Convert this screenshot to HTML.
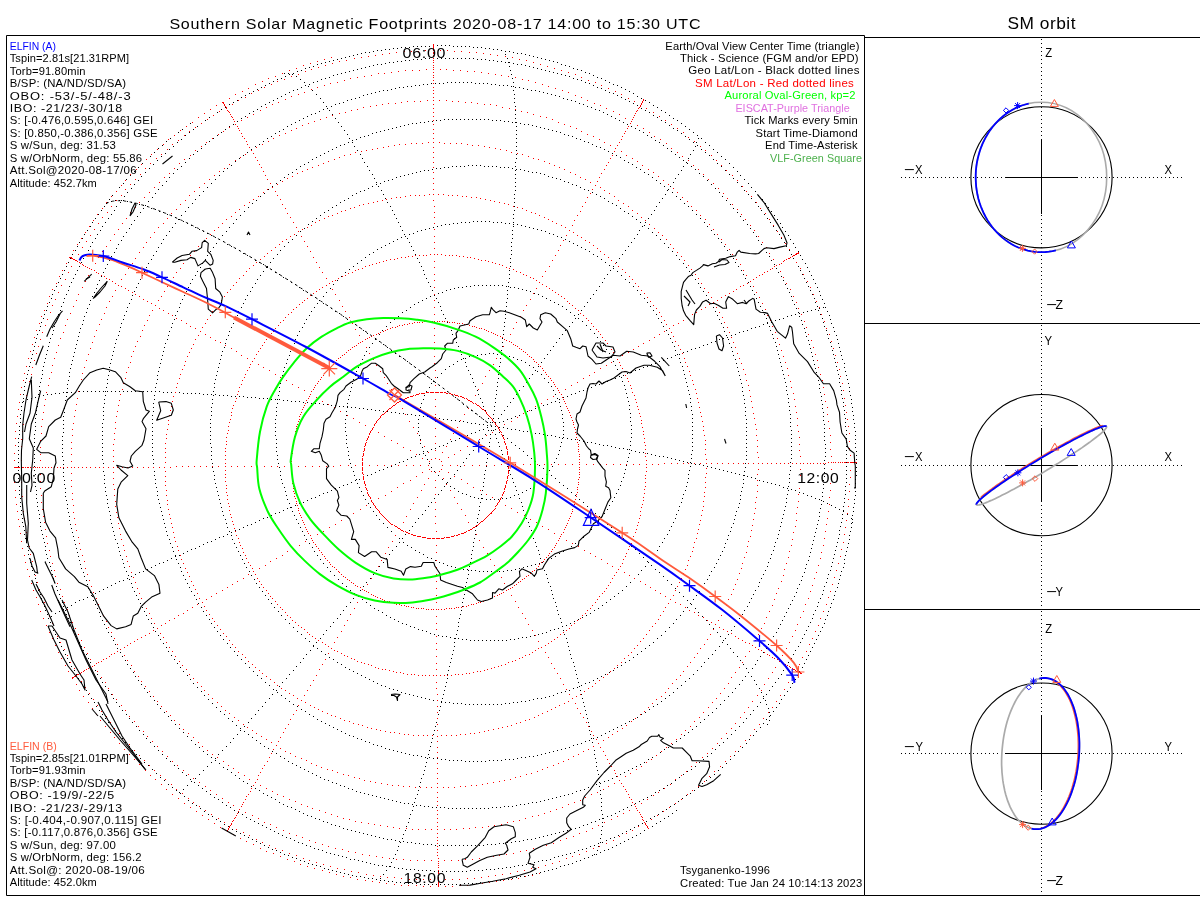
<!DOCTYPE html><html><head><meta charset="utf-8"><title>Southern Solar Magnetic Footprints</title><style>html,body{margin:0;padding:0;background:#fff;overflow:hidden}svg{display:block}</style></head><body><svg width="1200" height="900" viewBox="0 0 1200 900">
<rect width="1200" height="900" fill="#fff"/>
<defs><clipPath id="mc"><rect x="6" y="35" width="858" height="860"/></clipPath></defs>
<g clip-path="url(#mc)">
<path d="M106 203h1v1h-1zM109 199h1v1h-1zM112 195h1v1h-1zM116 191h1v1h-1zM119 187h1v1h-1zM123 183h1v1h-1zM126 179h1v1h-1zM130 175h1v1h-1zM134 171h1v1h-1zM138 167h1v1h-1zM142 163h1v1h-1zM146 159h1v1h-1zM150 156h1v1h-1zM154 152h1v1h-1zM158 148h1v1h-1zM162 145h1v1h-1zM166 141h1v1h-1zM170 138h1v1h-1zM174 135h1v1h-1zM178 132h1v1h-1zM182 129h1v1h-1zM186 126h1v1h-1zM190 123h1v1h-1zM676 810h1v1h-1zM672 813h1v1h-1zM668 816h1v1h-1zM664 818h1v1h-1zM660 821h1v1h-1zM656 823h1v1h-1zM652 826h1v1h-1zM648 828h1v1h-1zM644 830h1v1h-1zM640 833h1v1h-1zM636 835h1v1h-1zM632 837h1v1h-1zM628 839h1v1h-1zM624 841h1v1h-1zM620 843h1v1h-1zM616 845h1v1h-1zM612 847h1v1h-1zM608 849h1v1h-1zM604 850h1v1h-1zM600 852h1v1h-1zM596 854h1v1h-1zM592 855h1v1h-1zM588 857h1v1h-1zM584 858h1v1h-1zM580 860h1v1h-1zM576 861h1v1h-1zM572 863h1v1h-1zM568 864h1v1h-1zM564 865h1v1h-1zM560 866h1v1h-1zM556 868h1v1h-1zM552 869h1v1h-1zM548 870h1v1h-1zM544 871h1v1h-1zM540 872h1v1h-1zM536 873h1v1h-1zM532 874h1v1h-1zM528 875h1v1h-1zM524 876h1v1h-1zM520 876h1v1h-1zM516 877h1v1h-1zM512 878h1v1h-1zM508 879h1v1h-1zM504 879h1v1h-1zM500 880h1v1h-1zM496 880h1v1h-1zM492 881h1v1h-1zM488 881h1v1h-1zM484 882h1v1h-1zM480 882h1v1h-1zM476 883h1v1h-1zM472 883h1v1h-1zM468 883h1v1h-1zM464 883h1v1h-1zM460 884h1v1h-1zM456 884h1v1h-1zM452 884h1v1h-1zM448 884h1v1h-1zM444 884h1v1h-1zM440 884h1v1h-1zM436 884h1v1h-1zM432 884h1v1h-1zM428 884h1v1h-1zM424 884h1v1h-1zM420 884h1v1h-1zM416 883h1v1h-1zM412 883h1v1h-1zM408 883h1v1h-1zM404 883h1v1h-1zM400 882h1v1h-1zM396 882h1v1h-1zM392 881h1v1h-1zM388 881h1v1h-1zM384 880h1v1h-1zM380 880h1v1h-1zM376 879h1v1h-1zM372 878h1v1h-1zM368 878h1v1h-1zM364 877h1v1h-1zM360 876h1v1h-1zM356 876h1v1h-1zM352 875h1v1h-1zM348 874h1v1h-1zM344 873h1v1h-1zM340 872h1v1h-1zM336 871h1v1h-1zM332 870h1v1h-1zM328 869h1v1h-1zM324 868h1v1h-1zM320 866h1v1h-1zM316 865h1v1h-1zM312 864h1v1h-1zM308 863h1v1h-1zM304 861h1v1h-1zM300 860h1v1h-1zM296 858h1v1h-1zM292 857h1v1h-1zM288 855h1v1h-1zM284 854h1v1h-1zM280 852h1v1h-1zM276 850h1v1h-1zM272 849h1v1h-1zM268 847h1v1h-1zM264 845h1v1h-1zM260 843h1v1h-1zM256 841h1v1h-1zM252 839h1v1h-1zM248 837h1v1h-1zM244 835h1v1h-1zM240 833h1v1h-1zM236 831h1v1h-1zM232 829h1v1h-1zM228 826h1v1h-1zM224 824h1v1h-1zM220 821h1v1h-1zM216 819h1v1h-1zM212 816h1v1h-1zM208 814h1v1h-1zM204 811h1v1h-1zM200 808h1v1h-1zM196 805h1v1h-1zM192 803h1v1h-1zM188 800h1v1h-1zM184 796h1v1h-1zM180 793h1v1h-1zM176 790h1v1h-1zM172 787h1v1h-1zM168 784h1v1h-1zM164 780h1v1h-1zM160 777h1v1h-1zM156 773h1v1h-1zM152 769h1v1h-1zM148 765h1v1h-1zM144 762h1v1h-1zM140 758h1v1h-1zM136 754h1v1h-1zM132 750h1v1h-1zM129 746h1v1h-1zM125 742h1v1h-1zM122 738h1v1h-1zM118 734h1v1h-1zM115 730h1v1h-1zM112 726h1v1h-1zM108 722h1v1h-1zM105 718h1v1h-1zM102 714h1v1h-1zM99 710h1v1h-1zM96 706h1v1h-1zM94 702h1v1h-1zM91 698h1v1h-1zM88 694h1v1h-1zM86 690h1v1h-1zM83 686h1v1h-1zM81 682h1v1h-1zM78 678h1v1h-1zM76 674h1v1h-1zM74 670h1v1h-1zM71 666h1v1h-1zM69 662h1v1h-1zM67 658h1v1h-1zM65 654h1v1h-1zM63 650h1v1h-1zM61 646h1v1h-1zM59 642h1v1h-1zM57 638h1v1h-1zM55 634h1v1h-1zM53 630h1v1h-1zM52 626h1v1h-1zM50 622h1v1h-1zM48 618h1v1h-1zM47 614h1v1h-1zM45 610h1v1h-1zM44 606h1v1h-1zM42 602h1v1h-1zM41 598h1v1h-1zM40 594h1v1h-1zM38 590h1v1h-1zM37 586h1v1h-1zM36 582h1v1h-1zM35 578h1v1h-1zM34 574h1v1h-1zM32 570h1v1h-1zM31 566h1v1h-1zM30 562h1v1h-1zM29 558h1v1h-1zM28 554h1v1h-1zM28 550h1v1h-1zM27 546h1v1h-1zM26 542h1v1h-1zM25 538h1v1h-1zM24 534h1v1h-1zM24 530h1v1h-1zM23 526h1v1h-1zM22 522h1v1h-1zM22 518h1v1h-1zM21 514h1v1h-1zM21 510h1v1h-1zM20 506h1v1h-1zM20 502h1v1h-1zM20 498h1v1h-1zM19 494h1v1h-1zM19 490h1v1h-1zM19 486h1v1h-1zM18 482h1v1h-1zM18 478h1v1h-1zM18 474h1v1h-1zM18 470h1v1h-1zM18 466h1v1h-1zM18 462h1v1h-1zM18 458h1v1h-1zM18 454h1v1h-1zM18 450h1v1h-1zM18 446h1v1h-1zM18 442h1v1h-1zM18 438h1v1h-1zM19 434h1v1h-1zM19 430h1v1h-1zM19 426h1v1h-1zM20 422h1v1h-1zM20 418h1v1h-1zM20 414h1v1h-1zM21 410h1v1h-1zM21 406h1v1h-1zM22 402h1v1h-1zM23 398h1v1h-1zM23 394h1v1h-1zM24 390h1v1h-1zM24 386h1v1h-1zM25 382h1v1h-1zM26 378h1v1h-1zM27 374h1v1h-1zM28 370h1v1h-1zM29 366h1v1h-1zM30 362h1v1h-1zM31 358h1v1h-1zM32 354h1v1h-1zM33 350h1v1h-1zM34 346h1v1h-1zM35 342h1v1h-1zM36 338h1v1h-1zM37 334h1v1h-1zM39 330h1v1h-1zM40 326h1v1h-1zM41 322h1v1h-1zM43 318h1v1h-1zM44 314h1v1h-1zM46 310h1v1h-1zM47 306h1v1h-1zM49 302h1v1h-1zM51 298h1v1h-1zM52 294h1v1h-1zM54 290h1v1h-1zM56 286h1v1h-1zM58 282h1v1h-1zM60 278h1v1h-1zM62 274h1v1h-1zM64 270h1v1h-1zM66 266h1v1h-1zM68 262h1v1h-1zM70 258h1v1h-1zM72 254h1v1h-1zM75 250h1v1h-1zM77 246h1v1h-1zM79 242h1v1h-1zM82 238h1v1h-1zM84 234h1v1h-1zM87 230h1v1h-1zM90 226h1v1h-1zM92 222h1v1h-1zM95 218h1v1h-1zM98 214h1v1h-1zM101 210h1v1h-1zM104 206h1v1h-1zM121 200h1v1h-1zM124 196h1v1h-1zM127 192h1v1h-1zM131 188h1v1h-1zM134 184h1v1h-1zM138 180h1v1h-1zM141 176h1v1h-1zM145 172h1v1h-1zM149 168h1v1h-1zM153 164h1v1h-1zM157 160h1v1h-1zM161 156h1v1h-1zM165 153h1v1h-1zM169 149h1v1h-1zM173 146h1v1h-1zM177 142h1v1h-1zM181 139h1v1h-1zM185 135h1v1h-1zM189 132h1v1h-1zM193 129h1v1h-1zM197 126h1v1h-1zM201 123h1v1h-1zM205 120h1v1h-1zM209 117h1v1h-1zM213 115h1v1h-1zM217 112h1v1h-1zM221 109h1v1h-1zM225 107h1v1h-1zM229 104h1v1h-1zM233 102h1v1h-1zM237 100h1v1h-1zM241 97h1v1h-1zM245 95h1v1h-1zM249 93h1v1h-1zM253 91h1v1h-1zM257 89h1v1h-1zM261 87h1v1h-1zM265 85h1v1h-1zM269 83h1v1h-1zM273 81h1v1h-1zM277 79h1v1h-1zM281 78h1v1h-1zM285 76h1v1h-1zM289 74h1v1h-1zM293 73h1v1h-1zM297 71h1v1h-1zM301 70h1v1h-1zM305 68h1v1h-1zM309 67h1v1h-1zM313 66h1v1h-1zM317 64h1v1h-1zM321 63h1v1h-1zM325 62h1v1h-1zM329 61h1v1h-1zM333 60h1v1h-1zM337 59h1v1h-1zM341 58h1v1h-1zM345 57h1v1h-1zM349 56h1v1h-1zM353 55h1v1h-1zM357 54h1v1h-1zM361 53h1v1h-1zM365 52h1v1h-1zM369 52h1v1h-1zM373 51h1v1h-1zM377 50h1v1h-1zM381 50h1v1h-1zM385 49h1v1h-1zM389 49h1v1h-1zM393 48h1v1h-1zM397 48h1v1h-1zM401 47h1v1h-1zM405 47h1v1h-1zM409 47h1v1h-1zM413 46h1v1h-1zM417 46h1v1h-1zM421 46h1v1h-1zM425 46h1v1h-1zM429 46h1v1h-1zM433 45h1v1h-1zM437 45h1v1h-1zM441 45h1v1h-1zM445 45h1v1h-1zM449 45h1v1h-1zM453 46h1v1h-1zM457 46h1v1h-1zM461 46h1v1h-1zM465 46h1v1h-1zM469 46h1v1h-1zM473 47h1v1h-1zM477 47h1v1h-1zM481 47h1v1h-1zM485 48h1v1h-1zM489 48h1v1h-1zM493 49h1v1h-1zM497 49h1v1h-1zM501 50h1v1h-1zM505 51h1v1h-1zM509 51h1v1h-1zM513 52h1v1h-1zM517 53h1v1h-1zM521 53h1v1h-1zM525 54h1v1h-1zM529 55h1v1h-1zM533 56h1v1h-1zM537 57h1v1h-1zM541 58h1v1h-1zM545 59h1v1h-1zM549 60h1v1h-1zM553 61h1v1h-1zM557 62h1v1h-1zM561 64h1v1h-1zM565 65h1v1h-1zM569 66h1v1h-1zM573 68h1v1h-1zM577 69h1v1h-1zM581 70h1v1h-1zM585 72h1v1h-1zM589 73h1v1h-1zM593 75h1v1h-1zM597 77h1v1h-1zM601 78h1v1h-1zM605 80h1v1h-1zM609 82h1v1h-1zM613 84h1v1h-1zM617 85h1v1h-1zM621 87h1v1h-1zM625 89h1v1h-1zM629 91h1v1h-1zM633 93h1v1h-1zM637 96h1v1h-1zM641 98h1v1h-1zM645 100h1v1h-1zM649 102h1v1h-1zM653 105h1v1h-1zM657 107h1v1h-1zM661 110h1v1h-1zM665 112h1v1h-1zM669 115h1v1h-1zM673 118h1v1h-1zM677 120h1v1h-1zM681 123h1v1h-1zM685 126h1v1h-1zM689 129h1v1h-1zM693 132h1v1h-1zM697 135h1v1h-1zM701 138h1v1h-1zM705 142h1v1h-1zM709 145h1v1h-1zM713 149h1v1h-1zM717 152h1v1h-1zM721 156h1v1h-1zM725 159h1v1h-1zM729 163h1v1h-1zM733 167h1v1h-1zM737 171h1v1h-1zM740 175h1v1h-1zM744 179h1v1h-1zM748 183h1v1h-1zM751 187h1v1h-1zM755 191h1v1h-1zM758 195h1v1h-1zM762 199h1v1h-1zM765 203h1v1h-1zM768 207h1v1h-1zM771 211h1v1h-1zM774 215h1v1h-1zM777 219h1v1h-1zM780 223h1v1h-1zM782 227h1v1h-1zM785 231h1v1h-1zM788 235h1v1h-1zM790 239h1v1h-1zM793 243h1v1h-1zM795 247h1v1h-1zM798 251h1v1h-1zM800 255h1v1h-1zM802 259h1v1h-1zM805 263h1v1h-1zM807 267h1v1h-1zM809 271h1v1h-1zM811 275h1v1h-1zM813 279h1v1h-1zM815 283h1v1h-1zM817 287h1v1h-1zM819 291h1v1h-1zM820 295h1v1h-1zM822 299h1v1h-1zM824 303h1v1h-1zM825 307h1v1h-1zM827 311h1v1h-1zM829 315h1v1h-1zM830 319h1v1h-1zM831 323h1v1h-1zM833 327h1v1h-1zM834 331h1v1h-1zM836 335h1v1h-1zM837 339h1v1h-1zM838 343h1v1h-1zM839 347h1v1h-1zM840 351h1v1h-1zM841 355h1v1h-1zM842 359h1v1h-1zM844 363h1v1h-1zM844 367h1v1h-1zM845 371h1v1h-1zM846 375h1v1h-1zM847 379h1v1h-1zM848 383h1v1h-1zM849 387h1v1h-1zM849 391h1v1h-1zM850 395h1v1h-1zM851 399h1v1h-1zM851 403h1v1h-1zM852 407h1v1h-1zM852 411h1v1h-1zM853 415h1v1h-1zM853 419h1v1h-1zM854 423h1v1h-1zM854 427h1v1h-1zM855 431h1v1h-1zM855 435h1v1h-1zM855 439h1v1h-1zM855 443h1v1h-1zM855 447h1v1h-1zM856 451h1v1h-1zM856 455h1v1h-1zM856 459h1v1h-1zM856 463h1v1h-1zM856 467h1v1h-1zM856 471h1v1h-1zM856 475h1v1h-1zM855 479h1v1h-1zM855 483h1v1h-1zM855 487h1v1h-1zM855 491h1v1h-1zM855 495h1v1h-1zM854 499h1v1h-1zM854 503h1v1h-1zM853 507h1v1h-1zM853 511h1v1h-1zM852 515h1v1h-1zM852 519h1v1h-1zM851 523h1v1h-1zM851 527h1v1h-1zM850 531h1v1h-1zM849 535h1v1h-1zM849 539h1v1h-1zM848 543h1v1h-1zM847 547h1v1h-1zM846 551h1v1h-1zM845 555h1v1h-1zM844 559h1v1h-1zM844 563h1v1h-1zM843 567h1v1h-1zM841 571h1v1h-1zM840 575h1v1h-1zM839 579h1v1h-1zM838 583h1v1h-1zM837 587h1v1h-1zM835 591h1v1h-1zM834 595h1v1h-1zM833 599h1v1h-1zM831 603h1v1h-1zM830 607h1v1h-1zM828 611h1v1h-1zM827 615h1v1h-1zM825 619h1v1h-1zM824 623h1v1h-1zM822 627h1v1h-1zM820 631h1v1h-1zM818 635h1v1h-1zM816 639h1v1h-1zM814 643h1v1h-1zM812 647h1v1h-1zM810 651h1v1h-1zM808 655h1v1h-1zM806 659h1v1h-1zM804 663h1v1h-1zM802 667h1v1h-1zM799 671h1v1h-1zM797 675h1v1h-1zM795 679h1v1h-1zM792 683h1v1h-1zM790 687h1v1h-1zM787 691h1v1h-1zM784 695h1v1h-1zM781 699h1v1h-1zM779 703h1v1h-1zM776 707h1v1h-1zM773 711h1v1h-1zM770 715h1v1h-1zM766 719h1v1h-1zM763 723h1v1h-1zM760 727h1v1h-1zM756 731h1v1h-1zM753 735h1v1h-1zM749 739h1v1h-1zM746 743h1v1h-1zM742 747h1v1h-1zM738 751h1v1h-1zM734 755h1v1h-1zM730 759h1v1h-1zM726 763h1v1h-1zM722 767h1v1h-1zM718 770h1v1h-1zM714 774h1v1h-1zM710 777h1v1h-1zM706 780h1v1h-1zM702 783h1v1h-1zM698 787h1v1h-1zM694 790h1v1h-1zM690 793h1v1h-1zM686 795h1v1h-1zM682 798h1v1h-1zM678 801h1v1h-1zM674 804h1v1h-1zM670 806h1v1h-1zM666 809h1v1h-1zM662 811h1v1h-1zM658 814h1v1h-1zM654 816h1v1h-1zM650 818h1v1h-1zM646 821h1v1h-1zM642 823h1v1h-1zM638 825h1v1h-1zM634 827h1v1h-1zM630 829h1v1h-1zM626 831h1v1h-1zM622 833h1v1h-1zM618 835h1v1h-1zM614 837h1v1h-1zM610 838h1v1h-1zM606 840h1v1h-1zM602 842h1v1h-1zM598 843h1v1h-1zM594 845h1v1h-1zM590 846h1v1h-1zM586 848h1v1h-1zM582 849h1v1h-1zM578 850h1v1h-1zM574 852h1v1h-1zM570 853h1v1h-1zM566 854h1v1h-1zM562 855h1v1h-1zM558 856h1v1h-1zM554 857h1v1h-1zM550 859h1v1h-1zM546 860h1v1h-1zM542 860h1v1h-1zM538 861h1v1h-1zM534 862h1v1h-1zM530 863h1v1h-1zM526 864h1v1h-1zM522 865h1v1h-1zM518 865h1v1h-1zM514 866h1v1h-1zM510 867h1v1h-1zM506 867h1v1h-1zM502 868h1v1h-1zM498 868h1v1h-1zM494 869h1v1h-1zM490 869h1v1h-1zM486 869h1v1h-1zM482 870h1v1h-1zM478 870h1v1h-1zM474 870h1v1h-1zM470 870h1v1h-1zM466 871h1v1h-1zM462 871h1v1h-1zM458 871h1v1h-1zM454 871h1v1h-1zM450 871h1v1h-1zM446 871h1v1h-1zM442 871h1v1h-1zM438 871h1v1h-1zM434 871h1v1h-1zM430 870h1v1h-1zM426 870h1v1h-1zM422 870h1v1h-1zM418 870h1v1h-1zM414 869h1v1h-1zM410 869h1v1h-1zM406 869h1v1h-1zM402 868h1v1h-1zM398 868h1v1h-1zM394 867h1v1h-1zM390 866h1v1h-1zM386 866h1v1h-1zM382 865h1v1h-1zM378 865h1v1h-1zM374 864h1v1h-1zM370 863h1v1h-1zM366 862h1v1h-1zM362 861h1v1h-1zM358 860h1v1h-1zM354 859h1v1h-1zM350 859h1v1h-1zM346 857h1v1h-1zM342 856h1v1h-1zM338 855h1v1h-1zM334 854h1v1h-1zM330 853h1v1h-1zM326 852h1v1h-1zM322 850h1v1h-1zM318 849h1v1h-1zM314 848h1v1h-1zM310 846h1v1h-1zM306 845h1v1h-1zM302 843h1v1h-1zM298 842h1v1h-1zM294 840h1v1h-1zM290 838h1v1h-1zM286 837h1v1h-1zM282 835h1v1h-1zM278 833h1v1h-1zM274 831h1v1h-1zM270 829h1v1h-1zM266 827h1v1h-1zM262 825h1v1h-1zM258 823h1v1h-1zM254 821h1v1h-1zM250 819h1v1h-1zM246 817h1v1h-1zM242 814h1v1h-1zM238 812h1v1h-1zM234 810h1v1h-1zM230 807h1v1h-1zM226 805h1v1h-1zM222 802h1v1h-1zM218 799h1v1h-1zM214 797h1v1h-1zM210 794h1v1h-1zM206 791h1v1h-1zM202 788h1v1h-1zM198 785h1v1h-1zM194 782h1v1h-1zM190 779h1v1h-1zM186 775h1v1h-1zM182 772h1v1h-1zM178 768h1v1h-1zM174 765h1v1h-1zM170 761h1v1h-1zM166 758h1v1h-1zM162 754h1v1h-1zM158 750h1v1h-1zM154 746h1v1h-1zM150 742h1v1h-1zM146 738h1v1h-1zM143 734h1v1h-1zM139 730h1v1h-1zM136 726h1v1h-1zM132 722h1v1h-1zM129 718h1v1h-1zM126 714h1v1h-1zM122 710h1v1h-1zM119 706h1v1h-1zM116 702h1v1h-1zM113 698h1v1h-1zM111 694h1v1h-1zM108 690h1v1h-1zM105 686h1v1h-1zM102 682h1v1h-1zM100 678h1v1h-1zM97 674h1v1h-1zM95 670h1v1h-1zM92 666h1v1h-1zM90 662h1v1h-1zM88 658h1v1h-1zM86 654h1v1h-1zM83 650h1v1h-1zM81 646h1v1h-1zM79 642h1v1h-1zM77 638h1v1h-1zM75 634h1v1h-1zM73 630h1v1h-1zM72 626h1v1h-1zM70 622h1v1h-1zM68 618h1v1h-1zM66 614h1v1h-1zM65 610h1v1h-1zM63 606h1v1h-1zM62 602h1v1h-1zM60 598h1v1h-1zM59 594h1v1h-1zM57 590h1v1h-1zM56 586h1v1h-1zM54 582h1v1h-1zM53 578h1v1h-1zM52 574h1v1h-1zM51 570h1v1h-1zM50 566h1v1h-1zM49 562h1v1h-1zM47 558h1v1h-1zM46 554h1v1h-1zM45 550h1v1h-1zM45 546h1v1h-1zM44 542h1v1h-1zM43 538h1v1h-1zM42 534h1v1h-1zM41 530h1v1h-1zM40 526h1v1h-1zM40 522h1v1h-1zM39 518h1v1h-1zM39 514h1v1h-1zM38 510h1v1h-1zM37 506h1v1h-1zM37 502h1v1h-1zM36 498h1v1h-1zM36 494h1v1h-1zM36 490h1v1h-1zM35 486h1v1h-1zM35 482h1v1h-1zM35 478h1v1h-1zM35 474h1v1h-1zM34 470h1v1h-1zM34 466h1v1h-1zM34 462h1v1h-1zM34 458h1v1h-1zM34 454h1v1h-1zM34 450h1v1h-1zM34 446h1v1h-1zM34 442h1v1h-1zM34 438h1v1h-1zM34 434h1v1h-1zM35 430h1v1h-1zM35 426h1v1h-1zM35 422h1v1h-1zM35 418h1v1h-1zM36 414h1v1h-1zM36 410h1v1h-1zM37 406h1v1h-1zM37 402h1v1h-1zM38 398h1v1h-1zM38 394h1v1h-1zM39 390h1v1h-1zM39 386h1v1h-1zM40 382h1v1h-1zM41 378h1v1h-1zM42 374h1v1h-1zM42 370h1v1h-1zM43 366h1v1h-1zM44 362h1v1h-1zM45 358h1v1h-1zM46 354h1v1h-1zM47 350h1v1h-1zM48 346h1v1h-1zM49 342h1v1h-1zM50 338h1v1h-1zM52 334h1v1h-1zM53 330h1v1h-1zM54 326h1v1h-1zM55 322h1v1h-1zM57 318h1v1h-1zM58 314h1v1h-1zM60 310h1v1h-1zM61 306h1v1h-1zM63 302h1v1h-1zM64 298h1v1h-1zM66 294h1v1h-1zM68 290h1v1h-1zM69 286h1v1h-1zM71 282h1v1h-1zM73 278h1v1h-1zM75 274h1v1h-1zM77 270h1v1h-1zM79 266h1v1h-1zM81 262h1v1h-1zM83 258h1v1h-1zM85 254h1v1h-1zM88 250h1v1h-1zM90 246h1v1h-1zM92 242h1v1h-1zM95 238h1v1h-1zM97 234h1v1h-1zM100 230h1v1h-1zM102 226h1v1h-1zM105 222h1v1h-1zM108 218h1v1h-1zM111 214h1v1h-1zM114 210h1v1h-1zM116 206h1v1h-1zM120 202h1v1h-1zM145 205h1v1h-1zM148 201h1v1h-1zM152 197h1v1h-1zM155 193h1v1h-1zM158 189h1v1h-1zM162 185h1v1h-1zM166 181h1v1h-1zM169 177h1v1h-1zM173 173h1v1h-1zM177 169h1v1h-1zM181 166h1v1h-1zM185 162h1v1h-1zM189 158h1v1h-1zM193 154h1v1h-1zM197 151h1v1h-1zM201 148h1v1h-1zM205 144h1v1h-1zM209 141h1v1h-1zM213 138h1v1h-1zM217 135h1v1h-1zM221 132h1v1h-1zM225 129h1v1h-1zM229 126h1v1h-1zM233 124h1v1h-1zM237 121h1v1h-1zM241 118h1v1h-1zM245 116h1v1h-1zM249 113h1v1h-1zM253 111h1v1h-1zM257 109h1v1h-1zM261 106h1v1h-1zM265 104h1v1h-1zM269 102h1v1h-1zM273 100h1v1h-1zM277 98h1v1h-1zM281 96h1v1h-1zM285 94h1v1h-1zM289 92h1v1h-1zM293 90h1v1h-1zM297 89h1v1h-1zM301 87h1v1h-1zM305 85h1v1h-1zM309 84h1v1h-1zM313 82h1v1h-1zM317 81h1v1h-1zM321 79h1v1h-1zM325 78h1v1h-1zM329 77h1v1h-1zM333 75h1v1h-1zM337 74h1v1h-1zM341 73h1v1h-1zM345 72h1v1h-1zM349 71h1v1h-1zM353 70h1v1h-1zM357 69h1v1h-1zM361 68h1v1h-1zM365 67h1v1h-1zM369 66h1v1h-1zM373 65h1v1h-1zM377 64h1v1h-1zM381 64h1v1h-1zM385 63h1v1h-1zM389 62h1v1h-1zM393 62h1v1h-1zM397 61h1v1h-1zM401 61h1v1h-1zM405 60h1v1h-1zM409 60h1v1h-1zM413 59h1v1h-1zM417 59h1v1h-1zM421 59h1v1h-1zM425 58h1v1h-1zM429 58h1v1h-1zM433 58h1v1h-1zM437 58h1v1h-1zM441 58h1v1h-1zM445 58h1v1h-1zM449 58h1v1h-1zM453 58h1v1h-1zM457 58h1v1h-1zM461 58h1v1h-1zM465 58h1v1h-1zM469 58h1v1h-1zM473 58h1v1h-1zM477 59h1v1h-1zM481 59h1v1h-1zM485 59h1v1h-1zM489 60h1v1h-1zM493 60h1v1h-1zM497 61h1v1h-1zM501 61h1v1h-1zM505 62h1v1h-1zM509 62h1v1h-1zM513 63h1v1h-1zM517 64h1v1h-1zM521 64h1v1h-1zM525 65h1v1h-1zM529 66h1v1h-1zM533 67h1v1h-1zM537 68h1v1h-1zM541 69h1v1h-1zM545 70h1v1h-1zM549 71h1v1h-1zM553 72h1v1h-1zM557 73h1v1h-1zM561 74h1v1h-1zM565 75h1v1h-1zM569 76h1v1h-1zM573 78h1v1h-1zM577 79h1v1h-1zM581 80h1v1h-1zM585 82h1v1h-1zM589 83h1v1h-1zM593 85h1v1h-1zM597 87h1v1h-1zM601 88h1v1h-1zM605 90h1v1h-1zM609 92h1v1h-1zM613 93h1v1h-1zM617 95h1v1h-1zM621 97h1v1h-1zM625 99h1v1h-1zM629 101h1v1h-1zM633 103h1v1h-1zM637 105h1v1h-1zM641 108h1v1h-1zM645 110h1v1h-1zM649 112h1v1h-1zM653 115h1v1h-1zM657 117h1v1h-1zM661 120h1v1h-1zM665 122h1v1h-1zM669 125h1v1h-1zM673 128h1v1h-1zM677 130h1v1h-1zM681 133h1v1h-1zM685 136h1v1h-1zM689 139h1v1h-1zM693 142h1v1h-1zM697 145h1v1h-1zM701 149h1v1h-1zM705 152h1v1h-1zM709 155h1v1h-1zM713 159h1v1h-1zM717 163h1v1h-1zM721 166h1v1h-1zM725 170h1v1h-1zM729 174h1v1h-1zM733 178h1v1h-1zM737 182h1v1h-1zM741 186h1v1h-1zM744 190h1v1h-1zM748 194h1v1h-1zM751 198h1v1h-1zM755 202h1v1h-1zM758 206h1v1h-1zM761 210h1v1h-1zM764 214h1v1h-1zM767 218h1v1h-1zM770 222h1v1h-1zM773 226h1v1h-1zM776 230h1v1h-1zM779 234h1v1h-1zM781 238h1v1h-1zM784 242h1v1h-1zM786 246h1v1h-1zM789 250h1v1h-1zM791 254h1v1h-1zM793 258h1v1h-1zM796 262h1v1h-1zM798 266h1v1h-1zM800 270h1v1h-1zM802 274h1v1h-1zM804 278h1v1h-1zM806 282h1v1h-1zM808 286h1v1h-1zM810 290h1v1h-1zM812 294h1v1h-1zM814 298h1v1h-1zM815 302h1v1h-1zM817 306h1v1h-1zM818 310h1v1h-1zM820 314h1v1h-1zM822 318h1v1h-1zM823 322h1v1h-1zM824 326h1v1h-1zM826 330h1v1h-1zM827 334h1v1h-1zM828 338h1v1h-1zM830 342h1v1h-1zM831 346h1v1h-1zM832 350h1v1h-1zM833 354h1v1h-1zM834 358h1v1h-1zM835 362h1v1h-1zM836 366h1v1h-1zM837 370h1v1h-1zM838 374h1v1h-1zM839 378h1v1h-1zM839 382h1v1h-1zM840 386h1v1h-1zM841 390h1v1h-1zM841 394h1v1h-1zM842 398h1v1h-1zM843 402h1v1h-1zM843 406h1v1h-1zM844 410h1v1h-1zM844 414h1v1h-1zM845 418h1v1h-1zM845 422h1v1h-1zM845 426h1v1h-1zM846 430h1v1h-1zM846 434h1v1h-1zM846 438h1v1h-1zM846 442h1v1h-1zM846 446h1v1h-1zM846 450h1v1h-1zM846 454h1v1h-1zM846 458h1v1h-1zM846 462h1v1h-1zM846 466h1v1h-1zM846 470h1v1h-1zM846 474h1v1h-1zM846 478h1v1h-1zM846 482h1v1h-1zM845 486h1v1h-1zM845 490h1v1h-1zM845 494h1v1h-1zM844 498h1v1h-1zM844 502h1v1h-1zM843 506h1v1h-1zM843 510h1v1h-1zM842 514h1v1h-1zM842 518h1v1h-1zM841 522h1v1h-1zM840 526h1v1h-1zM839 530h1v1h-1zM839 534h1v1h-1zM838 538h1v1h-1zM837 542h1v1h-1zM836 546h1v1h-1zM835 550h1v1h-1zM834 554h1v1h-1zM833 558h1v1h-1zM832 562h1v1h-1zM831 566h1v1h-1zM830 570h1v1h-1zM828 574h1v1h-1zM827 578h1v1h-1zM826 582h1v1h-1zM824 586h1v1h-1zM823 590h1v1h-1zM822 594h1v1h-1zM820 598h1v1h-1zM818 602h1v1h-1zM817 606h1v1h-1zM815 610h1v1h-1zM813 614h1v1h-1zM812 618h1v1h-1zM810 622h1v1h-1zM808 626h1v1h-1zM806 630h1v1h-1zM804 634h1v1h-1zM802 638h1v1h-1zM800 642h1v1h-1zM798 646h1v1h-1zM795 650h1v1h-1zM793 654h1v1h-1zM791 658h1v1h-1zM788 662h1v1h-1zM786 666h1v1h-1zM783 670h1v1h-1zM781 674h1v1h-1zM778 678h1v1h-1zM775 682h1v1h-1zM772 686h1v1h-1zM769 690h1v1h-1zM766 694h1v1h-1zM763 698h1v1h-1zM760 702h1v1h-1zM757 706h1v1h-1zM753 710h1v1h-1zM750 714h1v1h-1zM746 718h1v1h-1zM743 722h1v1h-1zM739 726h1v1h-1zM735 730h1v1h-1zM731 734h1v1h-1zM727 738h1v1h-1zM723 742h1v1h-1zM719 745h1v1h-1zM715 749h1v1h-1zM711 753h1v1h-1zM707 756h1v1h-1zM703 759h1v1h-1zM699 762h1v1h-1zM695 766h1v1h-1zM691 769h1v1h-1zM687 771h1v1h-1zM683 774h1v1h-1zM679 777h1v1h-1zM675 780h1v1h-1zM671 783h1v1h-1zM667 785h1v1h-1zM663 788h1v1h-1zM659 790h1v1h-1zM655 792h1v1h-1zM651 795h1v1h-1zM647 797h1v1h-1zM643 799h1v1h-1zM639 801h1v1h-1zM635 803h1v1h-1zM631 805h1v1h-1zM627 807h1v1h-1zM623 809h1v1h-1zM619 811h1v1h-1zM615 813h1v1h-1zM611 815h1v1h-1zM607 816h1v1h-1zM603 818h1v1h-1zM599 819h1v1h-1zM595 821h1v1h-1zM591 822h1v1h-1zM587 824h1v1h-1zM583 825h1v1h-1zM579 827h1v1h-1zM575 828h1v1h-1zM571 829h1v1h-1zM567 830h1v1h-1zM563 831h1v1h-1zM559 832h1v1h-1zM555 833h1v1h-1zM551 834h1v1h-1zM547 835h1v1h-1zM543 836h1v1h-1zM539 837h1v1h-1zM535 838h1v1h-1zM531 839h1v1h-1zM527 839h1v1h-1zM523 840h1v1h-1zM519 841h1v1h-1zM515 841h1v1h-1zM511 842h1v1h-1zM507 842h1v1h-1zM503 843h1v1h-1zM499 843h1v1h-1zM495 844h1v1h-1zM491 844h1v1h-1zM487 844h1v1h-1zM483 845h1v1h-1zM479 845h1v1h-1zM475 845h1v1h-1zM471 845h1v1h-1zM467 845h1v1h-1zM463 845h1v1h-1zM459 845h1v1h-1zM455 845h1v1h-1zM451 845h1v1h-1zM447 845h1v1h-1zM443 845h1v1h-1zM439 845h1v1h-1zM435 845h1v1h-1zM431 844h1v1h-1zM427 844h1v1h-1zM423 844h1v1h-1zM419 843h1v1h-1zM415 843h1v1h-1zM411 842h1v1h-1zM407 842h1v1h-1zM403 841h1v1h-1zM399 841h1v1h-1zM395 840h1v1h-1zM391 839h1v1h-1zM387 839h1v1h-1zM383 838h1v1h-1zM379 837h1v1h-1zM375 836h1v1h-1zM371 835h1v1h-1zM367 834h1v1h-1zM363 833h1v1h-1zM359 832h1v1h-1zM355 831h1v1h-1zM351 830h1v1h-1zM347 829h1v1h-1zM343 828h1v1h-1zM339 826h1v1h-1zM335 825h1v1h-1zM331 824h1v1h-1zM327 822h1v1h-1zM323 821h1v1h-1zM319 819h1v1h-1zM315 818h1v1h-1zM311 816h1v1h-1zM307 815h1v1h-1zM303 813h1v1h-1zM299 811h1v1h-1zM295 809h1v1h-1zM291 807h1v1h-1zM287 806h1v1h-1zM283 804h1v1h-1zM279 802h1v1h-1zM275 799h1v1h-1zM271 797h1v1h-1zM267 795h1v1h-1zM263 793h1v1h-1zM259 790h1v1h-1zM255 788h1v1h-1zM251 786h1v1h-1zM247 783h1v1h-1zM243 781h1v1h-1zM239 778h1v1h-1zM235 775h1v1h-1zM231 772h1v1h-1zM227 769h1v1h-1zM223 767h1v1h-1zM219 763h1v1h-1zM215 760h1v1h-1zM211 757h1v1h-1zM207 754h1v1h-1zM203 751h1v1h-1zM199 747h1v1h-1zM195 744h1v1h-1zM191 740h1v1h-1zM187 736h1v1h-1zM183 732h1v1h-1zM179 728h1v1h-1zM175 724h1v1h-1zM171 720h1v1h-1zM168 716h1v1h-1zM164 712h1v1h-1zM160 708h1v1h-1zM157 704h1v1h-1zM154 700h1v1h-1zM150 696h1v1h-1zM147 692h1v1h-1zM144 688h1v1h-1zM141 684h1v1h-1zM138 680h1v1h-1zM135 676h1v1h-1zM133 672h1v1h-1zM130 668h1v1h-1zM127 664h1v1h-1zM125 660h1v1h-1zM122 656h1v1h-1zM120 652h1v1h-1zM117 648h1v1h-1zM115 644h1v1h-1zM113 640h1v1h-1zM111 636h1v1h-1zM108 632h1v1h-1zM106 628h1v1h-1zM104 624h1v1h-1zM102 620h1v1h-1zM100 616h1v1h-1zM99 612h1v1h-1zM97 608h1v1h-1zM95 604h1v1h-1zM93 600h1v1h-1zM92 596h1v1h-1zM90 592h1v1h-1zM88 588h1v1h-1zM87 584h1v1h-1zM86 580h1v1h-1zM84 576h1v1h-1zM83 572h1v1h-1zM81 568h1v1h-1zM80 564h1v1h-1zM79 560h1v1h-1zM78 556h1v1h-1zM77 552h1v1h-1zM76 548h1v1h-1zM75 544h1v1h-1zM74 540h1v1h-1zM73 536h1v1h-1zM72 532h1v1h-1zM71 528h1v1h-1zM70 524h1v1h-1zM69 520h1v1h-1zM69 516h1v1h-1zM68 512h1v1h-1zM67 508h1v1h-1zM67 504h1v1h-1zM66 500h1v1h-1zM65 496h1v1h-1zM65 492h1v1h-1zM65 488h1v1h-1zM64 484h1v1h-1zM64 480h1v1h-1zM63 476h1v1h-1zM63 472h1v1h-1zM63 468h1v1h-1zM63 464h1v1h-1zM63 460h1v1h-1zM62 456h1v1h-1zM62 452h1v1h-1zM62 448h1v1h-1zM62 444h1v1h-1zM62 440h1v1h-1zM62 436h1v1h-1zM63 432h1v1h-1zM63 428h1v1h-1zM63 424h1v1h-1zM63 420h1v1h-1zM63 416h1v1h-1zM64 412h1v1h-1zM64 408h1v1h-1zM65 404h1v1h-1zM65 400h1v1h-1zM66 396h1v1h-1zM66 392h1v1h-1zM67 388h1v1h-1zM67 384h1v1h-1zM68 380h1v1h-1zM69 376h1v1h-1zM69 372h1v1h-1zM70 368h1v1h-1zM71 364h1v1h-1zM72 360h1v1h-1zM73 356h1v1h-1zM74 352h1v1h-1zM75 348h1v1h-1zM76 344h1v1h-1zM77 340h1v1h-1zM78 336h1v1h-1zM79 332h1v1h-1zM80 328h1v1h-1zM82 324h1v1h-1zM83 320h1v1h-1zM84 316h1v1h-1zM86 312h1v1h-1zM87 308h1v1h-1zM89 304h1v1h-1zM90 300h1v1h-1zM92 296h1v1h-1zM94 292h1v1h-1zM96 288h1v1h-1zM97 284h1v1h-1zM99 280h1v1h-1zM101 276h1v1h-1zM103 272h1v1h-1zM105 268h1v1h-1zM107 264h1v1h-1zM109 260h1v1h-1zM111 256h1v1h-1zM114 252h1v1h-1zM116 248h1v1h-1zM118 244h1v1h-1zM121 240h1v1h-1zM123 236h1v1h-1zM126 232h1v1h-1zM129 228h1v1h-1zM131 224h1v1h-1zM134 220h1v1h-1zM137 216h1v1h-1zM140 212h1v1h-1zM143 208h1v1h-1zM178 219h1v1h-1zM181 215h1v1h-1zM185 211h1v1h-1zM188 207h1v1h-1zM192 203h1v1h-1zM195 199h1v1h-1zM199 195h1v1h-1zM203 191h1v1h-1zM207 187h1v1h-1zM211 183h1v1h-1zM215 179h1v1h-1zM219 175h1v1h-1zM223 171h1v1h-1zM227 168h1v1h-1zM231 165h1v1h-1zM235 161h1v1h-1zM239 158h1v1h-1zM243 155h1v1h-1zM247 152h1v1h-1zM251 149h1v1h-1zM255 146h1v1h-1zM259 144h1v1h-1zM263 141h1v1h-1zM267 138h1v1h-1zM271 136h1v1h-1zM275 133h1v1h-1zM279 131h1v1h-1zM283 129h1v1h-1zM287 126h1v1h-1zM291 124h1v1h-1zM295 122h1v1h-1zM299 120h1v1h-1zM303 118h1v1h-1zM307 116h1v1h-1zM311 114h1v1h-1zM315 113h1v1h-1zM319 111h1v1h-1zM323 109h1v1h-1zM327 108h1v1h-1zM331 106h1v1h-1zM335 104h1v1h-1zM339 103h1v1h-1zM343 102h1v1h-1zM347 100h1v1h-1zM351 99h1v1h-1zM355 98h1v1h-1zM359 97h1v1h-1zM363 95h1v1h-1zM367 94h1v1h-1zM371 93h1v1h-1zM375 92h1v1h-1zM379 91h1v1h-1zM383 90h1v1h-1zM387 90h1v1h-1zM391 89h1v1h-1zM395 88h1v1h-1zM399 87h1v1h-1zM403 87h1v1h-1zM407 86h1v1h-1zM411 86h1v1h-1zM415 85h1v1h-1zM419 85h1v1h-1zM423 84h1v1h-1zM427 84h1v1h-1zM431 83h1v1h-1zM435 83h1v1h-1zM439 83h1v1h-1zM443 83h1v1h-1zM447 82h1v1h-1zM451 82h1v1h-1zM455 82h1v1h-1zM459 82h1v1h-1zM463 82h1v1h-1zM467 82h1v1h-1zM471 82h1v1h-1zM475 83h1v1h-1zM479 83h1v1h-1zM483 83h1v1h-1zM487 83h1v1h-1zM491 84h1v1h-1zM495 84h1v1h-1zM499 85h1v1h-1zM503 85h1v1h-1zM507 85h1v1h-1zM511 86h1v1h-1zM515 87h1v1h-1zM519 87h1v1h-1zM523 88h1v1h-1zM527 89h1v1h-1zM531 90h1v1h-1zM535 90h1v1h-1zM539 91h1v1h-1zM543 92h1v1h-1zM547 93h1v1h-1zM551 94h1v1h-1zM555 95h1v1h-1zM559 96h1v1h-1zM563 98h1v1h-1zM567 99h1v1h-1zM571 100h1v1h-1zM575 101h1v1h-1zM579 103h1v1h-1zM583 104h1v1h-1zM587 106h1v1h-1zM591 107h1v1h-1zM595 109h1v1h-1zM599 110h1v1h-1zM603 112h1v1h-1zM607 114h1v1h-1zM611 116h1v1h-1zM615 118h1v1h-1zM619 120h1v1h-1zM623 122h1v1h-1zM627 124h1v1h-1zM631 126h1v1h-1zM635 128h1v1h-1zM639 130h1v1h-1zM643 132h1v1h-1zM647 135h1v1h-1zM651 137h1v1h-1zM655 140h1v1h-1zM659 142h1v1h-1zM663 145h1v1h-1zM667 148h1v1h-1zM671 151h1v1h-1zM675 154h1v1h-1zM679 157h1v1h-1zM683 160h1v1h-1zM687 163h1v1h-1zM691 166h1v1h-1zM695 169h1v1h-1zM699 173h1v1h-1zM703 176h1v1h-1zM707 180h1v1h-1zM711 184h1v1h-1zM715 188h1v1h-1zM719 192h1v1h-1zM722 196h1v1h-1zM726 200h1v1h-1zM730 204h1v1h-1zM733 208h1v1h-1zM737 212h1v1h-1zM740 216h1v1h-1zM743 220h1v1h-1zM747 224h1v1h-1zM750 228h1v1h-1zM753 232h1v1h-1zM756 236h1v1h-1zM758 240h1v1h-1zM761 244h1v1h-1zM764 248h1v1h-1zM766 252h1v1h-1zM769 256h1v1h-1zM771 260h1v1h-1zM774 264h1v1h-1zM776 268h1v1h-1zM778 272h1v1h-1zM781 276h1v1h-1zM783 280h1v1h-1zM785 284h1v1h-1zM787 288h1v1h-1zM789 292h1v1h-1zM791 296h1v1h-1zM792 300h1v1h-1zM794 304h1v1h-1zM796 308h1v1h-1zM798 312h1v1h-1zM799 316h1v1h-1zM801 320h1v1h-1zM802 324h1v1h-1zM804 328h1v1h-1zM805 332h1v1h-1zM806 336h1v1h-1zM808 340h1v1h-1zM809 344h1v1h-1zM810 348h1v1h-1zM811 352h1v1h-1zM812 356h1v1h-1zM813 360h1v1h-1zM814 364h1v1h-1zM815 368h1v1h-1zM816 372h1v1h-1zM817 376h1v1h-1zM818 380h1v1h-1zM819 384h1v1h-1zM819 388h1v1h-1zM820 392h1v1h-1zM821 396h1v1h-1zM821 400h1v1h-1zM822 404h1v1h-1zM822 408h1v1h-1zM823 412h1v1h-1zM823 416h1v1h-1zM823 420h1v1h-1zM824 424h1v1h-1zM824 428h1v1h-1zM824 432h1v1h-1zM824 436h1v1h-1zM824 440h1v1h-1zM825 444h1v1h-1zM825 448h1v1h-1zM825 452h1v1h-1zM825 456h1v1h-1zM824 460h1v1h-1zM824 464h1v1h-1zM824 468h1v1h-1zM824 472h1v1h-1zM824 476h1v1h-1zM823 480h1v1h-1zM823 484h1v1h-1zM823 488h1v1h-1zM822 492h1v1h-1zM822 496h1v1h-1zM821 500h1v1h-1zM821 504h1v1h-1zM820 508h1v1h-1zM819 512h1v1h-1zM819 516h1v1h-1zM818 520h1v1h-1zM817 524h1v1h-1zM816 528h1v1h-1zM815 532h1v1h-1zM814 536h1v1h-1zM813 540h1v1h-1zM812 544h1v1h-1zM811 548h1v1h-1zM810 552h1v1h-1zM809 556h1v1h-1zM808 560h1v1h-1zM806 564h1v1h-1zM805 568h1v1h-1zM804 572h1v1h-1zM802 576h1v1h-1zM801 580h1v1h-1zM799 584h1v1h-1zM797 588h1v1h-1zM796 592h1v1h-1zM794 596h1v1h-1zM792 600h1v1h-1zM790 604h1v1h-1zM788 608h1v1h-1zM786 612h1v1h-1zM784 616h1v1h-1zM782 620h1v1h-1zM780 624h1v1h-1zM778 628h1v1h-1zM776 632h1v1h-1zM773 636h1v1h-1zM771 640h1v1h-1zM768 644h1v1h-1zM766 648h1v1h-1zM763 652h1v1h-1zM760 656h1v1h-1zM757 660h1v1h-1zM755 664h1v1h-1zM752 668h1v1h-1zM748 672h1v1h-1zM745 676h1v1h-1zM742 680h1v1h-1zM739 684h1v1h-1zM735 688h1v1h-1zM732 692h1v1h-1zM728 696h1v1h-1zM724 700h1v1h-1zM720 704h1v1h-1zM716 708h1v1h-1zM712 712h1v1h-1zM708 715h1v1h-1zM704 719h1v1h-1zM700 722h1v1h-1zM696 726h1v1h-1zM692 729h1v1h-1zM688 732h1v1h-1zM684 735h1v1h-1zM680 738h1v1h-1zM676 741h1v1h-1zM672 744h1v1h-1zM668 747h1v1h-1zM664 749h1v1h-1zM660 752h1v1h-1zM656 755h1v1h-1zM652 757h1v1h-1zM648 759h1v1h-1zM644 762h1v1h-1zM640 764h1v1h-1zM636 766h1v1h-1zM632 768h1v1h-1zM628 770h1v1h-1zM624 772h1v1h-1zM620 774h1v1h-1zM616 776h1v1h-1zM612 778h1v1h-1zM608 780h1v1h-1zM604 781h1v1h-1zM600 783h1v1h-1zM596 784h1v1h-1zM592 786h1v1h-1zM588 787h1v1h-1zM584 789h1v1h-1zM580 790h1v1h-1zM576 791h1v1h-1zM572 793h1v1h-1zM568 794h1v1h-1zM564 795h1v1h-1zM560 796h1v1h-1zM556 797h1v1h-1zM552 798h1v1h-1zM548 799h1v1h-1zM544 800h1v1h-1zM540 801h1v1h-1zM536 802h1v1h-1zM532 802h1v1h-1zM528 803h1v1h-1zM524 804h1v1h-1zM520 804h1v1h-1zM516 805h1v1h-1zM512 806h1v1h-1zM508 806h1v1h-1zM504 806h1v1h-1zM500 807h1v1h-1zM496 807h1v1h-1zM492 807h1v1h-1zM488 808h1v1h-1zM484 808h1v1h-1zM480 808h1v1h-1zM476 808h1v1h-1zM472 808h1v1h-1zM468 808h1v1h-1zM464 808h1v1h-1zM460 808h1v1h-1zM456 808h1v1h-1zM452 808h1v1h-1zM448 808h1v1h-1zM444 807h1v1h-1zM440 807h1v1h-1zM436 807h1v1h-1zM432 807h1v1h-1zM428 806h1v1h-1zM424 806h1v1h-1zM420 805h1v1h-1zM416 805h1v1h-1zM412 804h1v1h-1zM408 803h1v1h-1zM404 803h1v1h-1zM400 802h1v1h-1zM396 801h1v1h-1zM392 800h1v1h-1zM388 799h1v1h-1zM384 798h1v1h-1zM380 797h1v1h-1zM376 796h1v1h-1zM372 795h1v1h-1zM368 794h1v1h-1zM364 793h1v1h-1zM360 792h1v1h-1zM356 791h1v1h-1zM352 789h1v1h-1zM348 788h1v1h-1zM344 786h1v1h-1zM340 785h1v1h-1zM336 783h1v1h-1zM332 782h1v1h-1zM328 780h1v1h-1zM324 779h1v1h-1zM320 777h1v1h-1zM316 775h1v1h-1zM312 773h1v1h-1zM308 771h1v1h-1zM304 769h1v1h-1zM300 767h1v1h-1zM296 765h1v1h-1zM292 763h1v1h-1zM288 761h1v1h-1zM284 758h1v1h-1zM280 756h1v1h-1zM276 753h1v1h-1zM272 751h1v1h-1zM268 748h1v1h-1zM264 746h1v1h-1zM260 743h1v1h-1zM256 740h1v1h-1zM252 737h1v1h-1zM248 734h1v1h-1zM244 731h1v1h-1zM240 728h1v1h-1zM236 725h1v1h-1zM232 721h1v1h-1zM228 718h1v1h-1zM224 714h1v1h-1zM220 711h1v1h-1zM216 707h1v1h-1zM212 703h1v1h-1zM208 699h1v1h-1zM204 695h1v1h-1zM201 691h1v1h-1zM197 687h1v1h-1zM193 683h1v1h-1zM190 679h1v1h-1zM187 675h1v1h-1zM183 671h1v1h-1zM180 667h1v1h-1zM177 663h1v1h-1zM174 659h1v1h-1zM171 655h1v1h-1zM168 651h1v1h-1zM166 647h1v1h-1zM163 643h1v1h-1zM160 639h1v1h-1zM158 635h1v1h-1zM155 631h1v1h-1zM153 627h1v1h-1zM151 623h1v1h-1zM148 619h1v1h-1zM146 615h1v1h-1zM144 611h1v1h-1zM142 607h1v1h-1zM140 603h1v1h-1zM138 599h1v1h-1zM136 595h1v1h-1zM134 591h1v1h-1zM132 587h1v1h-1zM131 583h1v1h-1zM129 579h1v1h-1zM128 575h1v1h-1zM126 571h1v1h-1zM124 567h1v1h-1zM123 563h1v1h-1zM122 559h1v1h-1zM120 555h1v1h-1zM119 551h1v1h-1zM118 547h1v1h-1zM117 543h1v1h-1zM115 539h1v1h-1zM114 535h1v1h-1zM113 531h1v1h-1zM112 527h1v1h-1zM111 523h1v1h-1zM110 519h1v1h-1zM110 515h1v1h-1zM109 511h1v1h-1zM108 507h1v1h-1zM107 503h1v1h-1zM107 499h1v1h-1zM106 495h1v1h-1zM105 491h1v1h-1zM105 487h1v1h-1zM104 483h1v1h-1zM104 479h1v1h-1zM104 475h1v1h-1zM103 471h1v1h-1zM103 467h1v1h-1zM103 463h1v1h-1zM102 459h1v1h-1zM102 455h1v1h-1zM102 451h1v1h-1zM102 447h1v1h-1zM102 443h1v1h-1zM102 439h1v1h-1zM102 435h1v1h-1zM102 431h1v1h-1zM102 427h1v1h-1zM102 423h1v1h-1zM103 419h1v1h-1zM103 415h1v1h-1zM103 411h1v1h-1zM103 407h1v1h-1zM104 403h1v1h-1zM104 399h1v1h-1zM105 395h1v1h-1zM105 391h1v1h-1zM106 387h1v1h-1zM107 383h1v1h-1zM107 379h1v1h-1zM108 375h1v1h-1zM109 371h1v1h-1zM109 367h1v1h-1zM110 363h1v1h-1zM111 359h1v1h-1zM112 355h1v1h-1zM113 351h1v1h-1zM114 347h1v1h-1zM115 343h1v1h-1zM116 339h1v1h-1zM118 335h1v1h-1zM119 331h1v1h-1zM120 327h1v1h-1zM121 323h1v1h-1zM123 319h1v1h-1zM124 315h1v1h-1zM126 311h1v1h-1zM127 307h1v1h-1zM129 303h1v1h-1zM131 299h1v1h-1zM132 295h1v1h-1zM134 291h1v1h-1zM136 287h1v1h-1zM138 283h1v1h-1zM140 279h1v1h-1zM142 275h1v1h-1zM144 271h1v1h-1zM146 267h1v1h-1zM148 263h1v1h-1zM151 259h1v1h-1zM153 255h1v1h-1zM156 251h1v1h-1zM158 247h1v1h-1zM161 243h1v1h-1zM163 239h1v1h-1zM166 235h1v1h-1zM169 231h1v1h-1zM172 227h1v1h-1zM175 223h1v1h-1zM219 239h1v1h-1zM222 235h1v1h-1zM226 231h1v1h-1zM229 227h1v1h-1zM233 223h1v1h-1zM236 219h1v1h-1zM240 215h1v1h-1zM244 211h1v1h-1zM248 207h1v1h-1zM252 203h1v1h-1zM256 200h1v1h-1zM260 196h1v1h-1zM264 193h1v1h-1zM268 189h1v1h-1zM272 186h1v1h-1zM276 183h1v1h-1zM280 180h1v1h-1zM284 177h1v1h-1zM288 174h1v1h-1zM292 172h1v1h-1zM296 169h1v1h-1zM300 166h1v1h-1zM304 164h1v1h-1zM308 162h1v1h-1zM312 159h1v1h-1zM316 157h1v1h-1zM320 155h1v1h-1zM324 153h1v1h-1zM328 151h1v1h-1zM332 149h1v1h-1zM336 147h1v1h-1zM340 145h1v1h-1zM344 144h1v1h-1zM348 142h1v1h-1zM352 140h1v1h-1zM356 139h1v1h-1zM360 137h1v1h-1zM364 136h1v1h-1zM368 135h1v1h-1zM372 133h1v1h-1zM376 132h1v1h-1zM380 131h1v1h-1zM384 130h1v1h-1zM388 129h1v1h-1zM392 128h1v1h-1zM396 127h1v1h-1zM400 126h1v1h-1zM404 125h1v1h-1zM408 124h1v1h-1zM412 123h1v1h-1zM416 123h1v1h-1zM420 122h1v1h-1zM424 122h1v1h-1zM428 121h1v1h-1zM432 121h1v1h-1zM436 120h1v1h-1zM440 120h1v1h-1zM444 119h1v1h-1zM448 119h1v1h-1zM452 119h1v1h-1zM456 119h1v1h-1zM460 119h1v1h-1zM464 119h1v1h-1zM468 119h1v1h-1zM472 119h1v1h-1zM476 119h1v1h-1zM480 119h1v1h-1zM484 119h1v1h-1zM488 119h1v1h-1zM492 120h1v1h-1zM496 120h1v1h-1zM500 120h1v1h-1zM504 121h1v1h-1zM508 121h1v1h-1zM512 122h1v1h-1zM516 122h1v1h-1zM520 123h1v1h-1zM524 124h1v1h-1zM528 124h1v1h-1zM532 125h1v1h-1zM536 126h1v1h-1zM540 127h1v1h-1zM544 128h1v1h-1zM548 129h1v1h-1zM552 130h1v1h-1zM556 131h1v1h-1zM560 132h1v1h-1zM564 134h1v1h-1zM568 135h1v1h-1zM572 136h1v1h-1zM576 138h1v1h-1zM580 139h1v1h-1zM584 141h1v1h-1zM588 142h1v1h-1zM592 144h1v1h-1zM596 146h1v1h-1zM600 147h1v1h-1zM604 149h1v1h-1zM608 151h1v1h-1zM612 153h1v1h-1zM616 155h1v1h-1zM620 157h1v1h-1zM624 160h1v1h-1zM628 162h1v1h-1zM632 164h1v1h-1zM636 167h1v1h-1zM640 169h1v1h-1zM644 172h1v1h-1zM648 174h1v1h-1zM652 177h1v1h-1zM656 180h1v1h-1zM660 183h1v1h-1zM664 186h1v1h-1zM668 189h1v1h-1zM672 192h1v1h-1zM676 196h1v1h-1zM680 199h1v1h-1zM684 203h1v1h-1zM688 206h1v1h-1zM692 210h1v1h-1zM696 214h1v1h-1zM700 218h1v1h-1zM704 222h1v1h-1zM707 226h1v1h-1zM711 230h1v1h-1zM714 234h1v1h-1zM718 238h1v1h-1zM721 242h1v1h-1zM724 246h1v1h-1zM727 250h1v1h-1zM730 254h1v1h-1zM733 258h1v1h-1zM735 262h1v1h-1zM738 266h1v1h-1zM741 270h1v1h-1zM743 274h1v1h-1zM745 278h1v1h-1zM748 282h1v1h-1zM750 286h1v1h-1zM752 290h1v1h-1zM754 294h1v1h-1zM756 298h1v1h-1zM758 302h1v1h-1zM760 306h1v1h-1zM762 310h1v1h-1zM764 314h1v1h-1zM766 318h1v1h-1zM767 322h1v1h-1zM769 326h1v1h-1zM770 330h1v1h-1zM772 334h1v1h-1zM773 338h1v1h-1zM775 342h1v1h-1zM776 346h1v1h-1zM777 350h1v1h-1zM778 354h1v1h-1zM779 358h1v1h-1zM780 362h1v1h-1zM781 366h1v1h-1zM782 370h1v1h-1zM783 374h1v1h-1zM784 378h1v1h-1zM785 382h1v1h-1zM786 386h1v1h-1zM786 390h1v1h-1zM787 394h1v1h-1zM788 398h1v1h-1zM788 402h1v1h-1zM789 406h1v1h-1zM789 410h1v1h-1zM790 414h1v1h-1zM790 418h1v1h-1zM790 422h1v1h-1zM790 426h1v1h-1zM791 430h1v1h-1zM791 434h1v1h-1zM791 438h1v1h-1zM791 442h1v1h-1zM791 446h1v1h-1zM791 450h1v1h-1zM791 454h1v1h-1zM791 458h1v1h-1zM790 462h1v1h-1zM790 466h1v1h-1zM790 470h1v1h-1zM789 474h1v1h-1zM789 478h1v1h-1zM789 482h1v1h-1zM788 486h1v1h-1zM788 490h1v1h-1zM787 494h1v1h-1zM786 498h1v1h-1zM786 502h1v1h-1zM785 506h1v1h-1zM784 510h1v1h-1zM783 514h1v1h-1zM782 518h1v1h-1zM781 522h1v1h-1zM780 526h1v1h-1zM779 530h1v1h-1zM778 534h1v1h-1zM777 538h1v1h-1zM775 542h1v1h-1zM774 546h1v1h-1zM773 550h1v1h-1zM771 554h1v1h-1zM770 558h1v1h-1zM768 562h1v1h-1zM767 566h1v1h-1zM765 570h1v1h-1zM763 574h1v1h-1zM761 578h1v1h-1zM759 582h1v1h-1zM758 586h1v1h-1zM755 590h1v1h-1zM753 594h1v1h-1zM751 598h1v1h-1zM749 602h1v1h-1zM747 606h1v1h-1zM744 610h1v1h-1zM742 614h1v1h-1zM739 618h1v1h-1zM737 622h1v1h-1zM734 626h1v1h-1zM731 630h1v1h-1zM728 634h1v1h-1zM725 638h1v1h-1zM722 642h1v1h-1zM719 646h1v1h-1zM715 650h1v1h-1zM712 654h1v1h-1zM708 658h1v1h-1zM704 662h1v1h-1zM701 666h1v1h-1zM697 670h1v1h-1zM693 674h1v1h-1zM689 678h1v1h-1zM685 681h1v1h-1zM681 685h1v1h-1zM677 688h1v1h-1zM673 692h1v1h-1zM669 695h1v1h-1zM665 698h1v1h-1zM661 701h1v1h-1zM657 704h1v1h-1zM653 706h1v1h-1zM649 709h1v1h-1zM645 712h1v1h-1zM641 714h1v1h-1zM637 717h1v1h-1zM633 719h1v1h-1zM629 721h1v1h-1zM625 723h1v1h-1zM621 725h1v1h-1zM617 727h1v1h-1zM613 729h1v1h-1zM609 731h1v1h-1zM605 733h1v1h-1zM601 735h1v1h-1zM597 737h1v1h-1zM593 738h1v1h-1zM589 740h1v1h-1zM585 741h1v1h-1zM581 743h1v1h-1zM577 744h1v1h-1zM573 745h1v1h-1zM569 747h1v1h-1zM565 748h1v1h-1zM561 749h1v1h-1zM557 750h1v1h-1zM553 751h1v1h-1zM549 752h1v1h-1zM545 753h1v1h-1zM541 754h1v1h-1zM537 755h1v1h-1zM533 756h1v1h-1zM529 756h1v1h-1zM525 757h1v1h-1zM521 757h1v1h-1zM517 758h1v1h-1zM513 759h1v1h-1zM509 759h1v1h-1zM505 759h1v1h-1zM501 760h1v1h-1zM497 760h1v1h-1zM493 760h1v1h-1zM489 760h1v1h-1zM485 761h1v1h-1zM481 761h1v1h-1zM477 761h1v1h-1zM473 761h1v1h-1zM469 761h1v1h-1zM465 761h1v1h-1zM461 760h1v1h-1zM457 760h1v1h-1zM453 760h1v1h-1zM449 760h1v1h-1zM445 759h1v1h-1zM441 759h1v1h-1zM437 758h1v1h-1zM433 758h1v1h-1zM429 757h1v1h-1zM425 757h1v1h-1zM421 756h1v1h-1zM417 755h1v1h-1zM413 755h1v1h-1zM409 754h1v1h-1zM405 753h1v1h-1zM401 752h1v1h-1zM397 751h1v1h-1zM393 750h1v1h-1zM389 749h1v1h-1zM385 748h1v1h-1zM381 746h1v1h-1zM377 745h1v1h-1zM373 744h1v1h-1zM369 742h1v1h-1zM365 741h1v1h-1zM361 739h1v1h-1zM357 738h1v1h-1zM353 736h1v1h-1zM349 735h1v1h-1zM345 733h1v1h-1zM341 731h1v1h-1zM337 729h1v1h-1zM333 727h1v1h-1zM329 725h1v1h-1zM325 723h1v1h-1zM321 721h1v1h-1zM317 719h1v1h-1zM313 716h1v1h-1zM309 714h1v1h-1zM305 711h1v1h-1zM301 709h1v1h-1zM297 706h1v1h-1zM293 704h1v1h-1zM289 701h1v1h-1zM285 698h1v1h-1zM281 695h1v1h-1zM277 692h1v1h-1zM273 689h1v1h-1zM269 685h1v1h-1zM265 682h1v1h-1zM261 678h1v1h-1zM257 675h1v1h-1zM253 671h1v1h-1zM249 667h1v1h-1zM245 663h1v1h-1zM241 659h1v1h-1zM237 655h1v1h-1zM234 651h1v1h-1zM230 647h1v1h-1zM227 643h1v1h-1zM223 639h1v1h-1zM220 635h1v1h-1zM217 631h1v1h-1zM214 627h1v1h-1zM211 623h1v1h-1zM209 619h1v1h-1zM206 615h1v1h-1zM203 611h1v1h-1zM201 607h1v1h-1zM198 603h1v1h-1zM196 599h1v1h-1zM194 595h1v1h-1zM191 591h1v1h-1zM189 587h1v1h-1zM187 583h1v1h-1zM185 579h1v1h-1zM183 575h1v1h-1zM181 571h1v1h-1zM180 567h1v1h-1zM178 563h1v1h-1zM176 559h1v1h-1zM175 555h1v1h-1zM173 551h1v1h-1zM172 547h1v1h-1zM170 543h1v1h-1zM169 539h1v1h-1zM167 535h1v1h-1zM166 531h1v1h-1zM165 527h1v1h-1zM164 523h1v1h-1zM163 519h1v1h-1zM162 515h1v1h-1zM161 511h1v1h-1zM160 507h1v1h-1zM159 503h1v1h-1zM158 499h1v1h-1zM157 495h1v1h-1zM157 491h1v1h-1zM156 487h1v1h-1zM155 483h1v1h-1zM155 479h1v1h-1zM154 475h1v1h-1zM154 471h1v1h-1zM153 467h1v1h-1zM153 463h1v1h-1zM153 459h1v1h-1zM152 455h1v1h-1zM152 451h1v1h-1zM152 447h1v1h-1zM152 443h1v1h-1zM152 439h1v1h-1zM152 435h1v1h-1zM152 431h1v1h-1zM152 427h1v1h-1zM152 423h1v1h-1zM152 419h1v1h-1zM152 415h1v1h-1zM153 411h1v1h-1zM153 407h1v1h-1zM153 403h1v1h-1zM154 399h1v1h-1zM154 395h1v1h-1zM155 391h1v1h-1zM155 387h1v1h-1zM156 383h1v1h-1zM157 379h1v1h-1zM157 375h1v1h-1zM158 371h1v1h-1zM159 367h1v1h-1zM160 363h1v1h-1zM161 359h1v1h-1zM162 355h1v1h-1zM163 351h1v1h-1zM164 347h1v1h-1zM165 343h1v1h-1zM167 339h1v1h-1zM168 335h1v1h-1zM169 331h1v1h-1zM171 327h1v1h-1zM172 323h1v1h-1zM174 319h1v1h-1zM175 315h1v1h-1zM177 311h1v1h-1zM179 307h1v1h-1zM180 303h1v1h-1zM182 299h1v1h-1zM184 295h1v1h-1zM186 291h1v1h-1zM188 287h1v1h-1zM190 283h1v1h-1zM192 279h1v1h-1zM195 275h1v1h-1zM197 271h1v1h-1zM200 267h1v1h-1zM202 263h1v1h-1zM205 259h1v1h-1zM207 255h1v1h-1zM210 251h1v1h-1zM213 247h1v1h-1zM216 243h1v1h-1zM267 266h1v1h-1zM270 262h1v1h-1zM273 258h1v1h-1zM277 254h1v1h-1zM280 250h1v1h-1zM284 246h1v1h-1zM288 242h1v1h-1zM292 239h1v1h-1zM296 235h1v1h-1zM300 231h1v1h-1zM304 228h1v1h-1zM308 224h1v1h-1zM312 221h1v1h-1zM316 218h1v1h-1zM320 215h1v1h-1zM324 212h1v1h-1zM328 210h1v1h-1zM332 207h1v1h-1zM336 205h1v1h-1zM340 202h1v1h-1zM344 200h1v1h-1zM348 198h1v1h-1zM352 195h1v1h-1zM356 193h1v1h-1zM360 191h1v1h-1zM364 190h1v1h-1zM368 188h1v1h-1zM372 186h1v1h-1zM376 184h1v1h-1zM380 183h1v1h-1zM384 181h1v1h-1zM388 180h1v1h-1zM392 179h1v1h-1zM396 177h1v1h-1zM400 176h1v1h-1zM404 175h1v1h-1zM408 174h1v1h-1zM412 173h1v1h-1zM416 172h1v1h-1zM420 171h1v1h-1zM424 170h1v1h-1zM428 170h1v1h-1zM432 169h1v1h-1zM436 168h1v1h-1zM440 168h1v1h-1zM444 167h1v1h-1zM448 167h1v1h-1zM452 166h1v1h-1zM456 166h1v1h-1zM460 166h1v1h-1zM464 166h1v1h-1zM468 165h1v1h-1zM472 165h1v1h-1zM476 165h1v1h-1zM480 165h1v1h-1zM484 166h1v1h-1zM488 166h1v1h-1zM492 166h1v1h-1zM496 166h1v1h-1zM500 167h1v1h-1zM504 167h1v1h-1zM508 167h1v1h-1zM512 168h1v1h-1zM516 169h1v1h-1zM520 169h1v1h-1zM524 170h1v1h-1zM528 171h1v1h-1zM532 172h1v1h-1zM536 172h1v1h-1zM540 173h1v1h-1zM544 174h1v1h-1zM548 176h1v1h-1zM552 177h1v1h-1zM556 178h1v1h-1zM560 179h1v1h-1zM564 181h1v1h-1zM568 182h1v1h-1zM572 184h1v1h-1zM576 185h1v1h-1zM580 187h1v1h-1zM584 189h1v1h-1zM588 190h1v1h-1zM592 192h1v1h-1zM596 194h1v1h-1zM600 196h1v1h-1zM604 198h1v1h-1zM608 201h1v1h-1zM612 203h1v1h-1zM616 205h1v1h-1zM620 208h1v1h-1zM624 211h1v1h-1zM628 213h1v1h-1zM632 216h1v1h-1zM636 219h1v1h-1zM640 222h1v1h-1zM644 225h1v1h-1zM648 228h1v1h-1zM652 232h1v1h-1zM656 235h1v1h-1zM660 239h1v1h-1zM664 243h1v1h-1zM668 247h1v1h-1zM672 251h1v1h-1zM676 255h1v1h-1zM679 259h1v1h-1zM683 263h1v1h-1zM686 267h1v1h-1zM689 271h1v1h-1zM692 275h1v1h-1zM695 279h1v1h-1zM698 283h1v1h-1zM700 287h1v1h-1zM703 291h1v1h-1zM706 295h1v1h-1zM708 299h1v1h-1zM710 303h1v1h-1zM713 307h1v1h-1zM715 311h1v1h-1zM717 315h1v1h-1zM719 319h1v1h-1zM721 323h1v1h-1zM723 327h1v1h-1zM724 331h1v1h-1zM726 335h1v1h-1zM728 339h1v1h-1zM729 343h1v1h-1zM731 347h1v1h-1zM732 351h1v1h-1zM733 355h1v1h-1zM735 359h1v1h-1zM736 363h1v1h-1zM737 367h1v1h-1zM738 371h1v1h-1zM739 375h1v1h-1zM740 379h1v1h-1zM741 383h1v1h-1zM742 387h1v1h-1zM742 391h1v1h-1zM743 395h1v1h-1zM744 399h1v1h-1zM744 403h1v1h-1zM745 407h1v1h-1zM745 411h1v1h-1zM745 415h1v1h-1zM746 419h1v1h-1zM746 423h1v1h-1zM746 427h1v1h-1zM746 431h1v1h-1zM746 435h1v1h-1zM746 439h1v1h-1zM746 443h1v1h-1zM746 447h1v1h-1zM746 451h1v1h-1zM746 455h1v1h-1zM746 459h1v1h-1zM745 463h1v1h-1zM745 467h1v1h-1zM744 471h1v1h-1zM744 475h1v1h-1zM743 479h1v1h-1zM743 483h1v1h-1zM742 487h1v1h-1zM741 491h1v1h-1zM740 495h1v1h-1zM740 499h1v1h-1zM739 503h1v1h-1zM738 507h1v1h-1zM736 511h1v1h-1zM735 515h1v1h-1zM734 519h1v1h-1zM733 523h1v1h-1zM731 527h1v1h-1zM730 531h1v1h-1zM728 535h1v1h-1zM727 539h1v1h-1zM725 543h1v1h-1zM724 547h1v1h-1zM722 551h1v1h-1zM720 555h1v1h-1zM718 559h1v1h-1zM716 563h1v1h-1zM714 567h1v1h-1zM711 571h1v1h-1zM709 575h1v1h-1zM707 579h1v1h-1zM704 583h1v1h-1zM702 587h1v1h-1zM699 591h1v1h-1zM696 595h1v1h-1zM693 599h1v1h-1zM690 603h1v1h-1zM687 607h1v1h-1zM683 611h1v1h-1zM680 615h1v1h-1zM676 619h1v1h-1zM673 623h1v1h-1zM669 627h1v1h-1zM665 631h1v1h-1zM661 635h1v1h-1zM657 638h1v1h-1zM653 642h1v1h-1zM649 645h1v1h-1zM645 648h1v1h-1zM641 651h1v1h-1zM637 654h1v1h-1zM633 657h1v1h-1zM629 660h1v1h-1zM625 662h1v1h-1zM621 665h1v1h-1zM617 667h1v1h-1zM613 670h1v1h-1zM609 672h1v1h-1zM605 674h1v1h-1zM601 676h1v1h-1zM597 678h1v1h-1zM593 680h1v1h-1zM589 682h1v1h-1zM585 683h1v1h-1zM581 685h1v1h-1zM577 687h1v1h-1zM573 688h1v1h-1zM569 690h1v1h-1zM565 691h1v1h-1zM561 692h1v1h-1zM557 693h1v1h-1zM553 695h1v1h-1zM549 696h1v1h-1zM545 697h1v1h-1zM541 698h1v1h-1zM537 698h1v1h-1zM533 699h1v1h-1zM529 700h1v1h-1zM525 701h1v1h-1zM521 701h1v1h-1zM517 702h1v1h-1zM513 702h1v1h-1zM509 703h1v1h-1zM505 703h1v1h-1zM501 704h1v1h-1zM497 704h1v1h-1zM493 704h1v1h-1zM489 704h1v1h-1zM485 704h1v1h-1zM481 704h1v1h-1zM477 704h1v1h-1zM473 704h1v1h-1zM469 704h1v1h-1zM465 704h1v1h-1zM461 703h1v1h-1zM457 703h1v1h-1zM453 703h1v1h-1zM449 702h1v1h-1zM445 702h1v1h-1zM441 701h1v1h-1zM437 700h1v1h-1zM433 700h1v1h-1zM429 699h1v1h-1zM425 698h1v1h-1zM421 697h1v1h-1zM417 696h1v1h-1zM413 695h1v1h-1zM409 694h1v1h-1zM405 693h1v1h-1zM401 692h1v1h-1zM397 690h1v1h-1zM393 689h1v1h-1zM389 688h1v1h-1zM385 686h1v1h-1zM381 685h1v1h-1zM377 683h1v1h-1zM373 681h1v1h-1zM369 679h1v1h-1zM365 677h1v1h-1zM361 675h1v1h-1zM357 673h1v1h-1zM353 671h1v1h-1zM349 669h1v1h-1zM345 667h1v1h-1zM341 664h1v1h-1zM337 662h1v1h-1zM333 659h1v1h-1zM329 657h1v1h-1zM325 654h1v1h-1zM321 651h1v1h-1zM317 648h1v1h-1zM313 645h1v1h-1zM309 641h1v1h-1zM305 638h1v1h-1zM301 634h1v1h-1zM297 631h1v1h-1zM293 627h1v1h-1zM289 623h1v1h-1zM285 619h1v1h-1zM281 615h1v1h-1zM278 611h1v1h-1zM274 607h1v1h-1zM271 603h1v1h-1zM268 599h1v1h-1zM265 595h1v1h-1zM262 591h1v1h-1zM259 587h1v1h-1zM256 583h1v1h-1zM254 579h1v1h-1zM251 575h1v1h-1zM249 571h1v1h-1zM246 567h1v1h-1zM244 563h1v1h-1zM242 559h1v1h-1zM240 555h1v1h-1zM238 551h1v1h-1zM236 547h1v1h-1zM234 543h1v1h-1zM232 539h1v1h-1zM231 535h1v1h-1zM229 531h1v1h-1zM227 527h1v1h-1zM226 523h1v1h-1zM225 519h1v1h-1zM223 515h1v1h-1zM222 511h1v1h-1zM221 507h1v1h-1zM220 503h1v1h-1zM219 499h1v1h-1zM218 495h1v1h-1zM217 491h1v1h-1zM216 487h1v1h-1zM215 483h1v1h-1zM214 479h1v1h-1zM214 475h1v1h-1zM213 471h1v1h-1zM212 467h1v1h-1zM212 463h1v1h-1zM211 459h1v1h-1zM211 455h1v1h-1zM211 451h1v1h-1zM211 447h1v1h-1zM210 443h1v1h-1zM210 439h1v1h-1zM210 435h1v1h-1zM210 431h1v1h-1zM210 427h1v1h-1zM210 423h1v1h-1zM210 419h1v1h-1zM211 415h1v1h-1zM211 411h1v1h-1zM211 407h1v1h-1zM212 403h1v1h-1zM212 399h1v1h-1zM213 395h1v1h-1zM213 391h1v1h-1zM214 387h1v1h-1zM214 383h1v1h-1zM215 379h1v1h-1zM216 375h1v1h-1zM217 371h1v1h-1zM218 367h1v1h-1zM219 363h1v1h-1zM220 359h1v1h-1zM221 355h1v1h-1zM222 351h1v1h-1zM224 347h1v1h-1zM225 343h1v1h-1zM226 339h1v1h-1zM228 335h1v1h-1zM229 331h1v1h-1zM231 327h1v1h-1zM233 323h1v1h-1zM235 319h1v1h-1zM237 315h1v1h-1zM238 311h1v1h-1zM241 307h1v1h-1zM243 303h1v1h-1zM245 299h1v1h-1zM247 295h1v1h-1zM250 291h1v1h-1zM252 287h1v1h-1zM255 283h1v1h-1zM257 279h1v1h-1zM260 275h1v1h-1zM263 271h1v1h-1zM266 267h1v1h-1zM319 300h1v1h-1zM323 296h1v1h-1zM326 292h1v1h-1zM330 288h1v1h-1zM333 284h1v1h-1zM337 280h1v1h-1zM341 276h1v1h-1zM345 272h1v1h-1zM349 269h1v1h-1zM353 266h1v1h-1zM357 263h1v1h-1zM361 260h1v1h-1zM365 257h1v1h-1zM369 254h1v1h-1zM373 252h1v1h-1zM377 249h1v1h-1zM381 247h1v1h-1zM385 245h1v1h-1zM389 243h1v1h-1zM393 241h1v1h-1zM397 239h1v1h-1zM401 237h1v1h-1zM405 236h1v1h-1zM409 234h1v1h-1zM413 233h1v1h-1zM417 231h1v1h-1zM421 230h1v1h-1zM425 229h1v1h-1zM429 228h1v1h-1zM433 227h1v1h-1zM437 226h1v1h-1zM441 225h1v1h-1zM445 224h1v1h-1zM449 224h1v1h-1zM453 223h1v1h-1zM457 223h1v1h-1zM461 222h1v1h-1zM465 222h1v1h-1zM469 222h1v1h-1zM473 221h1v1h-1zM477 221h1v1h-1zM481 221h1v1h-1zM485 221h1v1h-1zM489 221h1v1h-1zM493 222h1v1h-1zM497 222h1v1h-1zM501 222h1v1h-1zM505 223h1v1h-1zM509 223h1v1h-1zM513 224h1v1h-1zM517 224h1v1h-1zM521 225h1v1h-1zM525 226h1v1h-1zM529 227h1v1h-1zM533 228h1v1h-1zM537 229h1v1h-1zM541 230h1v1h-1zM545 231h1v1h-1zM549 233h1v1h-1zM553 234h1v1h-1zM557 236h1v1h-1zM561 237h1v1h-1zM565 239h1v1h-1zM569 241h1v1h-1zM573 243h1v1h-1zM577 245h1v1h-1zM581 247h1v1h-1zM585 249h1v1h-1zM589 251h1v1h-1zM593 254h1v1h-1zM597 256h1v1h-1zM601 259h1v1h-1zM605 262h1v1h-1zM609 265h1v1h-1zM613 268h1v1h-1zM617 271h1v1h-1zM621 275h1v1h-1zM625 279h1v1h-1zM629 282h1v1h-1zM633 286h1v1h-1zM637 290h1v1h-1zM640 294h1v1h-1zM644 298h1v1h-1zM647 302h1v1h-1zM650 306h1v1h-1zM653 310h1v1h-1zM656 314h1v1h-1zM658 318h1v1h-1zM661 322h1v1h-1zM663 326h1v1h-1zM666 330h1v1h-1zM668 334h1v1h-1zM670 338h1v1h-1zM672 342h1v1h-1zM674 346h1v1h-1zM675 350h1v1h-1zM677 354h1v1h-1zM679 358h1v1h-1zM680 362h1v1h-1zM682 366h1v1h-1zM683 370h1v1h-1zM684 374h1v1h-1zM685 378h1v1h-1zM686 382h1v1h-1zM687 386h1v1h-1zM688 390h1v1h-1zM689 394h1v1h-1zM690 398h1v1h-1zM690 402h1v1h-1zM691 406h1v1h-1zM691 410h1v1h-1zM692 414h1v1h-1zM692 418h1v1h-1zM692 422h1v1h-1zM692 426h1v1h-1zM692 430h1v1h-1zM692 434h1v1h-1zM692 438h1v1h-1zM692 442h1v1h-1zM692 446h1v1h-1zM692 450h1v1h-1zM691 454h1v1h-1zM691 458h1v1h-1zM690 462h1v1h-1zM690 466h1v1h-1zM689 470h1v1h-1zM688 474h1v1h-1zM688 478h1v1h-1zM687 482h1v1h-1zM686 486h1v1h-1zM685 490h1v1h-1zM683 494h1v1h-1zM682 498h1v1h-1zM681 502h1v1h-1zM679 506h1v1h-1zM678 510h1v1h-1zM676 514h1v1h-1zM675 518h1v1h-1zM673 522h1v1h-1zM671 526h1v1h-1zM669 530h1v1h-1zM667 534h1v1h-1zM664 538h1v1h-1zM662 542h1v1h-1zM659 546h1v1h-1zM657 550h1v1h-1zM654 554h1v1h-1zM651 558h1v1h-1zM648 562h1v1h-1zM645 566h1v1h-1zM641 570h1v1h-1zM638 574h1v1h-1zM634 578h1v1h-1zM630 582h1v1h-1zM626 586h1v1h-1zM622 590h1v1h-1zM618 593h1v1h-1zM614 596h1v1h-1zM610 599h1v1h-1zM606 602h1v1h-1zM602 605h1v1h-1zM598 608h1v1h-1zM594 610h1v1h-1zM590 613h1v1h-1zM586 615h1v1h-1zM582 617h1v1h-1zM578 619h1v1h-1zM574 621h1v1h-1zM570 623h1v1h-1zM566 625h1v1h-1zM562 626h1v1h-1zM558 628h1v1h-1zM554 629h1v1h-1zM550 630h1v1h-1zM546 632h1v1h-1zM542 633h1v1h-1zM538 634h1v1h-1zM534 635h1v1h-1zM530 636h1v1h-1zM526 637h1v1h-1zM522 637h1v1h-1zM518 638h1v1h-1zM514 639h1v1h-1zM510 639h1v1h-1zM506 640h1v1h-1zM502 640h1v1h-1zM498 640h1v1h-1zM494 640h1v1h-1zM490 640h1v1h-1zM486 640h1v1h-1zM482 640h1v1h-1zM478 640h1v1h-1zM474 640h1v1h-1zM470 640h1v1h-1zM466 639h1v1h-1zM462 639h1v1h-1zM458 638h1v1h-1zM454 638h1v1h-1zM450 637h1v1h-1zM446 636h1v1h-1zM442 636h1v1h-1zM438 635h1v1h-1zM434 634h1v1h-1zM430 633h1v1h-1zM426 631h1v1h-1zM422 630h1v1h-1zM418 629h1v1h-1zM414 627h1v1h-1zM410 626h1v1h-1zM406 624h1v1h-1zM402 623h1v1h-1zM398 621h1v1h-1zM394 619h1v1h-1zM390 617h1v1h-1zM386 615h1v1h-1zM382 612h1v1h-1zM378 610h1v1h-1zM374 608h1v1h-1zM370 605h1v1h-1zM366 602h1v1h-1zM362 599h1v1h-1zM358 596h1v1h-1zM354 593h1v1h-1zM350 590h1v1h-1zM346 586h1v1h-1zM342 583h1v1h-1zM338 579h1v1h-1zM334 575h1v1h-1zM330 571h1v1h-1zM327 567h1v1h-1zM323 563h1v1h-1zM320 559h1v1h-1zM317 555h1v1h-1zM314 551h1v1h-1zM312 547h1v1h-1zM309 543h1v1h-1zM306 539h1v1h-1zM304 535h1v1h-1zM302 531h1v1h-1zM300 527h1v1h-1zM298 523h1v1h-1zM296 519h1v1h-1zM294 515h1v1h-1zM292 511h1v1h-1zM290 507h1v1h-1zM289 503h1v1h-1zM287 499h1v1h-1zM286 495h1v1h-1zM285 491h1v1h-1zM284 487h1v1h-1zM282 483h1v1h-1zM281 479h1v1h-1zM280 475h1v1h-1zM280 471h1v1h-1zM279 467h1v1h-1zM278 463h1v1h-1zM277 459h1v1h-1zM277 455h1v1h-1zM276 451h1v1h-1zM276 447h1v1h-1zM276 443h1v1h-1zM276 439h1v1h-1zM275 435h1v1h-1zM275 431h1v1h-1zM275 427h1v1h-1zM275 423h1v1h-1zM275 419h1v1h-1zM276 415h1v1h-1zM276 411h1v1h-1zM276 407h1v1h-1zM277 403h1v1h-1zM277 399h1v1h-1zM278 395h1v1h-1zM279 391h1v1h-1zM279 387h1v1h-1zM280 383h1v1h-1zM281 379h1v1h-1zM282 375h1v1h-1zM283 371h1v1h-1zM284 367h1v1h-1zM286 363h1v1h-1zM287 359h1v1h-1zM289 355h1v1h-1zM290 351h1v1h-1zM292 347h1v1h-1zM294 343h1v1h-1zM295 339h1v1h-1zM297 335h1v1h-1zM299 331h1v1h-1zM302 327h1v1h-1zM304 323h1v1h-1zM306 319h1v1h-1zM309 315h1v1h-1zM311 311h1v1h-1zM314 307h1v1h-1zM317 303h1v1h-1zM375 338h1v1h-1zM379 334h1v1h-1zM382 330h1v1h-1zM386 326h1v1h-1zM390 322h1v1h-1zM394 319h1v1h-1zM398 316h1v1h-1zM402 312h1v1h-1zM406 310h1v1h-1zM410 307h1v1h-1zM414 304h1v1h-1zM418 302h1v1h-1zM422 300h1v1h-1zM426 298h1v1h-1zM430 296h1v1h-1zM434 295h1v1h-1zM438 293h1v1h-1zM442 292h1v1h-1zM446 290h1v1h-1zM450 289h1v1h-1zM454 288h1v1h-1zM458 287h1v1h-1zM462 287h1v1h-1zM466 286h1v1h-1zM470 286h1v1h-1zM474 285h1v1h-1zM478 285h1v1h-1zM482 285h1v1h-1zM486 285h1v1h-1zM490 285h1v1h-1zM494 285h1v1h-1zM498 285h1v1h-1zM502 285h1v1h-1zM506 286h1v1h-1zM510 287h1v1h-1zM514 287h1v1h-1zM518 288h1v1h-1zM522 289h1v1h-1zM526 290h1v1h-1zM530 291h1v1h-1zM534 293h1v1h-1zM538 294h1v1h-1zM542 296h1v1h-1zM546 298h1v1h-1zM550 300h1v1h-1zM554 302h1v1h-1zM558 304h1v1h-1zM562 306h1v1h-1zM566 309h1v1h-1zM570 312h1v1h-1zM574 315h1v1h-1zM578 318h1v1h-1zM582 321h1v1h-1zM586 325h1v1h-1zM590 329h1v1h-1zM594 333h1v1h-1zM597 337h1v1h-1zM600 341h1v1h-1zM603 345h1v1h-1zM606 349h1v1h-1zM609 353h1v1h-1zM611 357h1v1h-1zM613 361h1v1h-1zM615 365h1v1h-1zM617 369h1v1h-1zM619 373h1v1h-1zM621 377h1v1h-1zM622 381h1v1h-1zM624 385h1v1h-1zM625 389h1v1h-1zM626 393h1v1h-1zM627 397h1v1h-1zM628 401h1v1h-1zM629 405h1v1h-1zM629 409h1v1h-1zM630 413h1v1h-1zM630 417h1v1h-1zM630 421h1v1h-1zM631 425h1v1h-1zM631 429h1v1h-1zM631 433h1v1h-1zM631 437h1v1h-1zM630 441h1v1h-1zM630 445h1v1h-1zM629 449h1v1h-1zM629 453h1v1h-1zM628 457h1v1h-1zM627 461h1v1h-1zM626 465h1v1h-1zM625 469h1v1h-1zM624 473h1v1h-1zM623 477h1v1h-1zM621 481h1v1h-1zM620 485h1v1h-1zM618 489h1v1h-1zM616 493h1v1h-1zM614 497h1v1h-1zM612 501h1v1h-1zM609 505h1v1h-1zM607 509h1v1h-1zM604 513h1v1h-1zM601 517h1v1h-1zM598 521h1v1h-1zM594 525h1v1h-1zM591 529h1v1h-1zM587 533h1v1h-1zM583 537h1v1h-1zM579 540h1v1h-1zM575 543h1v1h-1zM571 546h1v1h-1zM567 549h1v1h-1zM563 551h1v1h-1zM559 553h1v1h-1zM555 556h1v1h-1zM551 558h1v1h-1zM547 559h1v1h-1zM543 561h1v1h-1zM539 563h1v1h-1zM535 564h1v1h-1zM531 565h1v1h-1zM527 566h1v1h-1zM523 567h1v1h-1zM519 568h1v1h-1zM515 569h1v1h-1zM511 570h1v1h-1zM507 570h1v1h-1zM503 571h1v1h-1zM499 571h1v1h-1zM495 571h1v1h-1zM491 571h1v1h-1zM487 571h1v1h-1zM483 571h1v1h-1zM479 571h1v1h-1zM475 570h1v1h-1zM471 570h1v1h-1zM467 569h1v1h-1zM463 569h1v1h-1zM459 568h1v1h-1zM455 567h1v1h-1zM451 566h1v1h-1zM447 565h1v1h-1zM443 563h1v1h-1zM439 562h1v1h-1zM435 560h1v1h-1zM431 558h1v1h-1zM427 557h1v1h-1zM423 554h1v1h-1zM419 552h1v1h-1zM415 550h1v1h-1zM411 547h1v1h-1zM407 545h1v1h-1zM403 542h1v1h-1zM399 538h1v1h-1zM395 535h1v1h-1zM391 531h1v1h-1zM387 527h1v1h-1zM383 523h1v1h-1zM379 519h1v1h-1zM376 515h1v1h-1zM373 511h1v1h-1zM370 507h1v1h-1zM368 503h1v1h-1zM365 499h1v1h-1zM363 495h1v1h-1zM361 491h1v1h-1zM359 487h1v1h-1zM357 483h1v1h-1zM356 479h1v1h-1zM354 475h1v1h-1zM353 471h1v1h-1zM351 467h1v1h-1zM350 463h1v1h-1zM349 459h1v1h-1zM348 455h1v1h-1zM348 451h1v1h-1zM347 447h1v1h-1zM346 443h1v1h-1zM346 439h1v1h-1zM346 435h1v1h-1zM345 431h1v1h-1zM345 427h1v1h-1zM345 423h1v1h-1zM345 419h1v1h-1zM346 415h1v1h-1zM346 411h1v1h-1zM347 407h1v1h-1zM347 403h1v1h-1zM348 399h1v1h-1zM349 395h1v1h-1zM350 391h1v1h-1zM351 387h1v1h-1zM352 383h1v1h-1zM353 379h1v1h-1zM355 375h1v1h-1zM356 371h1v1h-1zM358 367h1v1h-1zM360 363h1v1h-1zM362 359h1v1h-1zM364 355h1v1h-1zM366 351h1v1h-1zM369 347h1v1h-1zM372 343h1v1h-1zM375 339h1v1h-1zM433 381h1v1h-1zM437 377h1v1h-1zM441 373h1v1h-1zM445 369h1v1h-1zM449 366h1v1h-1zM453 364h1v1h-1zM457 361h1v1h-1zM461 359h1v1h-1zM465 358h1v1h-1zM469 356h1v1h-1zM473 355h1v1h-1zM477 355h1v1h-1zM481 354h1v1h-1zM485 354h1v1h-1zM489 353h1v1h-1zM493 353h1v1h-1zM497 354h1v1h-1zM501 354h1v1h-1zM505 355h1v1h-1zM509 356h1v1h-1zM513 357h1v1h-1zM517 359h1v1h-1zM521 360h1v1h-1zM525 362h1v1h-1zM529 365h1v1h-1zM533 367h1v1h-1zM537 371h1v1h-1zM541 374h1v1h-1zM544 378h1v1h-1zM548 382h1v1h-1zM551 386h1v1h-1zM553 390h1v1h-1zM555 394h1v1h-1zM557 398h1v1h-1zM559 402h1v1h-1zM560 406h1v1h-1zM561 410h1v1h-1zM562 414h1v1h-1zM562 418h1v1h-1zM563 422h1v1h-1zM563 426h1v1h-1zM563 430h1v1h-1zM563 434h1v1h-1zM562 438h1v1h-1zM561 442h1v1h-1zM560 446h1v1h-1zM559 450h1v1h-1zM558 454h1v1h-1zM556 458h1v1h-1zM554 462h1v1h-1zM552 466h1v1h-1zM549 470h1v1h-1zM546 474h1v1h-1zM542 478h1v1h-1zM538 482h1v1h-1zM534 485h1v1h-1zM530 488h1v1h-1zM526 490h1v1h-1zM522 492h1v1h-1zM518 494h1v1h-1zM514 495h1v1h-1zM510 497h1v1h-1zM506 498h1v1h-1zM502 498h1v1h-1zM498 499h1v1h-1zM494 499h1v1h-1zM490 499h1v1h-1zM486 499h1v1h-1zM482 498h1v1h-1zM478 498h1v1h-1zM474 497h1v1h-1zM470 496h1v1h-1zM466 494h1v1h-1zM462 493h1v1h-1zM458 491h1v1h-1zM454 488h1v1h-1zM450 486h1v1h-1zM446 483h1v1h-1zM442 479h1v1h-1zM438 475h1v1h-1zM434 471h1v1h-1zM431 467h1v1h-1zM429 463h1v1h-1zM427 459h1v1h-1zM425 455h1v1h-1zM423 451h1v1h-1zM422 447h1v1h-1zM420 443h1v1h-1zM420 439h1v1h-1zM419 435h1v1h-1zM418 431h1v1h-1zM418 427h1v1h-1zM418 423h1v1h-1zM418 419h1v1h-1zM419 415h1v1h-1zM419 411h1v1h-1zM420 407h1v1h-1zM421 403h1v1h-1zM423 399h1v1h-1zM424 395h1v1h-1zM426 391h1v1h-1zM429 387h1v1h-1zM431 383h1v1h-1zM491 426h1v1h-1zM487 422h1v1h-1zM483 419h1v1h-1zM479 416h1v1h-1zM475 413h1v1h-1zM471 410h1v1h-1zM467 407h1v1h-1zM463 404h1v1h-1zM459 400h1v1h-1zM455 397h1v1h-1zM451 394h1v1h-1zM447 391h1v1h-1zM443 388h1v1h-1zM439 385h1v1h-1zM435 382h1v1h-1zM431 379h1v1h-1zM427 376h1v1h-1zM423 373h1v1h-1zM419 370h1v1h-1zM415 367h1v1h-1zM411 364h1v1h-1zM407 361h1v1h-1zM403 358h1v1h-1zM399 356h1v1h-1zM395 353h1v1h-1zM391 350h1v1h-1zM387 347h1v1h-1zM383 344h1v1h-1zM379 341h1v1h-1zM371 336h1v1h-1zM367 333h1v1h-1zM363 330h1v1h-1zM359 327h1v1h-1zM355 324h1v1h-1zM351 322h1v1h-1zM347 319h1v1h-1zM343 316h1v1h-1zM339 313h1v1h-1zM335 311h1v1h-1zM331 308h1v1h-1zM327 305h1v1h-1zM323 303h1v1h-1zM315 297h1v1h-1zM311 295h1v1h-1zM307 292h1v1h-1zM303 290h1v1h-1zM299 287h1v1h-1zM295 284h1v1h-1zM291 282h1v1h-1zM287 279h1v1h-1zM283 277h1v1h-1zM279 274h1v1h-1zM275 272h1v1h-1zM271 269h1v1h-1zM267 267h1v1h-1zM263 264h1v1h-1zM259 262h1v1h-1zM255 260h1v1h-1zM251 257h1v1h-1zM247 255h1v1h-1zM243 253h1v1h-1zM239 250h1v1h-1zM235 248h1v1h-1zM231 246h1v1h-1zM227 244h1v1h-1zM223 241h1v1h-1zM215 237h1v1h-1zM211 235h1v1h-1zM207 233h1v1h-1zM203 231h1v1h-1zM199 229h1v1h-1zM195 227h1v1h-1zM191 225h1v1h-1zM187 223h1v1h-1zM183 221h1v1h-1zM179 219h1v1h-1zM175 217h1v1h-1zM171 215h1v1h-1zM167 214h1v1h-1zM163 212h1v1h-1zM159 211h1v1h-1zM155 209h1v1h-1zM151 208h1v1h-1zM147 206h1v1h-1zM143 205h1v1h-1zM139 204h1v1h-1zM135 203h1v1h-1zM131 202h1v1h-1zM127 201h1v1h-1zM123 200h1v1h-1zM119 200h1v1h-1zM115 200h1v1h-1zM111 201h1v1h-1zM107 202h1v1h-1zM490 422h1v1h-1zM488 418h1v1h-1zM487 414h1v1h-1zM485 410h1v1h-1zM483 406h1v1h-1zM482 402h1v1h-1zM480 398h1v1h-1zM478 394h1v1h-1zM477 390h1v1h-1zM475 386h1v1h-1zM473 382h1v1h-1zM472 378h1v1h-1zM470 374h1v1h-1zM468 370h1v1h-1zM466 366h1v1h-1zM465 362h1v1h-1zM463 358h1v1h-1zM461 354h1v1h-1zM460 350h1v1h-1zM458 346h1v1h-1zM456 342h1v1h-1zM454 338h1v1h-1zM452 334h1v1h-1zM451 330h1v1h-1zM449 326h1v1h-1zM447 322h1v1h-1zM445 318h1v1h-1zM443 314h1v1h-1zM441 310h1v1h-1zM440 306h1v1h-1zM438 302h1v1h-1zM436 298h1v1h-1zM434 294h1v1h-1zM432 290h1v1h-1zM430 286h1v1h-1zM428 282h1v1h-1zM426 278h1v1h-1zM424 274h1v1h-1zM423 270h1v1h-1zM421 266h1v1h-1zM419 262h1v1h-1zM417 258h1v1h-1zM415 254h1v1h-1zM413 250h1v1h-1zM411 246h1v1h-1zM409 242h1v1h-1zM407 238h1v1h-1zM404 234h1v1h-1zM402 230h1v1h-1zM400 226h1v1h-1zM398 222h1v1h-1zM396 218h1v1h-1zM394 214h1v1h-1zM392 210h1v1h-1zM390 206h1v1h-1zM387 202h1v1h-1zM385 198h1v1h-1zM383 194h1v1h-1zM381 190h1v1h-1zM378 186h1v1h-1zM376 182h1v1h-1zM374 178h1v1h-1zM372 174h1v1h-1zM369 170h1v1h-1zM367 166h1v1h-1zM364 162h1v1h-1zM362 158h1v1h-1zM360 154h1v1h-1zM357 150h1v1h-1zM354 146h1v1h-1zM352 142h1v1h-1zM349 138h1v1h-1zM347 134h1v1h-1zM344 130h1v1h-1zM341 126h1v1h-1zM338 122h1v1h-1zM335 118h1v1h-1zM332 114h1v1h-1zM329 110h1v1h-1zM326 106h1v1h-1zM323 102h1v1h-1zM320 98h1v1h-1zM316 94h1v1h-1zM312 90h1v1h-1zM308 86h1v1h-1zM304 82h1v1h-1zM300 79h1v1h-1zM296 76h1v1h-1zM292 74h1v1h-1zM288 73h1v1h-1zM284 73h1v1h-1zM492 422h1v1h-1zM493 418h1v1h-1zM493 414h1v1h-1zM494 410h1v1h-1zM494 406h1v1h-1zM495 402h1v1h-1zM495 398h1v1h-1zM496 394h1v1h-1zM496 390h1v1h-1zM497 386h1v1h-1zM497 382h1v1h-1zM498 378h1v1h-1zM498 374h1v1h-1zM499 370h1v1h-1zM499 366h1v1h-1zM500 362h1v1h-1zM500 358h1v1h-1zM501 350h1v1h-1zM502 346h1v1h-1zM502 342h1v1h-1zM502 338h1v1h-1zM503 334h1v1h-1zM503 330h1v1h-1zM504 326h1v1h-1zM504 322h1v1h-1zM505 318h1v1h-1zM505 314h1v1h-1zM505 310h1v1h-1zM506 306h1v1h-1zM506 302h1v1h-1zM507 298h1v1h-1zM507 294h1v1h-1zM507 290h1v1h-1zM508 286h1v1h-1zM508 282h1v1h-1zM509 278h1v1h-1zM509 274h1v1h-1zM509 270h1v1h-1zM510 266h1v1h-1zM510 262h1v1h-1zM510 258h1v1h-1zM511 254h1v1h-1zM511 250h1v1h-1zM511 246h1v1h-1zM511 242h1v1h-1zM512 238h1v1h-1zM512 234h1v1h-1zM512 230h1v1h-1zM513 226h1v1h-1zM513 222h1v1h-1zM513 218h1v1h-1zM513 214h1v1h-1zM514 210h1v1h-1zM514 206h1v1h-1zM514 202h1v1h-1zM514 198h1v1h-1zM514 194h1v1h-1zM515 190h1v1h-1zM515 186h1v1h-1zM515 182h1v1h-1zM515 178h1v1h-1zM515 174h1v1h-1zM515 170h1v1h-1zM515 166h1v1h-1zM515 162h1v1h-1zM516 158h1v1h-1zM516 154h1v1h-1zM516 150h1v1h-1zM516 146h1v1h-1zM516 142h1v1h-1zM516 138h1v1h-1zM516 134h1v1h-1zM516 130h1v1h-1zM516 126h1v1h-1zM515 122h1v1h-1zM515 118h1v1h-1zM515 114h1v1h-1zM515 110h1v1h-1zM515 106h1v1h-1zM514 102h1v1h-1zM514 98h1v1h-1zM514 94h1v1h-1zM513 90h1v1h-1zM513 86h1v1h-1zM513 82h1v1h-1zM512 78h1v1h-1zM511 74h1v1h-1zM510 70h1v1h-1zM509 66h1v1h-1zM508 62h1v1h-1zM507 58h1v1h-1zM505 54h1v1h-1zM495 422h1v1h-1zM498 418h1v1h-1zM501 414h1v1h-1zM504 410h1v1h-1zM507 406h1v1h-1zM510 402h1v1h-1zM513 398h1v1h-1zM516 394h1v1h-1zM519 390h1v1h-1zM523 386h1v1h-1zM526 382h1v1h-1zM529 378h1v1h-1zM532 374h1v1h-1zM535 370h1v1h-1zM538 366h1v1h-1zM541 362h1v1h-1zM544 358h1v1h-1zM547 354h1v1h-1zM550 350h1v1h-1zM553 346h1v1h-1zM556 342h1v1h-1zM559 338h1v1h-1zM562 334h1v1h-1zM565 330h1v1h-1zM569 326h1v1h-1zM572 322h1v1h-1zM575 318h1v1h-1zM578 314h1v1h-1zM581 310h1v1h-1zM584 306h1v1h-1zM587 302h1v1h-1zM590 298h1v1h-1zM593 294h1v1h-1zM596 290h1v1h-1zM599 286h1v1h-1zM602 282h1v1h-1zM604 278h1v1h-1zM607 274h1v1h-1zM610 270h1v1h-1zM613 266h1v1h-1zM616 262h1v1h-1zM619 258h1v1h-1zM622 254h1v1h-1zM625 250h1v1h-1zM628 246h1v1h-1zM631 242h1v1h-1zM634 238h1v1h-1zM637 234h1v1h-1zM639 230h1v1h-1zM642 226h1v1h-1zM645 222h1v1h-1zM648 218h1v1h-1zM651 214h1v1h-1zM654 210h1v1h-1zM656 206h1v1h-1zM659 202h1v1h-1zM662 198h1v1h-1zM665 194h1v1h-1zM667 190h1v1h-1zM670 186h1v1h-1zM673 182h1v1h-1zM675 178h1v1h-1zM678 174h1v1h-1zM681 170h1v1h-1zM683 166h1v1h-1zM686 162h1v1h-1zM688 158h1v1h-1zM690 154h1v1h-1zM693 150h1v1h-1zM695 146h1v1h-1zM696 142h1v1h-1zM698 138h1v1h-1zM495 424h1v1h-1zM499 422h1v1h-1zM503 421h1v1h-1zM507 419h1v1h-1zM511 418h1v1h-1zM515 416h1v1h-1zM519 415h1v1h-1zM523 413h1v1h-1zM527 411h1v1h-1zM531 410h1v1h-1zM535 408h1v1h-1zM539 407h1v1h-1zM543 405h1v1h-1zM547 404h1v1h-1zM551 402h1v1h-1zM555 401h1v1h-1zM559 399h1v1h-1zM563 397h1v1h-1zM567 396h1v1h-1zM571 394h1v1h-1zM575 393h1v1h-1zM579 391h1v1h-1zM583 390h1v1h-1zM587 388h1v1h-1zM591 387h1v1h-1zM595 385h1v1h-1zM599 384h1v1h-1zM603 382h1v1h-1zM607 381h1v1h-1zM611 379h1v1h-1zM615 378h1v1h-1zM619 376h1v1h-1zM623 375h1v1h-1zM627 373h1v1h-1zM631 372h1v1h-1zM635 370h1v1h-1zM639 369h1v1h-1zM643 367h1v1h-1zM647 366h1v1h-1zM651 364h1v1h-1zM655 363h1v1h-1zM659 361h1v1h-1zM663 360h1v1h-1zM667 358h1v1h-1zM671 357h1v1h-1zM675 355h1v1h-1zM679 354h1v1h-1zM683 352h1v1h-1zM687 351h1v1h-1zM691 349h1v1h-1zM695 348h1v1h-1zM699 347h1v1h-1zM703 345h1v1h-1zM707 344h1v1h-1zM711 342h1v1h-1zM715 341h1v1h-1zM719 339h1v1h-1zM723 338h1v1h-1zM727 337h1v1h-1zM731 335h1v1h-1zM735 334h1v1h-1zM739 332h1v1h-1zM743 331h1v1h-1zM747 330h1v1h-1zM751 328h1v1h-1zM755 327h1v1h-1zM759 326h1v1h-1zM763 324h1v1h-1zM767 323h1v1h-1zM771 322h1v1h-1zM775 320h1v1h-1zM779 319h1v1h-1zM783 318h1v1h-1zM787 316h1v1h-1zM791 315h1v1h-1zM795 314h1v1h-1zM799 313h1v1h-1zM803 312h1v1h-1zM807 311h1v1h-1zM811 310h1v1h-1zM815 309h1v1h-1zM819 308h1v1h-1zM823 307h1v1h-1zM495 426h1v1h-1zM499 427h1v1h-1zM503 427h1v1h-1zM507 428h1v1h-1zM511 429h1v1h-1zM515 429h1v1h-1zM519 430h1v1h-1zM523 431h1v1h-1zM527 431h1v1h-1zM531 432h1v1h-1zM535 433h1v1h-1zM539 433h1v1h-1zM543 434h1v1h-1zM547 435h1v1h-1zM551 435h1v1h-1zM555 436h1v1h-1zM559 437h1v1h-1zM563 437h1v1h-1zM567 438h1v1h-1zM571 439h1v1h-1zM575 439h1v1h-1zM579 440h1v1h-1zM583 441h1v1h-1zM587 442h1v1h-1zM591 442h1v1h-1zM595 443h1v1h-1zM599 444h1v1h-1zM603 445h1v1h-1zM607 445h1v1h-1zM611 446h1v1h-1zM615 447h1v1h-1zM619 448h1v1h-1zM623 448h1v1h-1zM627 449h1v1h-1zM631 450h1v1h-1zM635 451h1v1h-1zM639 452h1v1h-1zM643 452h1v1h-1zM647 453h1v1h-1zM651 454h1v1h-1zM655 455h1v1h-1zM659 456h1v1h-1zM663 456h1v1h-1zM667 457h1v1h-1zM671 458h1v1h-1zM675 459h1v1h-1zM679 460h1v1h-1zM683 461h1v1h-1zM687 462h1v1h-1zM691 463h1v1h-1zM695 464h1v1h-1zM699 464h1v1h-1zM703 465h1v1h-1zM707 466h1v1h-1zM711 467h1v1h-1zM715 468h1v1h-1zM719 469h1v1h-1zM723 470h1v1h-1zM727 471h1v1h-1zM731 472h1v1h-1zM735 473h1v1h-1zM739 474h1v1h-1zM743 475h1v1h-1zM747 476h1v1h-1zM751 477h1v1h-1zM755 478h1v1h-1zM759 480h1v1h-1zM763 481h1v1h-1zM767 482h1v1h-1zM771 483h1v1h-1zM775 484h1v1h-1zM779 485h1v1h-1zM783 487h1v1h-1zM787 488h1v1h-1zM791 489h1v1h-1zM795 490h1v1h-1zM799 492h1v1h-1zM803 493h1v1h-1zM807 495h1v1h-1zM811 496h1v1h-1zM815 498h1v1h-1zM819 499h1v1h-1zM823 501h1v1h-1zM827 503h1v1h-1zM831 505h1v1h-1zM835 507h1v1h-1zM839 509h1v1h-1zM843 511h1v1h-1zM847 514h1v1h-1zM851 518h1v1h-1zM852 522h1v1h-1zM495 429h1v1h-1zM499 432h1v1h-1zM503 435h1v1h-1zM507 438h1v1h-1zM511 442h1v1h-1zM515 445h1v1h-1zM519 448h1v1h-1zM523 451h1v1h-1zM527 455h1v1h-1zM531 458h1v1h-1zM535 461h1v1h-1zM539 465h1v1h-1zM543 468h1v1h-1zM547 471h1v1h-1zM551 475h1v1h-1zM555 478h1v1h-1zM559 482h1v1h-1zM563 485h1v1h-1zM567 488h1v1h-1zM571 492h1v1h-1zM575 495h1v1h-1zM579 499h1v1h-1zM583 502h1v1h-1zM587 506h1v1h-1zM591 509h1v1h-1zM595 513h1v1h-1zM599 516h1v1h-1zM603 520h1v1h-1zM607 524h1v1h-1zM611 527h1v1h-1zM615 531h1v1h-1zM619 535h1v1h-1zM623 538h1v1h-1zM627 542h1v1h-1zM631 546h1v1h-1zM635 549h1v1h-1zM639 553h1v1h-1zM643 557h1v1h-1zM647 561h1v1h-1zM651 565h1v1h-1zM655 569h1v1h-1zM659 572h1v1h-1zM663 576h1v1h-1zM667 580h1v1h-1zM671 584h1v1h-1zM675 588h1v1h-1zM679 592h1v1h-1zM683 596h1v1h-1zM687 600h1v1h-1zM691 604h1v1h-1zM695 608h1v1h-1zM698 612h1v1h-1zM702 616h1v1h-1zM706 620h1v1h-1zM709 624h1v1h-1zM713 628h1v1h-1zM717 632h1v1h-1zM720 636h1v1h-1zM723 640h1v1h-1zM727 644h1v1h-1zM730 648h1v1h-1zM733 652h1v1h-1zM737 656h1v1h-1zM740 660h1v1h-1zM743 664h1v1h-1zM746 668h1v1h-1zM751 676h1v1h-1zM754 680h1v1h-1zM756 684h1v1h-1zM759 688h1v1h-1zM761 692h1v1h-1zM763 696h1v1h-1zM765 700h1v1h-1zM766 704h1v1h-1zM768 708h1v1h-1zM769 712h1v1h-1zM769 716h1v1h-1zM769 720h1v1h-1zM767 724h1v1h-1zM493 430h1v1h-1zM495 434h1v1h-1zM496 438h1v1h-1zM498 442h1v1h-1zM499 446h1v1h-1zM501 450h1v1h-1zM502 454h1v1h-1zM504 458h1v1h-1zM506 462h1v1h-1zM507 466h1v1h-1zM509 470h1v1h-1zM510 474h1v1h-1zM512 478h1v1h-1zM513 482h1v1h-1zM515 486h1v1h-1zM516 490h1v1h-1zM519 498h1v1h-1zM521 502h1v1h-1zM522 506h1v1h-1zM523 510h1v1h-1zM525 514h1v1h-1zM526 518h1v1h-1zM528 522h1v1h-1zM529 526h1v1h-1zM531 530h1v1h-1zM532 534h1v1h-1zM533 538h1v1h-1zM535 542h1v1h-1zM536 546h1v1h-1zM538 550h1v1h-1zM539 554h1v1h-1zM540 558h1v1h-1zM542 562h1v1h-1zM543 566h1v1h-1zM544 570h1v1h-1zM546 574h1v1h-1zM547 578h1v1h-1zM548 582h1v1h-1zM550 586h1v1h-1zM551 590h1v1h-1zM552 594h1v1h-1zM553 598h1v1h-1zM555 602h1v1h-1zM556 606h1v1h-1zM557 610h1v1h-1zM558 614h1v1h-1zM560 618h1v1h-1zM561 622h1v1h-1zM563 630h1v1h-1zM564 634h1v1h-1zM566 638h1v1h-1zM567 642h1v1h-1zM568 646h1v1h-1zM569 650h1v1h-1zM570 654h1v1h-1zM571 658h1v1h-1zM573 662h1v1h-1zM574 666h1v1h-1zM575 670h1v1h-1zM576 674h1v1h-1zM577 678h1v1h-1zM578 682h1v1h-1zM579 686h1v1h-1zM580 690h1v1h-1zM581 694h1v1h-1zM582 698h1v1h-1zM583 702h1v1h-1zM584 706h1v1h-1zM585 710h1v1h-1zM586 714h1v1h-1zM587 718h1v1h-1zM588 722h1v1h-1zM589 726h1v1h-1zM589 730h1v1h-1zM590 734h1v1h-1zM591 738h1v1h-1zM592 742h1v1h-1zM593 746h1v1h-1zM594 750h1v1h-1zM594 754h1v1h-1zM595 758h1v1h-1zM596 762h1v1h-1zM596 766h1v1h-1zM597 770h1v1h-1zM598 774h1v1h-1zM598 778h1v1h-1zM599 782h1v1h-1zM599 786h1v1h-1zM600 790h1v1h-1zM600 794h1v1h-1zM601 798h1v1h-1zM601 802h1v1h-1zM601 806h1v1h-1zM601 810h1v1h-1zM602 814h1v1h-1zM602 818h1v1h-1zM602 822h1v1h-1zM602 826h1v1h-1zM601 830h1v1h-1zM601 834h1v1h-1zM600 838h1v1h-1zM600 842h1v1h-1zM598 846h1v1h-1zM597 850h1v1h-1zM594 854h1v1h-1zM491 430h1v1h-1zM490 434h1v1h-1zM490 438h1v1h-1zM489 442h1v1h-1zM489 446h1v1h-1zM488 450h1v1h-1zM487 454h1v1h-1zM487 458h1v1h-1zM486 462h1v1h-1zM486 466h1v1h-1zM485 470h1v1h-1zM484 474h1v1h-1zM484 478h1v1h-1zM483 482h1v1h-1zM483 486h1v1h-1zM482 490h1v1h-1zM481 494h1v1h-1zM481 498h1v1h-1zM480 502h1v1h-1zM479 506h1v1h-1zM479 510h1v1h-1zM478 514h1v1h-1zM477 518h1v1h-1zM477 522h1v1h-1zM476 526h1v1h-1zM475 530h1v1h-1zM475 534h1v1h-1zM474 538h1v1h-1zM473 542h1v1h-1zM473 546h1v1h-1zM472 550h1v1h-1zM471 554h1v1h-1zM471 558h1v1h-1zM470 562h1v1h-1zM469 566h1v1h-1zM468 570h1v1h-1zM468 574h1v1h-1zM467 578h1v1h-1zM466 582h1v1h-1zM465 586h1v1h-1zM465 590h1v1h-1zM464 594h1v1h-1zM463 598h1v1h-1zM462 602h1v1h-1zM462 606h1v1h-1zM461 610h1v1h-1zM460 614h1v1h-1zM459 618h1v1h-1zM458 622h1v1h-1zM458 626h1v1h-1zM457 630h1v1h-1zM456 634h1v1h-1zM455 638h1v1h-1zM454 642h1v1h-1zM454 646h1v1h-1zM453 650h1v1h-1zM452 654h1v1h-1zM451 658h1v1h-1zM450 662h1v1h-1zM449 666h1v1h-1zM448 670h1v1h-1zM447 674h1v1h-1zM447 678h1v1h-1zM446 682h1v1h-1zM445 686h1v1h-1zM444 690h1v1h-1zM443 694h1v1h-1zM442 698h1v1h-1zM441 702h1v1h-1zM440 706h1v1h-1zM439 710h1v1h-1zM438 714h1v1h-1zM437 718h1v1h-1zM436 722h1v1h-1zM435 726h1v1h-1zM434 730h1v1h-1zM433 734h1v1h-1zM432 738h1v1h-1zM431 742h1v1h-1zM430 746h1v1h-1zM429 750h1v1h-1zM428 754h1v1h-1zM427 758h1v1h-1zM426 762h1v1h-1zM425 766h1v1h-1zM424 770h1v1h-1zM423 774h1v1h-1zM421 778h1v1h-1zM420 782h1v1h-1zM419 786h1v1h-1zM418 790h1v1h-1zM417 794h1v1h-1zM415 798h1v1h-1zM414 802h1v1h-1zM413 806h1v1h-1zM412 810h1v1h-1zM410 814h1v1h-1zM409 818h1v1h-1zM408 822h1v1h-1zM406 826h1v1h-1zM405 830h1v1h-1zM403 834h1v1h-1zM402 838h1v1h-1zM400 842h1v1h-1zM398 846h1v1h-1zM397 850h1v1h-1zM395 854h1v1h-1zM393 858h1v1h-1zM391 862h1v1h-1zM389 866h1v1h-1zM386 870h1v1h-1zM383 874h1v1h-1zM380 878h1v1h-1zM488 430h1v1h-1zM485 434h1v1h-1zM482 438h1v1h-1zM479 442h1v1h-1zM476 446h1v1h-1zM473 450h1v1h-1zM469 454h1v1h-1zM466 458h1v1h-1zM463 462h1v1h-1zM460 466h1v1h-1zM457 470h1v1h-1zM454 474h1v1h-1zM450 478h1v1h-1zM447 482h1v1h-1zM444 486h1v1h-1zM441 490h1v1h-1zM438 494h1v1h-1zM434 498h1v1h-1zM431 502h1v1h-1zM428 506h1v1h-1zM425 510h1v1h-1zM422 514h1v1h-1zM418 518h1v1h-1zM415 522h1v1h-1zM412 526h1v1h-1zM409 530h1v1h-1zM405 534h1v1h-1zM402 538h1v1h-1zM399 542h1v1h-1zM396 546h1v1h-1zM392 550h1v1h-1zM389 554h1v1h-1zM386 558h1v1h-1zM383 562h1v1h-1zM379 566h1v1h-1zM376 570h1v1h-1zM373 574h1v1h-1zM370 578h1v1h-1zM366 582h1v1h-1zM363 586h1v1h-1zM360 590h1v1h-1zM356 594h1v1h-1zM353 598h1v1h-1zM350 602h1v1h-1zM346 606h1v1h-1zM343 610h1v1h-1zM340 614h1v1h-1zM337 618h1v1h-1zM333 622h1v1h-1zM330 626h1v1h-1zM326 630h1v1h-1zM323 634h1v1h-1zM320 638h1v1h-1zM316 642h1v1h-1zM313 646h1v1h-1zM310 650h1v1h-1zM306 654h1v1h-1zM303 658h1v1h-1zM300 662h1v1h-1zM296 666h1v1h-1zM293 670h1v1h-1zM289 674h1v1h-1zM286 678h1v1h-1zM282 682h1v1h-1zM279 686h1v1h-1zM276 690h1v1h-1zM272 694h1v1h-1zM269 698h1v1h-1zM265 702h1v1h-1zM262 706h1v1h-1zM258 710h1v1h-1zM255 714h1v1h-1zM251 718h1v1h-1zM248 722h1v1h-1zM244 726h1v1h-1zM240 730h1v1h-1zM237 734h1v1h-1zM233 738h1v1h-1zM230 742h1v1h-1zM226 746h1v1h-1zM222 750h1v1h-1zM218 754h1v1h-1zM215 758h1v1h-1zM211 762h1v1h-1zM207 766h1v1h-1zM203 770h1v1h-1zM199 774h1v1h-1zM195 778h1v1h-1zM191 781h1v1h-1zM187 785h1v1h-1zM183 789h1v1h-1zM179 792h1v1h-1zM487 427h1v1h-1zM483 429h1v1h-1zM479 430h1v1h-1zM475 432h1v1h-1zM471 433h1v1h-1zM467 435h1v1h-1zM463 437h1v1h-1zM459 438h1v1h-1zM455 440h1v1h-1zM451 441h1v1h-1zM447 443h1v1h-1zM443 445h1v1h-1zM439 446h1v1h-1zM435 448h1v1h-1zM431 449h1v1h-1zM427 451h1v1h-1zM423 453h1v1h-1zM419 454h1v1h-1zM415 456h1v1h-1zM411 457h1v1h-1zM407 459h1v1h-1zM403 461h1v1h-1zM399 462h1v1h-1zM395 464h1v1h-1zM391 466h1v1h-1zM387 467h1v1h-1zM383 469h1v1h-1zM379 470h1v1h-1zM375 472h1v1h-1zM371 474h1v1h-1zM367 475h1v1h-1zM363 477h1v1h-1zM359 479h1v1h-1zM355 480h1v1h-1zM351 482h1v1h-1zM347 484h1v1h-1zM343 485h1v1h-1zM339 487h1v1h-1zM335 488h1v1h-1zM331 490h1v1h-1zM327 492h1v1h-1zM323 493h1v1h-1zM319 495h1v1h-1zM315 497h1v1h-1zM311 498h1v1h-1zM307 500h1v1h-1zM303 502h1v1h-1zM299 503h1v1h-1zM295 505h1v1h-1zM291 507h1v1h-1zM287 508h1v1h-1zM283 510h1v1h-1zM279 512h1v1h-1zM275 513h1v1h-1zM271 515h1v1h-1zM267 517h1v1h-1zM263 518h1v1h-1zM259 520h1v1h-1zM255 522h1v1h-1zM251 524h1v1h-1zM247 525h1v1h-1zM243 527h1v1h-1zM239 529h1v1h-1zM235 530h1v1h-1zM231 532h1v1h-1zM227 534h1v1h-1zM223 536h1v1h-1zM219 537h1v1h-1zM215 539h1v1h-1zM211 541h1v1h-1zM207 542h1v1h-1zM203 544h1v1h-1zM199 546h1v1h-1zM195 548h1v1h-1zM191 549h1v1h-1zM187 551h1v1h-1zM183 553h1v1h-1zM179 555h1v1h-1zM175 556h1v1h-1zM171 558h1v1h-1zM167 560h1v1h-1zM163 562h1v1h-1zM159 563h1v1h-1zM155 565h1v1h-1zM151 567h1v1h-1zM147 569h1v1h-1zM143 571h1v1h-1zM139 572h1v1h-1zM135 574h1v1h-1zM131 576h1v1h-1zM127 578h1v1h-1zM123 580h1v1h-1zM119 581h1v1h-1zM115 583h1v1h-1zM111 585h1v1h-1zM107 587h1v1h-1zM103 589h1v1h-1zM99 591h1v1h-1zM95 593h1v1h-1zM91 595h1v1h-1zM87 597h1v1h-1zM83 599h1v1h-1zM79 600h1v1h-1zM75 602h1v1h-1zM71 605h1v1h-1zM67 607h1v1h-1zM63 609h1v1h-1zM59 611h1v1h-1zM55 613h1v1h-1zM51 616h1v1h-1zM487 425h1v1h-1zM483 424h1v1h-1zM479 424h1v1h-1zM475 423h1v1h-1zM471 423h1v1h-1zM467 422h1v1h-1zM463 421h1v1h-1zM459 421h1v1h-1zM455 420h1v1h-1zM451 420h1v1h-1zM447 419h1v1h-1zM443 419h1v1h-1zM439 418h1v1h-1zM435 417h1v1h-1zM431 417h1v1h-1zM427 416h1v1h-1zM423 416h1v1h-1zM415 415h1v1h-1zM411 414h1v1h-1zM407 414h1v1h-1zM403 413h1v1h-1zM399 413h1v1h-1zM395 412h1v1h-1zM391 412h1v1h-1zM387 411h1v1h-1zM383 411h1v1h-1zM379 410h1v1h-1zM375 410h1v1h-1zM371 409h1v1h-1zM367 409h1v1h-1zM363 408h1v1h-1zM359 408h1v1h-1zM355 407h1v1h-1zM351 407h1v1h-1zM347 406h1v1h-1zM343 406h1v1h-1zM339 406h1v1h-1zM335 405h1v1h-1zM331 405h1v1h-1zM327 404h1v1h-1zM323 404h1v1h-1zM319 403h1v1h-1zM315 403h1v1h-1zM311 403h1v1h-1zM307 402h1v1h-1zM303 402h1v1h-1zM299 401h1v1h-1zM295 401h1v1h-1zM291 401h1v1h-1zM287 400h1v1h-1zM283 400h1v1h-1zM279 399h1v1h-1zM275 399h1v1h-1zM271 399h1v1h-1zM267 398h1v1h-1zM263 398h1v1h-1zM259 398h1v1h-1zM255 397h1v1h-1zM251 397h1v1h-1zM247 397h1v1h-1zM243 396h1v1h-1zM239 396h1v1h-1zM235 396h1v1h-1zM231 396h1v1h-1zM227 395h1v1h-1zM223 395h1v1h-1zM219 395h1v1h-1zM215 394h1v1h-1zM211 394h1v1h-1zM207 394h1v1h-1zM203 394h1v1h-1zM199 393h1v1h-1zM195 393h1v1h-1zM191 393h1v1h-1zM187 393h1v1h-1zM183 393h1v1h-1zM179 392h1v1h-1zM175 392h1v1h-1zM171 392h1v1h-1zM167 392h1v1h-1zM163 392h1v1h-1zM159 391h1v1h-1zM151 391h1v1h-1zM147 391h1v1h-1zM143 391h1v1h-1zM139 391h1v1h-1zM135 391h1v1h-1zM131 391h1v1h-1zM127 391h1v1h-1zM123 391h1v1h-1zM119 391h1v1h-1zM115 391h1v1h-1zM111 391h1v1h-1zM107 391h1v1h-1zM103 391h1v1h-1zM99 391h1v1h-1zM95 391h1v1h-1zM91 391h1v1h-1zM87 391h1v1h-1zM83 391h1v1h-1zM79 391h1v1h-1zM75 392h1v1h-1zM71 392h1v1h-1zM67 392h1v1h-1zM63 392h1v1h-1zM59 393h1v1h-1zM55 393h1v1h-1zM51 394h1v1h-1zM47 394h1v1h-1zM43 395h1v1h-1zM39 396h1v1h-1zM35 397h1v1h-1zM31 398h1v1h-1zM27 399h1v1h-1zM23 401h1v1h-1z" fill="#000" shape-rendering="crispEdges"/>
<path d="M539 873h1v1h-1zM532 875h1v1h-1zM525 876h1v1h-1zM518 878h1v1h-1zM511 879h1v1h-1zM503 880h1v1h-1zM496 881h1v1h-1zM489 882h1v1h-1zM482 883h1v1h-1zM474 884h1v1h-1zM467 885h1v1h-1zM460 885h1v1h-1zM452 886h1v1h-1zM445 886h1v1h-1zM438 886h1v1h-1zM430 886h1v1h-1zM423 886h1v1h-1zM416 885h1v1h-1zM408 885h1v1h-1zM401 885h1v1h-1zM394 884h1v1h-1zM386 883h1v1h-1zM379 882h1v1h-1zM372 881h1v1h-1zM365 880h1v1h-1zM357 879h1v1h-1zM350 877h1v1h-1zM343 876h1v1h-1zM336 874h1v1h-1zM329 872h1v1h-1zM322 870h1v1h-1zM314 868h1v1h-1zM307 866h1v1h-1zM300 864h1v1h-1zM294 861h1v1h-1zM287 859h1v1h-1zM280 856h1v1h-1zM273 853h1v1h-1zM266 851h1v1h-1zM260 848h1v1h-1zM253 844h1v1h-1zM246 841h1v1h-1zM240 838h1v1h-1zM233 834h1v1h-1zM227 831h1v1h-1zM220 827h1v1h-1zM214 823h1v1h-1zM208 819h1v1h-1zM202 815h1v1h-1zM196 811h1v1h-1zM190 807h1v1h-1zM184 803h1v1h-1zM178 798h1v1h-1zM172 794h1v1h-1zM166 789h1v1h-1zM161 784h1v1h-1zM155 779h1v1h-1zM150 775h1v1h-1zM145 770h1v1h-1zM139 764h1v1h-1zM134 759h1v1h-1zM129 754h1v1h-1zM124 749h1v1h-1zM119 743h1v1h-1zM114 737h1v1h-1zM110 732h1v1h-1zM105 726h1v1h-1zM100 720h1v1h-1zM96 714h1v1h-1zM92 708h1v1h-1zM88 702h1v1h-1zM83 696h1v1h-1zM79 690h1v1h-1zM76 684h1v1h-1zM72 678h1v1h-1zM68 671h1v1h-1zM65 665h1v1h-1zM61 658h1v1h-1zM58 652h1v1h-1zM55 645h1v1h-1zM52 638h1v1h-1zM49 632h1v1h-1zM46 625h1v1h-1zM43 618h1v1h-1zM40 611h1v1h-1zM38 604h1v1h-1zM36 597h1v1h-1zM33 590h1v1h-1zM31 583h1v1h-1zM29 576h1v1h-1zM27 569h1v1h-1zM25 562h1v1h-1zM24 555h1v1h-1zM22 548h1v1h-1zM21 541h1v1h-1zM20 533h1v1h-1zM19 526h1v1h-1zM18 519h1v1h-1zM17 511h1v1h-1zM16 504h1v1h-1zM15 497h1v1h-1zM15 490h1v1h-1zM14 482h1v1h-1zM14 475h1v1h-1zM14 467h1v1h-1zM14 460h1v1h-1zM14 453h1v1h-1zM15 445h1v1h-1zM15 438h1v1h-1zM15 431h1v1h-1zM16 423h1v1h-1zM17 416h1v1h-1zM18 409h1v1h-1zM19 402h1v1h-1zM20 394h1v1h-1zM21 387h1v1h-1zM23 380h1v1h-1zM24 373h1v1h-1zM26 366h1v1h-1zM28 358h1v1h-1zM30 351h1v1h-1zM32 344h1v1h-1zM34 337h1v1h-1zM36 330h1v1h-1zM39 323h1v1h-1zM41 316h1v1h-1zM44 310h1v1h-1zM47 303h1v1h-1zM49 296h1v1h-1zM52 289h1v1h-1zM56 283h1v1h-1zM59 276h1v1h-1zM62 270h1v1h-1zM66 263h1v1h-1zM69 257h1v1h-1zM73 250h1v1h-1zM77 244h1v1h-1zM81 238h1v1h-1zM85 232h1v1h-1zM89 226h1v1h-1zM93 220h1v1h-1zM97 214h1v1h-1zM102 208h1v1h-1zM106 202h1v1h-1zM111 196h1v1h-1zM116 191h1v1h-1zM121 185h1v1h-1zM125 180h1v1h-1zM130 174h1v1h-1zM136 169h1v1h-1zM141 164h1v1h-1zM146 159h1v1h-1zM151 154h1v1h-1zM157 149h1v1h-1zM163 144h1v1h-1zM168 139h1v1h-1zM174 135h1v1h-1zM180 130h1v1h-1zM186 126h1v1h-1zM192 122h1v1h-1zM198 117h1v1h-1zM204 113h1v1h-1zM210 109h1v1h-1zM216 105h1v1h-1zM222 102h1v1h-1zM229 98h1v1h-1zM235 94h1v1h-1zM242 91h1v1h-1zM248 88h1v1h-1zM255 84h1v1h-1zM262 81h1v1h-1zM268 78h1v1h-1zM275 76h1v1h-1zM282 73h1v1h-1zM289 70h1v1h-1zM296 68h1v1h-1zM303 65h1v1h-1zM310 63h1v1h-1zM317 61h1v1h-1zM324 59h1v1h-1zM331 57h1v1h-1zM850 462h1v1h-1zM850 470h1v1h-1zM850 477h1v1h-1zM849 484h1v1h-1zM849 491h1v1h-1zM848 499h1v1h-1zM848 506h1v1h-1zM847 513h1v1h-1zM846 520h1v1h-1zM845 527h1v1h-1zM844 534h1v1h-1zM843 542h1v1h-1zM841 549h1v1h-1zM840 556h1v1h-1zM838 563h1v1h-1zM836 570h1v1h-1zM834 577h1v1h-1zM832 584h1v1h-1zM830 591h1v1h-1zM828 597h1v1h-1zM826 604h1v1h-1zM823 611h1v1h-1zM820 618h1v1h-1zM818 625h1v1h-1zM815 631h1v1h-1zM812 638h1v1h-1zM809 644h1v1h-1zM806 651h1v1h-1zM802 657h1v1h-1zM799 664h1v1h-1zM795 670h1v1h-1zM792 676h1v1h-1zM788 682h1v1h-1zM784 689h1v1h-1zM780 695h1v1h-1zM776 701h1v1h-1zM772 707h1v1h-1zM768 712h1v1h-1zM763 718h1v1h-1zM759 724h1v1h-1zM754 729h1v1h-1zM750 735h1v1h-1zM745 740h1v1h-1zM740 746h1v1h-1zM735 751h1v1h-1zM730 756h1v1h-1zM725 761h1v1h-1zM720 766h1v1h-1zM714 771h1v1h-1zM709 776h1v1h-1zM704 781h1v1h-1zM698 786h1v1h-1zM692 790h1v1h-1zM687 794h1v1h-1zM681 799h1v1h-1zM675 803h1v1h-1zM669 807h1v1h-1zM663 811h1v1h-1zM657 815h1v1h-1zM651 819h1v1h-1zM645 823h1v1h-1zM638 826h1v1h-1zM632 830h1v1h-1zM626 833h1v1h-1zM619 836h1v1h-1zM613 840h1v1h-1zM606 843h1v1h-1zM599 846h1v1h-1zM593 848h1v1h-1zM586 851h1v1h-1zM579 854h1v1h-1zM572 856h1v1h-1zM566 858h1v1h-1zM559 861h1v1h-1zM552 863h1v1h-1zM545 865h1v1h-1zM538 867h1v1h-1zM531 868h1v1h-1zM524 870h1v1h-1zM517 871h1v1h-1zM510 873h1v1h-1zM502 874h1v1h-1zM495 875h1v1h-1zM488 876h1v1h-1zM481 877h1v1h-1zM474 878h1v1h-1zM467 878h1v1h-1zM459 879h1v1h-1zM452 879h1v1h-1zM445 879h1v1h-1zM438 879h1v1h-1zM430 879h1v1h-1zM423 879h1v1h-1zM416 879h1v1h-1zM409 879h1v1h-1zM401 878h1v1h-1zM394 877h1v1h-1zM387 877h1v1h-1zM380 876h1v1h-1zM373 875h1v1h-1zM366 874h1v1h-1zM358 872h1v1h-1zM351 871h1v1h-1zM344 869h1v1h-1zM337 868h1v1h-1zM330 866h1v1h-1zM323 864h1v1h-1zM316 862h1v1h-1zM309 860h1v1h-1zM303 858h1v1h-1zM296 855h1v1h-1zM289 853h1v1h-1zM282 850h1v1h-1zM275 848h1v1h-1zM269 845h1v1h-1zM262 842h1v1h-1zM256 839h1v1h-1zM249 835h1v1h-1zM243 832h1v1h-1zM236 829h1v1h-1zM230 825h1v1h-1zM224 822h1v1h-1zM218 818h1v1h-1zM211 814h1v1h-1zM205 810h1v1h-1zM199 806h1v1h-1zM193 802h1v1h-1zM188 798h1v1h-1zM182 793h1v1h-1zM176 789h1v1h-1zM171 784h1v1h-1zM165 779h1v1h-1zM160 775h1v1h-1zM154 770h1v1h-1zM149 765h1v1h-1zM144 760h1v1h-1zM139 755h1v1h-1zM134 750h1v1h-1zM129 744h1v1h-1zM124 739h1v1h-1zM119 733h1v1h-1zM114 728h1v1h-1zM110 722h1v1h-1zM106 716h1v1h-1zM101 711h1v1h-1zM97 705h1v1h-1zM93 699h1v1h-1zM89 693h1v1h-1zM85 687h1v1h-1zM81 681h1v1h-1zM77 674h1v1h-1zM74 668h1v1h-1zM70 662h1v1h-1zM67 655h1v1h-1zM64 649h1v1h-1zM60 642h1v1h-1zM57 636h1v1h-1zM54 629h1v1h-1zM52 623h1v1h-1zM49 616h1v1h-1zM46 609h1v1h-1zM44 602h1v1h-1zM42 595h1v1h-1zM39 589h1v1h-1zM37 582h1v1h-1zM35 575h1v1h-1zM33 568h1v1h-1zM32 561h1v1h-1zM30 554h1v1h-1zM29 546h1v1h-1zM27 539h1v1h-1zM26 532h1v1h-1zM25 525h1v1h-1zM24 518h1v1h-1zM23 511h1v1h-1zM22 504h1v1h-1zM22 496h1v1h-1zM21 489h1v1h-1zM21 482h1v1h-1zM21 475h1v1h-1zM21 467h1v1h-1zM21 460h1v1h-1zM21 453h1v1h-1zM21 446h1v1h-1zM21 439h1v1h-1zM22 431h1v1h-1zM23 424h1v1h-1zM23 417h1v1h-1zM24 410h1v1h-1zM25 403h1v1h-1zM26 395h1v1h-1zM28 388h1v1h-1zM29 381h1v1h-1zM31 374h1v1h-1zM32 367h1v1h-1zM34 360h1v1h-1zM36 353h1v1h-1zM38 346h1v1h-1zM40 339h1v1h-1zM42 332h1v1h-1zM45 325h1v1h-1zM47 319h1v1h-1zM50 312h1v1h-1zM52 305h1v1h-1zM55 299h1v1h-1zM58 292h1v1h-1zM61 285h1v1h-1zM65 279h1v1h-1zM68 272h1v1h-1zM71 266h1v1h-1zM75 260h1v1h-1zM78 254h1v1h-1zM82 247h1v1h-1zM86 241h1v1h-1zM90 235h1v1h-1zM94 229h1v1h-1zM98 223h1v1h-1zM102 217h1v1h-1zM107 212h1v1h-1zM111 206h1v1h-1zM116 200h1v1h-1zM121 195h1v1h-1zM125 189h1v1h-1zM130 184h1v1h-1zM135 179h1v1h-1zM140 174h1v1h-1zM145 168h1v1h-1zM150 163h1v1h-1zM156 158h1v1h-1zM161 154h1v1h-1zM167 149h1v1h-1zM172 144h1v1h-1zM178 140h1v1h-1zM184 135h1v1h-1zM189 131h1v1h-1zM195 127h1v1h-1zM201 123h1v1h-1zM207 119h1v1h-1zM213 115h1v1h-1zM219 111h1v1h-1zM226 107h1v1h-1zM232 104h1v1h-1zM238 100h1v1h-1zM245 97h1v1h-1zM251 93h1v1h-1zM258 90h1v1h-1zM264 87h1v1h-1zM271 84h1v1h-1zM277 81h1v1h-1zM284 79h1v1h-1zM291 76h1v1h-1zM298 74h1v1h-1zM305 71h1v1h-1zM311 69h1v1h-1zM318 67h1v1h-1zM325 65h1v1h-1zM332 63h1v1h-1zM339 61h1v1h-1zM346 60h1v1h-1zM354 58h1v1h-1zM361 57h1v1h-1zM368 56h1v1h-1zM375 55h1v1h-1zM382 54h1v1h-1zM389 53h1v1h-1zM396 52h1v1h-1zM404 51h1v1h-1zM411 51h1v1h-1zM418 51h1v1h-1zM425 50h1v1h-1zM433 50h1v1h-1zM440 50h1v1h-1zM447 50h1v1h-1zM454 51h1v1h-1zM461 51h1v1h-1zM469 52h1v1h-1zM476 52h1v1h-1zM483 53h1v1h-1zM490 54h1v1h-1zM497 55h1v1h-1zM505 56h1v1h-1zM512 57h1v1h-1zM519 59h1v1h-1zM526 60h1v1h-1zM533 62h1v1h-1zM540 64h1v1h-1zM547 66h1v1h-1zM554 68h1v1h-1zM561 70h1v1h-1zM568 72h1v1h-1zM575 74h1v1h-1zM581 77h1v1h-1zM588 80h1v1h-1zM595 82h1v1h-1zM601 85h1v1h-1zM608 88h1v1h-1zM615 91h1v1h-1zM621 94h1v1h-1zM628 98h1v1h-1zM634 101h1v1h-1zM640 105h1v1h-1zM646 108h1v1h-1zM653 112h1v1h-1zM659 116h1v1h-1zM665 120h1v1h-1zM671 124h1v1h-1zM677 128h1v1h-1zM683 132h1v1h-1zM688 137h1v1h-1zM694 141h1v1h-1zM700 146h1v1h-1zM705 150h1v1h-1zM711 155h1v1h-1zM716 160h1v1h-1zM721 165h1v1h-1zM726 170h1v1h-1zM732 175h1v1h-1zM737 180h1v1h-1zM742 186h1v1h-1zM746 191h1v1h-1zM751 196h1v1h-1zM756 202h1v1h-1zM760 208h1v1h-1zM765 213h1v1h-1zM769 219h1v1h-1zM773 225h1v1h-1zM777 231h1v1h-1zM781 237h1v1h-1zM785 243h1v1h-1zM789 249h1v1h-1zM793 255h1v1h-1zM796 262h1v1h-1zM800 268h1v1h-1zM803 274h1v1h-1zM807 281h1v1h-1zM810 287h1v1h-1zM813 294h1v1h-1zM816 301h1v1h-1zM819 307h1v1h-1zM821 314h1v1h-1zM824 321h1v1h-1zM826 328h1v1h-1zM829 334h1v1h-1zM831 341h1v1h-1zM833 348h1v1h-1zM835 355h1v1h-1zM837 362h1v1h-1zM839 369h1v1h-1zM840 376h1v1h-1zM842 383h1v1h-1zM843 390h1v1h-1zM844 398h1v1h-1zM845 405h1v1h-1zM846 412h1v1h-1zM847 419h1v1h-1zM848 426h1v1h-1zM849 433h1v1h-1zM849 441h1v1h-1zM849 448h1v1h-1zM850 455h1v1h-1zM831 462h1v1h-1zM831 469h1v1h-1zM831 476h1v1h-1zM830 483h1v1h-1zM830 490h1v1h-1zM829 497h1v1h-1zM829 504h1v1h-1zM828 511h1v1h-1zM827 518h1v1h-1zM826 524h1v1h-1zM825 531h1v1h-1zM824 538h1v1h-1zM823 545h1v1h-1zM821 552h1v1h-1zM820 558h1v1h-1zM818 565h1v1h-1zM816 572h1v1h-1zM814 578h1v1h-1zM812 585h1v1h-1zM810 591h1v1h-1zM808 598h1v1h-1zM805 604h1v1h-1zM803 611h1v1h-1zM800 617h1v1h-1zM797 624h1v1h-1zM795 630h1v1h-1zM792 636h1v1h-1zM789 642h1v1h-1zM786 648h1v1h-1zM782 655h1v1h-1zM779 661h1v1h-1zM775 667h1v1h-1zM772 672h1v1h-1zM768 678h1v1h-1zM764 684h1v1h-1zM761 690h1v1h-1zM757 695h1v1h-1zM752 701h1v1h-1zM748 707h1v1h-1zM744 712h1v1h-1zM740 717h1v1h-1zM735 723h1v1h-1zM731 728h1v1h-1zM726 733h1v1h-1zM721 738h1v1h-1zM717 743h1v1h-1zM712 748h1v1h-1zM707 753h1v1h-1zM702 757h1v1h-1zM696 762h1v1h-1zM691 766h1v1h-1zM686 771h1v1h-1zM681 775h1v1h-1zM675 779h1v1h-1zM670 784h1v1h-1zM664 788h1v1h-1zM658 792h1v1h-1zM653 795h1v1h-1zM647 799h1v1h-1zM641 803h1v1h-1zM635 806h1v1h-1zM629 810h1v1h-1zM623 813h1v1h-1zM617 816h1v1h-1zM611 819h1v1h-1zM604 822h1v1h-1zM598 825h1v1h-1zM592 828h1v1h-1zM586 831h1v1h-1zM579 833h1v1h-1zM573 836h1v1h-1zM566 838h1v1h-1zM560 840h1v1h-1zM553 843h1v1h-1zM546 845h1v1h-1zM540 846h1v1h-1zM533 848h1v1h-1zM526 850h1v1h-1zM520 851h1v1h-1zM513 853h1v1h-1zM506 854h1v1h-1zM499 855h1v1h-1zM493 856h1v1h-1zM486 857h1v1h-1zM479 858h1v1h-1zM472 859h1v1h-1zM465 859h1v1h-1zM458 860h1v1h-1zM451 860h1v1h-1zM444 860h1v1h-1zM438 861h1v1h-1zM431 860h1v1h-1zM424 860h1v1h-1zM417 860h1v1h-1zM410 860h1v1h-1zM403 859h1v1h-1zM396 859h1v1h-1zM389 858h1v1h-1zM382 857h1v1h-1zM376 856h1v1h-1zM369 855h1v1h-1zM362 854h1v1h-1zM355 852h1v1h-1zM348 851h1v1h-1zM342 849h1v1h-1zM335 848h1v1h-1zM328 846h1v1h-1zM322 844h1v1h-1zM315 842h1v1h-1zM309 840h1v1h-1zM302 837h1v1h-1zM296 835h1v1h-1zM289 833h1v1h-1zM283 830h1v1h-1zM276 827h1v1h-1zM270 824h1v1h-1zM264 822h1v1h-1zM258 818h1v1h-1zM252 815h1v1h-1zM245 812h1v1h-1zM239 809h1v1h-1zM233 805h1v1h-1zM228 802h1v1h-1zM222 798h1v1h-1zM216 794h1v1h-1zM210 790h1v1h-1zM205 786h1v1h-1zM199 782h1v1h-1zM193 778h1v1h-1zM188 774h1v1h-1zM183 770h1v1h-1zM177 765h1v1h-1zM172 761h1v1h-1zM167 756h1v1h-1zM162 751h1v1h-1zM157 746h1v1h-1zM152 741h1v1h-1zM147 736h1v1h-1zM143 731h1v1h-1zM138 726h1v1h-1zM134 721h1v1h-1zM129 716h1v1h-1zM125 710h1v1h-1zM121 705h1v1h-1zM116 699h1v1h-1zM112 694h1v1h-1zM108 688h1v1h-1zM105 682h1v1h-1zM101 677h1v1h-1zM97 671h1v1h-1zM94 665h1v1h-1zM90 659h1v1h-1zM87 653h1v1h-1zM84 647h1v1h-1zM81 640h1v1h-1zM78 634h1v1h-1zM75 628h1v1h-1zM72 622h1v1h-1zM69 615h1v1h-1zM67 609h1v1h-1zM64 602h1v1h-1zM62 596h1v1h-1zM60 589h1v1h-1zM57 583h1v1h-1zM55 576h1v1h-1zM54 570h1v1h-1zM52 563h1v1h-1zM50 556h1v1h-1zM49 550h1v1h-1zM47 543h1v1h-1zM46 536h1v1h-1zM45 529h1v1h-1zM44 522h1v1h-1zM43 516h1v1h-1zM42 509h1v1h-1zM41 502h1v1h-1zM41 495h1v1h-1zM40 488h1v1h-1zM40 481h1v1h-1zM40 474h1v1h-1zM39 467h1v1h-1zM40 460h1v1h-1zM40 454h1v1h-1zM40 447h1v1h-1zM40 440h1v1h-1zM41 433h1v1h-1zM41 426h1v1h-1zM42 419h1v1h-1zM43 412h1v1h-1zM44 405h1v1h-1zM45 399h1v1h-1zM46 392h1v1h-1zM48 385h1v1h-1zM49 378h1v1h-1zM51 372h1v1h-1zM52 365h1v1h-1zM54 358h1v1h-1zM56 352h1v1h-1zM58 345h1v1h-1zM60 338h1v1h-1zM63 332h1v1h-1zM65 325h1v1h-1zM67 319h1v1h-1zM70 313h1v1h-1zM73 306h1v1h-1zM76 300h1v1h-1zM78 294h1v1h-1zM82 287h1v1h-1zM85 281h1v1h-1zM88 275h1v1h-1zM91 269h1v1h-1zM95 263h1v1h-1zM98 257h1v1h-1zM102 251h1v1h-1zM106 246h1v1h-1zM110 240h1v1h-1zM114 234h1v1h-1zM118 229h1v1h-1zM122 223h1v1h-1zM126 218h1v1h-1zM130 212h1v1h-1zM135 207h1v1h-1zM139 202h1v1h-1zM144 197h1v1h-1zM149 192h1v1h-1zM154 187h1v1h-1zM159 182h1v1h-1zM164 177h1v1h-1zM169 173h1v1h-1zM174 168h1v1h-1zM179 163h1v1h-1zM184 159h1v1h-1zM190 155h1v1h-1zM195 150h1v1h-1zM201 146h1v1h-1zM206 142h1v1h-1zM212 138h1v1h-1zM218 134h1v1h-1zM223 131h1v1h-1zM229 127h1v1h-1zM235 124h1v1h-1zM241 120h1v1h-1zM247 117h1v1h-1zM253 114h1v1h-1zM260 110h1v1h-1zM266 107h1v1h-1zM272 104h1v1h-1zM278 102h1v1h-1zM285 99h1v1h-1zM291 96h1v1h-1zM298 94h1v1h-1zM304 92h1v1h-1zM311 89h1v1h-1zM317 87h1v1h-1zM324 85h1v1h-1zM330 83h1v1h-1zM337 82h1v1h-1zM344 80h1v1h-1zM350 78h1v1h-1zM357 77h1v1h-1zM364 76h1v1h-1zM371 75h1v1h-1zM378 73h1v1h-1zM384 73h1v1h-1zM391 72h1v1h-1zM398 71h1v1h-1zM405 70h1v1h-1zM412 70h1v1h-1zM419 70h1v1h-1zM426 69h1v1h-1zM433 69h1v1h-1zM440 69h1v1h-1zM446 69h1v1h-1zM453 70h1v1h-1zM460 70h1v1h-1zM467 71h1v1h-1zM474 71h1v1h-1zM481 72h1v1h-1zM488 73h1v1h-1zM495 74h1v1h-1zM501 75h1v1h-1zM508 76h1v1h-1zM515 77h1v1h-1zM522 79h1v1h-1zM528 80h1v1h-1zM535 82h1v1h-1zM542 84h1v1h-1zM548 86h1v1h-1zM555 88h1v1h-1zM562 90h1v1h-1zM568 92h1v1h-1zM575 95h1v1h-1zM581 97h1v1h-1zM587 100h1v1h-1zM594 103h1v1h-1zM600 105h1v1h-1zM606 108h1v1h-1zM613 111h1v1h-1zM619 114h1v1h-1zM625 118h1v1h-1zM631 121h1v1h-1zM637 125h1v1h-1zM643 128h1v1h-1zM649 132h1v1h-1zM654 136h1v1h-1zM660 139h1v1h-1zM666 143h1v1h-1zM671 148h1v1h-1zM677 152h1v1h-1zM682 156h1v1h-1zM688 160h1v1h-1zM693 165h1v1h-1zM698 169h1v1h-1zM703 174h1v1h-1zM708 179h1v1h-1zM713 183h1v1h-1zM718 188h1v1h-1zM723 193h1v1h-1zM727 198h1v1h-1zM732 204h1v1h-1zM737 209h1v1h-1zM741 214h1v1h-1zM745 219h1v1h-1zM750 225h1v1h-1zM754 230h1v1h-1zM758 236h1v1h-1zM762 242h1v1h-1zM766 247h1v1h-1zM769 253h1v1h-1zM773 259h1v1h-1zM776 265h1v1h-1zM780 271h1v1h-1zM783 277h1v1h-1zM786 283h1v1h-1zM790 289h1v1h-1zM793 296h1v1h-1zM796 302h1v1h-1zM798 308h1v1h-1zM801 314h1v1h-1zM804 321h1v1h-1zM806 327h1v1h-1zM808 334h1v1h-1zM811 340h1v1h-1zM813 347h1v1h-1zM815 354h1v1h-1zM817 360h1v1h-1zM818 367h1v1h-1zM820 374h1v1h-1zM822 380h1v1h-1zM823 387h1v1h-1zM824 394h1v1h-1zM825 401h1v1h-1zM827 407h1v1h-1zM827 414h1v1h-1zM828 421h1v1h-1zM829 428h1v1h-1zM830 435h1v1h-1zM830 442h1v1h-1zM830 449h1v1h-1zM831 456h1v1h-1zM800 463h1v1h-1zM800 469h1v1h-1zM800 475h1v1h-1zM799 482h1v1h-1zM799 488h1v1h-1zM798 494h1v1h-1zM798 501h1v1h-1zM797 507h1v1h-1zM796 513h1v1h-1zM796 520h1v1h-1zM795 526h1v1h-1zM793 532h1v1h-1zM792 539h1v1h-1zM791 545h1v1h-1zM789 551h1v1h-1zM788 557h1v1h-1zM786 563h1v1h-1zM784 569h1v1h-1zM783 575h1v1h-1zM781 581h1v1h-1zM778 588h1v1h-1zM776 593h1v1h-1zM774 599h1v1h-1zM772 605h1v1h-1zM769 611h1v1h-1zM766 617h1v1h-1zM764 623h1v1h-1zM761 628h1v1h-1zM758 634h1v1h-1zM755 640h1v1h-1zM752 645h1v1h-1zM749 651h1v1h-1zM745 656h1v1h-1zM742 662h1v1h-1zM739 667h1v1h-1zM735 672h1v1h-1zM731 677h1v1h-1zM728 683h1v1h-1zM724 688h1v1h-1zM720 693h1v1h-1zM716 698h1v1h-1zM712 702h1v1h-1zM708 707h1v1h-1zM703 712h1v1h-1zM699 717h1v1h-1zM694 721h1v1h-1zM690 726h1v1h-1zM685 730h1v1h-1zM681 734h1v1h-1zM676 739h1v1h-1zM671 743h1v1h-1zM666 747h1v1h-1zM661 751h1v1h-1zM656 755h1v1h-1zM651 759h1v1h-1zM646 762h1v1h-1zM641 766h1v1h-1zM636 769h1v1h-1zM630 773h1v1h-1zM625 776h1v1h-1zM619 780h1v1h-1zM614 783h1v1h-1zM608 786h1v1h-1zM603 789h1v1h-1zM597 792h1v1h-1zM591 794h1v1h-1zM585 797h1v1h-1zM580 800h1v1h-1zM574 802h1v1h-1zM568 804h1v1h-1zM562 807h1v1h-1zM556 809h1v1h-1zM550 811h1v1h-1zM544 813h1v1h-1zM538 815h1v1h-1zM532 816h1v1h-1zM525 818h1v1h-1zM519 820h1v1h-1zM513 821h1v1h-1zM507 822h1v1h-1zM501 824h1v1h-1zM494 825h1v1h-1zM488 826h1v1h-1zM482 827h1v1h-1zM475 827h1v1h-1zM469 828h1v1h-1zM463 828h1v1h-1zM456 829h1v1h-1zM450 829h1v1h-1zM444 829h1v1h-1zM437 829h1v1h-1zM431 829h1v1h-1zM425 829h1v1h-1zM418 829h1v1h-1zM412 829h1v1h-1zM406 828h1v1h-1zM399 828h1v1h-1zM393 827h1v1h-1zM387 826h1v1h-1zM380 825h1v1h-1zM374 824h1v1h-1zM368 823h1v1h-1zM361 822h1v1h-1zM355 821h1v1h-1zM349 819h1v1h-1zM343 818h1v1h-1zM337 816h1v1h-1zM331 814h1v1h-1zM325 812h1v1h-1zM319 810h1v1h-1zM312 808h1v1h-1zM307 806h1v1h-1zM301 804h1v1h-1zM295 801h1v1h-1zM289 799h1v1h-1zM283 796h1v1h-1zM277 794h1v1h-1zM272 791h1v1h-1zM266 788h1v1h-1zM260 785h1v1h-1zM255 782h1v1h-1zM249 779h1v1h-1zM244 775h1v1h-1zM238 772h1v1h-1zM233 768h1v1h-1zM228 765h1v1h-1zM223 761h1v1h-1zM217 757h1v1h-1zM212 754h1v1h-1zM207 750h1v1h-1zM202 746h1v1h-1zM198 742h1v1h-1zM193 737h1v1h-1zM188 733h1v1h-1zM183 729h1v1h-1zM179 724h1v1h-1zM174 720h1v1h-1zM170 715h1v1h-1zM166 711h1v1h-1zM161 706h1v1h-1zM157 701h1v1h-1zM153 696h1v1h-1zM149 691h1v1h-1zM145 686h1v1h-1zM141 681h1v1h-1zM138 676h1v1h-1zM134 671h1v1h-1zM131 665h1v1h-1zM127 660h1v1h-1zM124 655h1v1h-1zM120 649h1v1h-1zM117 644h1v1h-1zM114 638h1v1h-1zM111 632h1v1h-1zM108 627h1v1h-1zM106 621h1v1h-1zM103 615h1v1h-1zM100 609h1v1h-1zM98 604h1v1h-1zM96 598h1v1h-1zM93 592h1v1h-1zM91 586h1v1h-1zM89 580h1v1h-1zM87 574h1v1h-1zM85 568h1v1h-1zM84 561h1v1h-1zM82 555h1v1h-1zM80 549h1v1h-1zM79 543h1v1h-1zM78 537h1v1h-1zM76 530h1v1h-1zM75 524h1v1h-1zM74 518h1v1h-1zM73 512h1v1h-1zM73 505h1v1h-1zM72 499h1v1h-1zM72 493h1v1h-1zM71 486h1v1h-1zM71 480h1v1h-1zM71 473h1v1h-1zM71 467h1v1h-1zM71 461h1v1h-1zM71 454h1v1h-1zM71 448h1v1h-1zM71 442h1v1h-1zM72 435h1v1h-1zM72 429h1v1h-1zM73 423h1v1h-1zM74 416h1v1h-1zM75 410h1v1h-1zM76 404h1v1h-1zM77 398h1v1h-1zM78 391h1v1h-1zM79 385h1v1h-1zM81 379h1v1h-1zM82 373h1v1h-1zM84 367h1v1h-1zM86 360h1v1h-1zM88 354h1v1h-1zM90 348h1v1h-1zM92 342h1v1h-1zM94 336h1v1h-1zM96 330h1v1h-1zM99 324h1v1h-1zM101 319h1v1h-1zM104 313h1v1h-1zM106 307h1v1h-1zM109 301h1v1h-1zM112 296h1v1h-1zM115 290h1v1h-1zM118 285h1v1h-1zM121 279h1v1h-1zM125 274h1v1h-1zM128 268h1v1h-1zM132 263h1v1h-1zM135 258h1v1h-1zM139 252h1v1h-1zM143 247h1v1h-1zM146 242h1v1h-1zM150 237h1v1h-1zM154 232h1v1h-1zM158 227h1v1h-1zM163 223h1v1h-1zM167 218h1v1h-1zM171 213h1v1h-1zM176 209h1v1h-1zM180 204h1v1h-1zM185 200h1v1h-1zM189 195h1v1h-1zM194 191h1v1h-1zM199 187h1v1h-1zM204 183h1v1h-1zM209 179h1v1h-1zM214 175h1v1h-1zM219 171h1v1h-1zM224 168h1v1h-1zM229 164h1v1h-1zM235 160h1v1h-1zM240 157h1v1h-1zM245 154h1v1h-1zM251 150h1v1h-1zM256 147h1v1h-1zM262 144h1v1h-1zM268 141h1v1h-1zM273 138h1v1h-1zM279 135h1v1h-1zM285 133h1v1h-1zM291 130h1v1h-1zM296 128h1v1h-1zM302 125h1v1h-1zM308 123h1v1h-1zM314 121h1v1h-1zM320 119h1v1h-1zM326 117h1v1h-1zM332 115h1v1h-1zM339 113h1v1h-1zM345 112h1v1h-1zM351 110h1v1h-1zM357 109h1v1h-1zM363 107h1v1h-1zM370 106h1v1h-1zM376 105h1v1h-1zM382 104h1v1h-1zM388 103h1v1h-1zM395 103h1v1h-1zM401 102h1v1h-1zM407 101h1v1h-1zM414 101h1v1h-1zM420 101h1v1h-1zM427 100h1v1h-1zM433 100h1v1h-1zM439 100h1v1h-1zM446 100h1v1h-1zM452 101h1v1h-1zM458 101h1v1h-1zM465 102h1v1h-1zM471 102h1v1h-1zM477 103h1v1h-1zM484 104h1v1h-1zM490 104h1v1h-1zM496 105h1v1h-1zM502 107h1v1h-1zM509 108h1v1h-1zM515 109h1v1h-1zM521 111h1v1h-1zM527 112h1v1h-1zM533 114h1v1h-1zM540 116h1v1h-1zM546 117h1v1h-1zM552 119h1v1h-1zM558 122h1v1h-1zM564 124h1v1h-1zM570 126h1v1h-1zM576 128h1v1h-1zM581 131h1v1h-1zM587 134h1v1h-1zM593 136h1v1h-1zM599 139h1v1h-1zM604 142h1v1h-1zM610 145h1v1h-1zM615 148h1v1h-1zM621 151h1v1h-1zM626 155h1v1h-1zM632 158h1v1h-1zM637 161h1v1h-1zM642 165h1v1h-1zM648 169h1v1h-1zM653 172h1v1h-1zM658 176h1v1h-1zM663 180h1v1h-1zM668 184h1v1h-1zM673 188h1v1h-1zM677 192h1v1h-1zM682 197h1v1h-1zM687 201h1v1h-1zM691 206h1v1h-1zM696 210h1v1h-1zM700 215h1v1h-1zM705 219h1v1h-1zM709 224h1v1h-1zM713 229h1v1h-1zM717 234h1v1h-1zM721 239h1v1h-1zM725 244h1v1h-1zM729 249h1v1h-1zM732 254h1v1h-1zM736 259h1v1h-1zM740 264h1v1h-1zM743 270h1v1h-1zM746 275h1v1h-1zM750 281h1v1h-1zM753 286h1v1h-1zM756 292h1v1h-1zM759 297h1v1h-1zM762 303h1v1h-1zM765 309h1v1h-1zM767 315h1v1h-1zM770 320h1v1h-1zM772 326h1v1h-1zM775 332h1v1h-1zM777 338h1v1h-1zM779 344h1v1h-1zM781 350h1v1h-1zM783 356h1v1h-1zM785 362h1v1h-1zM787 368h1v1h-1zM788 375h1v1h-1zM790 381h1v1h-1zM791 387h1v1h-1zM793 393h1v1h-1zM794 399h1v1h-1zM795 406h1v1h-1zM796 412h1v1h-1zM797 418h1v1h-1zM797 425h1v1h-1zM798 431h1v1h-1zM799 437h1v1h-1zM799 444h1v1h-1zM799 450h1v1h-1zM800 456h1v1h-1zM758 463h1v1h-1zM758 469h1v1h-1zM757 474h1v1h-1zM757 480h1v1h-1zM757 485h1v1h-1zM757 491h1v1h-1zM756 497h1v1h-1zM755 502h1v1h-1zM755 508h1v1h-1zM754 513h1v1h-1zM753 519h1v1h-1zM752 525h1v1h-1zM751 530h1v1h-1zM750 536h1v1h-1zM748 541h1v1h-1zM747 546h1v1h-1zM746 552h1v1h-1zM744 557h1v1h-1zM742 563h1v1h-1zM741 568h1v1h-1zM739 573h1v1h-1zM737 579h1v1h-1zM735 584h1v1h-1zM733 589h1v1h-1zM731 594h1v1h-1zM728 599h1v1h-1zM726 605h1v1h-1zM723 610h1v1h-1zM721 615h1v1h-1zM718 620h1v1h-1zM715 624h1v1h-1zM713 629h1v1h-1zM710 634h1v1h-1zM707 639h1v1h-1zM704 644h1v1h-1zM700 648h1v1h-1zM697 653h1v1h-1zM694 657h1v1h-1zM690 662h1v1h-1zM687 666h1v1h-1zM683 671h1v1h-1zM680 675h1v1h-1zM676 679h1v1h-1zM672 683h1v1h-1zM668 688h1v1h-1zM665 692h1v1h-1zM661 696h1v1h-1zM656 699h1v1h-1zM652 703h1v1h-1zM648 707h1v1h-1zM644 711h1v1h-1zM640 714h1v1h-1zM635 718h1v1h-1zM631 721h1v1h-1zM626 725h1v1h-1zM622 728h1v1h-1zM617 731h1v1h-1zM612 734h1v1h-1zM608 737h1v1h-1zM603 740h1v1h-1zM598 743h1v1h-1zM593 746h1v1h-1zM588 749h1v1h-1zM583 751h1v1h-1zM578 754h1v1h-1zM573 756h1v1h-1zM568 759h1v1h-1zM563 761h1v1h-1zM558 763h1v1h-1zM553 765h1v1h-1zM547 767h1v1h-1zM542 769h1v1h-1zM537 771h1v1h-1zM531 773h1v1h-1zM526 774h1v1h-1zM520 776h1v1h-1zM515 777h1v1h-1zM510 779h1v1h-1zM504 780h1v1h-1zM499 781h1v1h-1zM493 782h1v1h-1zM487 783h1v1h-1zM482 784h1v1h-1zM476 785h1v1h-1zM471 785h1v1h-1zM465 786h1v1h-1zM460 786h1v1h-1zM454 787h1v1h-1zM448 787h1v1h-1zM443 787h1v1h-1zM437 787h1v1h-1zM431 787h1v1h-1zM426 787h1v1h-1zM420 787h1v1h-1zM415 787h1v1h-1zM409 786h1v1h-1zM403 786h1v1h-1zM398 785h1v1h-1zM392 785h1v1h-1zM387 784h1v1h-1zM381 783h1v1h-1zM375 782h1v1h-1zM370 781h1v1h-1zM364 780h1v1h-1zM359 778h1v1h-1zM354 777h1v1h-1zM348 775h1v1h-1zM343 774h1v1h-1zM337 772h1v1h-1zM332 770h1v1h-1zM327 769h1v1h-1zM321 767h1v1h-1zM316 765h1v1h-1zM311 763h1v1h-1zM306 760h1v1h-1zM301 758h1v1h-1zM295 756h1v1h-1zM290 753h1v1h-1zM285 751h1v1h-1zM280 748h1v1h-1zM276 745h1v1h-1zM271 742h1v1h-1zM266 739h1v1h-1zM261 736h1v1h-1zM256 733h1v1h-1zM252 730h1v1h-1zM247 727h1v1h-1zM243 724h1v1h-1zM238 720h1v1h-1zM234 717h1v1h-1zM229 713h1v1h-1zM225 710h1v1h-1zM221 706h1v1h-1zM217 702h1v1h-1zM212 698h1v1h-1zM208 694h1v1h-1zM204 690h1v1h-1zM201 686h1v1h-1zM197 682h1v1h-1zM193 678h1v1h-1zM189 674h1v1h-1zM186 669h1v1h-1zM182 665h1v1h-1zM179 661h1v1h-1zM175 656h1v1h-1zM172 651h1v1h-1zM169 647h1v1h-1zM166 642h1v1h-1zM163 637h1v1h-1zM160 633h1v1h-1zM157 628h1v1h-1zM154 623h1v1h-1zM151 618h1v1h-1zM149 613h1v1h-1zM146 608h1v1h-1zM144 603h1v1h-1zM141 598h1v1h-1zM139 593h1v1h-1zM137 588h1v1h-1zM135 582h1v1h-1zM133 577h1v1h-1zM131 572h1v1h-1zM129 566h1v1h-1zM127 561h1v1h-1zM126 556h1v1h-1zM124 550h1v1h-1zM123 545h1v1h-1zM121 539h1v1h-1zM120 534h1v1h-1zM119 528h1v1h-1zM118 523h1v1h-1zM117 517h1v1h-1zM116 512h1v1h-1zM115 506h1v1h-1zM115 501h1v1h-1zM114 495h1v1h-1zM114 489h1v1h-1zM113 484h1v1h-1zM113 478h1v1h-1zM113 472h1v1h-1zM113 467h1v1h-1zM113 461h1v1h-1zM113 456h1v1h-1zM113 450h1v1h-1zM113 444h1v1h-1zM114 439h1v1h-1zM114 433h1v1h-1zM115 428h1v1h-1zM115 422h1v1h-1zM116 416h1v1h-1zM117 411h1v1h-1zM118 405h1v1h-1zM119 400h1v1h-1zM120 394h1v1h-1zM122 389h1v1h-1zM123 383h1v1h-1zM125 378h1v1h-1zM126 372h1v1h-1zM128 367h1v1h-1zM130 362h1v1h-1zM131 356h1v1h-1zM133 351h1v1h-1zM135 346h1v1h-1zM137 341h1v1h-1zM140 336h1v1h-1zM142 330h1v1h-1zM144 325h1v1h-1zM147 320h1v1h-1zM149 315h1v1h-1zM152 310h1v1h-1zM155 305h1v1h-1zM158 300h1v1h-1zM161 296h1v1h-1zM164 291h1v1h-1zM167 286h1v1h-1zM170 282h1v1h-1zM173 277h1v1h-1zM176 272h1v1h-1zM180 268h1v1h-1zM183 263h1v1h-1zM187 259h1v1h-1zM190 255h1v1h-1zM194 251h1v1h-1zM198 246h1v1h-1zM202 242h1v1h-1zM206 238h1v1h-1zM210 234h1v1h-1zM214 230h1v1h-1zM218 227h1v1h-1zM222 223h1v1h-1zM226 219h1v1h-1zM231 216h1v1h-1zM235 212h1v1h-1zM239 209h1v1h-1zM244 205h1v1h-1zM249 202h1v1h-1zM253 199h1v1h-1zM258 196h1v1h-1zM263 192h1v1h-1zM267 189h1v1h-1zM272 187h1v1h-1zM277 184h1v1h-1zM282 181h1v1h-1zM287 178h1v1h-1zM292 176h1v1h-1zM297 173h1v1h-1zM302 171h1v1h-1zM307 169h1v1h-1zM312 167h1v1h-1zM318 165h1v1h-1zM323 163h1v1h-1zM328 161h1v1h-1zM334 159h1v1h-1zM339 157h1v1h-1zM344 155h1v1h-1zM350 154h1v1h-1zM355 152h1v1h-1zM361 151h1v1h-1zM366 150h1v1h-1zM372 149h1v1h-1zM377 148h1v1h-1zM383 147h1v1h-1zM388 146h1v1h-1zM394 145h1v1h-1zM399 144h1v1h-1zM405 144h1v1h-1zM411 143h1v1h-1zM416 143h1v1h-1zM422 143h1v1h-1zM428 142h1v1h-1zM433 142h1v1h-1zM439 142h1v1h-1zM444 143h1v1h-1zM450 143h1v1h-1zM456 143h1v1h-1zM461 143h1v1h-1zM467 144h1v1h-1zM472 145h1v1h-1zM478 145h1v1h-1zM484 146h1v1h-1zM489 147h1v1h-1zM495 148h1v1h-1zM500 149h1v1h-1zM506 150h1v1h-1zM511 152h1v1h-1zM517 153h1v1h-1zM522 154h1v1h-1zM528 156h1v1h-1zM533 158h1v1h-1zM538 159h1v1h-1zM544 161h1v1h-1zM549 163h1v1h-1zM554 165h1v1h-1zM559 167h1v1h-1zM564 169h1v1h-1zM570 172h1v1h-1zM575 174h1v1h-1zM580 177h1v1h-1zM585 179h1v1h-1zM590 182h1v1h-1zM595 185h1v1h-1zM600 187h1v1h-1zM604 190h1v1h-1zM609 193h1v1h-1zM614 196h1v1h-1zM618 200h1v1h-1zM623 203h1v1h-1zM628 206h1v1h-1zM632 210h1v1h-1zM637 213h1v1h-1zM641 217h1v1h-1zM645 220h1v1h-1zM649 224h1v1h-1zM654 228h1v1h-1zM658 232h1v1h-1zM662 235h1v1h-1zM666 239h1v1h-1zM670 244h1v1h-1zM673 248h1v1h-1zM677 252h1v1h-1zM681 256h1v1h-1zM684 260h1v1h-1zM688 265h1v1h-1zM691 269h1v1h-1zM695 274h1v1h-1zM698 278h1v1h-1zM701 283h1v1h-1zM704 288h1v1h-1zM708 292h1v1h-1zM711 297h1v1h-1zM713 302h1v1h-1zM716 307h1v1h-1zM719 312h1v1h-1zM722 317h1v1h-1zM724 322h1v1h-1zM727 327h1v1h-1zM729 332h1v1h-1zM731 337h1v1h-1zM733 342h1v1h-1zM735 347h1v1h-1zM737 353h1v1h-1zM739 358h1v1h-1zM741 363h1v1h-1zM743 369h1v1h-1zM745 374h1v1h-1zM746 380h1v1h-1zM748 385h1v1h-1zM749 390h1v1h-1zM750 396h1v1h-1zM751 401h1v1h-1zM752 407h1v1h-1zM753 413h1v1h-1zM754 418h1v1h-1zM755 424h1v1h-1zM756 429h1v1h-1zM756 435h1v1h-1zM757 440h1v1h-1zM757 446h1v1h-1zM757 452h1v1h-1zM758 457h1v1h-1zM706 463h1v1h-1zM706 468h1v1h-1zM706 473h1v1h-1zM705 477h1v1h-1zM705 482h1v1h-1zM705 487h1v1h-1zM704 492h1v1h-1zM704 496h1v1h-1zM703 501h1v1h-1zM703 506h1v1h-1zM702 510h1v1h-1zM701 515h1v1h-1zM700 520h1v1h-1zM699 524h1v1h-1zM698 529h1v1h-1zM697 533h1v1h-1zM696 538h1v1h-1zM694 542h1v1h-1zM693 547h1v1h-1zM692 551h1v1h-1zM690 556h1v1h-1zM688 560h1v1h-1zM687 565h1v1h-1zM685 569h1v1h-1zM683 573h1v1h-1zM681 578h1v1h-1zM679 582h1v1h-1zM677 586h1v1h-1zM675 590h1v1h-1zM673 595h1v1h-1zM670 599h1v1h-1zM668 603h1v1h-1zM665 607h1v1h-1zM663 611h1v1h-1zM660 615h1v1h-1zM658 619h1v1h-1zM655 623h1v1h-1zM652 626h1v1h-1zM649 630h1v1h-1zM646 634h1v1h-1zM643 638h1v1h-1zM640 641h1v1h-1zM637 645h1v1h-1zM634 648h1v1h-1zM631 652h1v1h-1zM628 655h1v1h-1zM624 658h1v1h-1zM621 662h1v1h-1zM617 665h1v1h-1zM614 668h1v1h-1zM610 671h1v1h-1zM607 674h1v1h-1zM603 677h1v1h-1zM599 680h1v1h-1zM595 683h1v1h-1zM592 686h1v1h-1zM588 688h1v1h-1zM584 691h1v1h-1zM580 694h1v1h-1zM576 696h1v1h-1zM572 698h1v1h-1zM568 701h1v1h-1zM564 703h1v1h-1zM559 705h1v1h-1zM555 707h1v1h-1zM551 709h1v1h-1zM547 711h1v1h-1zM542 713h1v1h-1zM538 715h1v1h-1zM534 717h1v1h-1zM529 719h1v1h-1zM525 720h1v1h-1zM520 722h1v1h-1zM516 723h1v1h-1zM511 725h1v1h-1zM507 726h1v1h-1zM502 727h1v1h-1zM498 728h1v1h-1zM493 729h1v1h-1zM488 730h1v1h-1zM484 731h1v1h-1zM479 732h1v1h-1zM474 733h1v1h-1zM470 733h1v1h-1zM465 734h1v1h-1zM460 734h1v1h-1zM456 735h1v1h-1zM451 735h1v1h-1zM446 735h1v1h-1zM441 735h1v1h-1zM437 736h1v1h-1zM432 735h1v1h-1zM427 735h1v1h-1zM423 735h1v1h-1zM418 735h1v1h-1zM413 735h1v1h-1zM408 734h1v1h-1zM404 734h1v1h-1zM399 733h1v1h-1zM394 732h1v1h-1zM390 732h1v1h-1zM385 731h1v1h-1zM380 730h1v1h-1zM376 729h1v1h-1zM371 728h1v1h-1zM367 727h1v1h-1zM362 725h1v1h-1zM358 724h1v1h-1zM353 723h1v1h-1zM349 721h1v1h-1zM344 720h1v1h-1zM340 718h1v1h-1zM335 716h1v1h-1zM331 715h1v1h-1zM327 713h1v1h-1zM322 711h1v1h-1zM318 709h1v1h-1zM314 707h1v1h-1zM310 705h1v1h-1zM305 702h1v1h-1zM301 700h1v1h-1zM297 698h1v1h-1zM293 695h1v1h-1zM289 693h1v1h-1zM285 690h1v1h-1zM281 688h1v1h-1zM277 685h1v1h-1zM274 682h1v1h-1zM270 679h1v1h-1zM266 676h1v1h-1zM262 673h1v1h-1zM259 670h1v1h-1zM255 667h1v1h-1zM252 664h1v1h-1zM248 661h1v1h-1zM245 657h1v1h-1zM242 654h1v1h-1zM238 651h1v1h-1zM235 647h1v1h-1zM232 644h1v1h-1zM229 640h1v1h-1zM226 636h1v1h-1zM223 633h1v1h-1zM220 629h1v1h-1zM217 625h1v1h-1zM214 621h1v1h-1zM212 618h1v1h-1zM209 614h1v1h-1zM206 610h1v1h-1zM204 606h1v1h-1zM202 602h1v1h-1zM199 598h1v1h-1zM197 593h1v1h-1zM195 589h1v1h-1zM193 585h1v1h-1zM191 581h1v1h-1zM189 576h1v1h-1zM187 572h1v1h-1zM185 568h1v1h-1zM183 563h1v1h-1zM181 559h1v1h-1zM180 555h1v1h-1zM178 550h1v1h-1zM177 546h1v1h-1zM175 541h1v1h-1zM174 537h1v1h-1zM173 532h1v1h-1zM172 527h1v1h-1zM171 523h1v1h-1zM170 518h1v1h-1zM169 514h1v1h-1zM168 509h1v1h-1zM167 504h1v1h-1zM167 500h1v1h-1zM166 495h1v1h-1zM166 490h1v1h-1zM165 485h1v1h-1zM165 481h1v1h-1zM165 476h1v1h-1zM165 471h1v1h-1zM164 467h1v1h-1zM165 462h1v1h-1zM165 457h1v1h-1zM165 452h1v1h-1zM165 448h1v1h-1zM165 443h1v1h-1zM166 438h1v1h-1zM166 434h1v1h-1zM167 429h1v1h-1zM168 424h1v1h-1zM168 420h1v1h-1zM169 415h1v1h-1zM170 410h1v1h-1zM171 406h1v1h-1zM172 401h1v1h-1zM173 396h1v1h-1zM175 392h1v1h-1zM176 387h1v1h-1zM177 383h1v1h-1zM179 378h1v1h-1zM180 374h1v1h-1zM182 369h1v1h-1zM184 365h1v1h-1zM185 361h1v1h-1zM187 356h1v1h-1zM189 352h1v1h-1zM191 348h1v1h-1zM193 344h1v1h-1zM195 339h1v1h-1zM198 335h1v1h-1zM200 331h1v1h-1zM202 327h1v1h-1zM205 323h1v1h-1zM207 319h1v1h-1zM210 315h1v1h-1zM212 311h1v1h-1zM215 307h1v1h-1zM218 303h1v1h-1zM221 300h1v1h-1zM224 296h1v1h-1zM227 292h1v1h-1zM230 289h1v1h-1zM233 285h1v1h-1zM236 282h1v1h-1zM239 278h1v1h-1zM243 275h1v1h-1zM246 271h1v1h-1zM249 268h1v1h-1zM253 265h1v1h-1zM256 262h1v1h-1zM260 259h1v1h-1zM264 256h1v1h-1zM267 253h1v1h-1zM271 250h1v1h-1zM275 247h1v1h-1zM279 244h1v1h-1zM282 241h1v1h-1zM286 239h1v1h-1zM290 236h1v1h-1zM294 234h1v1h-1zM298 231h1v1h-1zM302 229h1v1h-1zM307 227h1v1h-1zM311 225h1v1h-1zM315 222h1v1h-1zM319 220h1v1h-1zM324 218h1v1h-1zM328 216h1v1h-1zM332 215h1v1h-1zM337 213h1v1h-1zM341 211h1v1h-1zM345 210h1v1h-1zM350 208h1v1h-1zM354 207h1v1h-1zM359 205h1v1h-1zM363 204h1v1h-1zM368 203h1v1h-1zM373 202h1v1h-1zM377 201h1v1h-1zM382 200h1v1h-1zM386 199h1v1h-1zM391 198h1v1h-1zM396 197h1v1h-1zM400 197h1v1h-1zM405 196h1v1h-1zM410 195h1v1h-1zM415 195h1v1h-1zM419 195h1v1h-1zM424 195h1v1h-1zM429 194h1v1h-1zM433 194h1v1h-1zM438 194h1v1h-1zM443 194h1v1h-1zM448 195h1v1h-1zM452 195h1v1h-1zM457 195h1v1h-1zM462 196h1v1h-1zM466 196h1v1h-1zM471 197h1v1h-1zM476 197h1v1h-1zM480 198h1v1h-1zM485 199h1v1h-1zM490 200h1v1h-1zM494 201h1v1h-1zM499 202h1v1h-1zM504 203h1v1h-1zM508 204h1v1h-1zM513 206h1v1h-1zM517 207h1v1h-1zM522 208h1v1h-1zM526 210h1v1h-1zM531 212h1v1h-1zM535 213h1v1h-1zM539 215h1v1h-1zM544 217h1v1h-1zM548 219h1v1h-1zM552 221h1v1h-1zM556 223h1v1h-1zM561 225h1v1h-1zM565 227h1v1h-1zM569 230h1v1h-1zM573 232h1v1h-1zM577 235h1v1h-1zM581 237h1v1h-1zM585 240h1v1h-1zM589 242h1v1h-1zM593 245h1v1h-1zM597 248h1v1h-1zM600 251h1v1h-1zM604 254h1v1h-1zM608 257h1v1h-1zM611 260h1v1h-1zM615 263h1v1h-1zM618 266h1v1h-1zM622 269h1v1h-1zM625 272h1v1h-1zM629 276h1v1h-1zM632 279h1v1h-1zM635 283h1v1h-1zM638 286h1v1h-1zM641 290h1v1h-1zM644 293h1v1h-1zM647 297h1v1h-1zM650 301h1v1h-1zM653 305h1v1h-1zM656 308h1v1h-1zM659 312h1v1h-1zM661 316h1v1h-1zM664 320h1v1h-1zM666 324h1v1h-1zM669 328h1v1h-1zM671 332h1v1h-1zM673 336h1v1h-1zM675 341h1v1h-1zM678 345h1v1h-1zM680 349h1v1h-1zM682 353h1v1h-1zM684 358h1v1h-1zM685 362h1v1h-1zM687 366h1v1h-1zM689 371h1v1h-1zM690 375h1v1h-1zM692 380h1v1h-1zM693 384h1v1h-1zM695 389h1v1h-1zM696 393h1v1h-1zM697 398h1v1h-1zM698 402h1v1h-1zM699 407h1v1h-1zM700 412h1v1h-1zM701 416h1v1h-1zM702 421h1v1h-1zM703 426h1v1h-1zM703 430h1v1h-1zM704 435h1v1h-1zM705 440h1v1h-1zM705 444h1v1h-1zM705 449h1v1h-1zM705 454h1v1h-1zM706 459h1v1h-1zM646 464h1v1h-1zM646 467h1v1h-1zM646 471h1v1h-1zM645 475h1v1h-1zM645 478h1v1h-1zM645 482h1v1h-1zM645 486h1v1h-1zM644 489h1v1h-1zM644 493h1v1h-1zM643 497h1v1h-1zM643 500h1v1h-1zM642 504h1v1h-1zM641 507h1v1h-1zM640 511h1v1h-1zM640 515h1v1h-1zM639 518h1v1h-1zM638 522h1v1h-1zM637 525h1v1h-1zM636 529h1v1h-1zM635 532h1v1h-1zM633 536h1v1h-1zM632 539h1v1h-1zM631 543h1v1h-1zM629 546h1v1h-1zM628 549h1v1h-1zM626 553h1v1h-1zM625 556h1v1h-1zM623 559h1v1h-1zM622 563h1v1h-1zM620 566h1v1h-1zM618 569h1v1h-1zM616 572h1v1h-1zM614 575h1v1h-1zM612 578h1v1h-1zM610 582h1v1h-1zM608 585h1v1h-1zM606 588h1v1h-1zM604 591h1v1h-1zM602 593h1v1h-1zM599 596h1v1h-1zM597 599h1v1h-1zM595 602h1v1h-1zM592 605h1v1h-1zM590 608h1v1h-1zM587 610h1v1h-1zM585 613h1v1h-1zM582 615h1v1h-1zM580 618h1v1h-1zM577 620h1v1h-1zM574 623h1v1h-1zM571 625h1v1h-1zM569 628h1v1h-1zM566 630h1v1h-1zM563 632h1v1h-1zM560 634h1v1h-1zM557 637h1v1h-1zM554 639h1v1h-1zM551 641h1v1h-1zM548 643h1v1h-1zM545 645h1v1h-1zM541 647h1v1h-1zM538 648h1v1h-1zM535 650h1v1h-1zM532 652h1v1h-1zM529 654h1v1h-1zM525 655h1v1h-1zM522 657h1v1h-1zM519 658h1v1h-1zM515 660h1v1h-1zM512 661h1v1h-1zM508 662h1v1h-1zM505 664h1v1h-1zM501 665h1v1h-1zM498 666h1v1h-1zM494 667h1v1h-1zM491 668h1v1h-1zM487 669h1v1h-1zM484 670h1v1h-1zM480 671h1v1h-1zM477 671h1v1h-1zM473 672h1v1h-1zM469 673h1v1h-1zM466 673h1v1h-1zM462 674h1v1h-1zM458 674h1v1h-1zM455 674h1v1h-1zM451 675h1v1h-1zM447 675h1v1h-1zM444 675h1v1h-1zM440 675h1v1h-1zM436 675h1v1h-1zM433 675h1v1h-1zM429 675h1v1h-1zM425 675h1v1h-1zM422 675h1v1h-1zM418 675h1v1h-1zM414 674h1v1h-1zM411 674h1v1h-1zM407 674h1v1h-1zM403 673h1v1h-1zM400 672h1v1h-1zM396 672h1v1h-1zM393 671h1v1h-1zM389 670h1v1h-1zM385 669h1v1h-1zM382 669h1v1h-1zM378 668h1v1h-1zM375 667h1v1h-1zM371 665h1v1h-1zM368 664h1v1h-1zM364 663h1v1h-1zM361 662h1v1h-1zM357 661h1v1h-1zM354 659h1v1h-1zM351 658h1v1h-1zM347 656h1v1h-1zM344 655h1v1h-1zM341 653h1v1h-1zM337 651h1v1h-1zM334 650h1v1h-1zM331 648h1v1h-1zM328 646h1v1h-1zM325 644h1v1h-1zM322 642h1v1h-1zM318 640h1v1h-1zM315 638h1v1h-1zM312 636h1v1h-1zM309 634h1v1h-1zM307 632h1v1h-1zM304 629h1v1h-1zM301 627h1v1h-1zM298 625h1v1h-1zM295 622h1v1h-1zM292 620h1v1h-1zM290 617h1v1h-1zM287 615h1v1h-1zM285 612h1v1h-1zM282 609h1v1h-1zM280 607h1v1h-1zM277 604h1v1h-1zM275 601h1v1h-1zM272 598h1v1h-1zM270 596h1v1h-1zM268 593h1v1h-1zM266 590h1v1h-1zM263 587h1v1h-1zM261 584h1v1h-1zM259 581h1v1h-1zM257 578h1v1h-1zM255 574h1v1h-1zM253 571h1v1h-1zM252 568h1v1h-1zM250 565h1v1h-1zM248 562h1v1h-1zM246 558h1v1h-1zM245 555h1v1h-1zM243 552h1v1h-1zM242 548h1v1h-1zM240 545h1v1h-1zM239 542h1v1h-1zM238 538h1v1h-1zM236 535h1v1h-1zM235 531h1v1h-1zM234 528h1v1h-1zM233 524h1v1h-1zM232 521h1v1h-1zM231 517h1v1h-1zM230 514h1v1h-1zM229 510h1v1h-1zM229 506h1v1h-1zM228 503h1v1h-1zM227 499h1v1h-1zM227 495h1v1h-1zM226 492h1v1h-1zM226 488h1v1h-1zM226 485h1v1h-1zM225 481h1v1h-1zM225 477h1v1h-1zM225 474h1v1h-1zM225 470h1v1h-1zM225 466h1v1h-1zM225 463h1v1h-1zM225 459h1v1h-1zM225 455h1v1h-1zM225 451h1v1h-1zM225 448h1v1h-1zM226 444h1v1h-1zM226 441h1v1h-1zM226 437h1v1h-1zM227 433h1v1h-1zM228 430h1v1h-1zM228 426h1v1h-1zM229 422h1v1h-1zM230 419h1v1h-1zM231 415h1v1h-1zM231 412h1v1h-1zM232 408h1v1h-1zM233 405h1v1h-1zM235 401h1v1h-1zM236 398h1v1h-1zM237 394h1v1h-1zM238 391h1v1h-1zM239 387h1v1h-1zM241 384h1v1h-1zM242 380h1v1h-1zM244 377h1v1h-1zM245 374h1v1h-1zM247 370h1v1h-1zM249 367h1v1h-1zM250 364h1v1h-1zM252 361h1v1h-1zM254 358h1v1h-1zM256 354h1v1h-1zM258 351h1v1h-1zM260 348h1v1h-1zM262 345h1v1h-1zM264 342h1v1h-1zM266 339h1v1h-1zM268 336h1v1h-1zM271 333h1v1h-1zM273 331h1v1h-1zM275 328h1v1h-1zM278 325h1v1h-1zM280 322h1v1h-1zM283 320h1v1h-1zM285 317h1v1h-1zM288 314h1v1h-1zM291 312h1v1h-1zM293 309h1v1h-1zM296 307h1v1h-1zM299 304h1v1h-1zM302 302h1v1h-1zM304 300h1v1h-1zM307 298h1v1h-1zM310 295h1v1h-1zM313 293h1v1h-1zM316 291h1v1h-1zM319 289h1v1h-1zM322 287h1v1h-1zM326 285h1v1h-1zM329 283h1v1h-1zM332 281h1v1h-1zM335 280h1v1h-1zM338 278h1v1h-1zM342 276h1v1h-1zM345 275h1v1h-1zM348 273h1v1h-1zM352 272h1v1h-1zM355 270h1v1h-1zM358 269h1v1h-1zM362 268h1v1h-1zM365 266h1v1h-1zM369 265h1v1h-1zM372 264h1v1h-1zM376 263h1v1h-1zM379 262h1v1h-1zM383 261h1v1h-1zM386 260h1v1h-1zM390 259h1v1h-1zM394 259h1v1h-1zM397 258h1v1h-1zM401 257h1v1h-1zM405 257h1v1h-1zM408 256h1v1h-1zM412 256h1v1h-1zM415 255h1v1h-1zM419 255h1v1h-1zM423 255h1v1h-1zM426 255h1v1h-1zM430 254h1v1h-1zM434 254h1v1h-1zM437 254h1v1h-1zM441 254h1v1h-1zM445 255h1v1h-1zM449 255h1v1h-1zM452 255h1v1h-1zM456 255h1v1h-1zM459 256h1v1h-1zM463 256h1v1h-1zM467 257h1v1h-1zM470 257h1v1h-1zM474 258h1v1h-1zM478 259h1v1h-1zM481 260h1v1h-1zM485 260h1v1h-1zM488 261h1v1h-1zM492 262h1v1h-1zM495 263h1v1h-1zM499 264h1v1h-1zM502 265h1v1h-1zM506 267h1v1h-1zM509 268h1v1h-1zM513 269h1v1h-1zM516 271h1v1h-1zM520 272h1v1h-1zM523 274h1v1h-1zM526 275h1v1h-1zM530 277h1v1h-1zM533 278h1v1h-1zM536 280h1v1h-1zM539 282h1v1h-1zM542 284h1v1h-1zM546 286h1v1h-1zM549 288h1v1h-1zM552 290h1v1h-1zM555 292h1v1h-1zM558 294h1v1h-1zM561 296h1v1h-1zM564 298h1v1h-1zM567 301h1v1h-1zM569 303h1v1h-1zM572 305h1v1h-1zM575 308h1v1h-1zM578 310h1v1h-1zM580 313h1v1h-1zM583 315h1v1h-1zM586 318h1v1h-1zM588 320h1v1h-1zM591 323h1v1h-1zM593 326h1v1h-1zM596 329h1v1h-1zM598 331h1v1h-1zM600 334h1v1h-1zM602 337h1v1h-1zM605 340h1v1h-1zM607 343h1v1h-1zM609 346h1v1h-1zM611 349h1v1h-1zM613 352h1v1h-1zM615 355h1v1h-1zM617 359h1v1h-1zM619 362h1v1h-1zM620 365h1v1h-1zM622 368h1v1h-1zM624 371h1v1h-1zM625 375h1v1h-1zM627 378h1v1h-1zM628 381h1v1h-1zM630 385h1v1h-1zM631 388h1v1h-1zM632 392h1v1h-1zM634 395h1v1h-1zM635 399h1v1h-1zM636 402h1v1h-1zM637 406h1v1h-1zM638 409h1v1h-1zM639 413h1v1h-1zM640 416h1v1h-1zM641 420h1v1h-1zM641 423h1v1h-1zM642 427h1v1h-1zM643 431h1v1h-1zM643 434h1v1h-1zM644 438h1v1h-1zM644 442h1v1h-1zM645 445h1v1h-1zM645 449h1v1h-1zM645 453h1v1h-1zM645 456h1v1h-1zM646 460h1v1h-1zM579 464h1v1h-1zM579 467h1v1h-1zM579 469h1v1h-1zM579 472h1v1h-1zM579 474h1v1h-1zM579 477h1v1h-1zM578 479h1v1h-1zM578 482h1v1h-1zM578 484h1v1h-1zM577 487h1v1h-1zM577 489h1v1h-1zM577 492h1v1h-1zM576 494h1v1h-1zM576 496h1v1h-1zM575 499h1v1h-1zM574 501h1v1h-1zM574 504h1v1h-1zM573 506h1v1h-1zM572 509h1v1h-1zM572 511h1v1h-1zM571 513h1v1h-1zM570 516h1v1h-1zM569 518h1v1h-1zM568 520h1v1h-1zM567 523h1v1h-1zM566 525h1v1h-1zM565 527h1v1h-1zM564 529h1v1h-1zM563 532h1v1h-1zM561 534h1v1h-1zM560 536h1v1h-1zM559 538h1v1h-1zM558 540h1v1h-1zM556 543h1v1h-1zM555 545h1v1h-1zM554 547h1v1h-1zM552 549h1v1h-1zM551 551h1v1h-1zM549 553h1v1h-1zM548 555h1v1h-1zM546 557h1v1h-1zM544 559h1v1h-1zM543 561h1v1h-1zM541 562h1v1h-1zM539 564h1v1h-1zM538 566h1v1h-1zM536 568h1v1h-1zM534 570h1v1h-1zM532 571h1v1h-1zM530 573h1v1h-1zM528 575h1v1h-1zM526 576h1v1h-1zM524 578h1v1h-1zM522 579h1v1h-1zM520 581h1v1h-1zM518 582h1v1h-1zM516 584h1v1h-1zM514 585h1v1h-1zM512 587h1v1h-1zM510 588h1v1h-1zM508 589h1v1h-1zM506 590h1v1h-1zM503 592h1v1h-1zM501 593h1v1h-1zM499 594h1v1h-1zM497 595h1v1h-1zM494 596h1v1h-1zM492 597h1v1h-1zM490 598h1v1h-1zM488 599h1v1h-1zM485 600h1v1h-1zM483 601h1v1h-1zM480 602h1v1h-1zM478 602h1v1h-1zM476 603h1v1h-1zM473 604h1v1h-1zM471 604h1v1h-1zM468 605h1v1h-1zM466 606h1v1h-1zM463 606h1v1h-1zM461 607h1v1h-1zM458 607h1v1h-1zM456 607h1v1h-1zM454 608h1v1h-1zM451 608h1v1h-1zM449 608h1v1h-1zM446 608h1v1h-1zM444 609h1v1h-1zM441 609h1v1h-1zM438 609h1v1h-1zM436 609h1v1h-1zM433 609h1v1h-1zM431 609h1v1h-1zM428 609h1v1h-1zM426 609h1v1h-1zM423 608h1v1h-1zM421 608h1v1h-1zM418 608h1v1h-1zM416 608h1v1h-1zM413 607h1v1h-1zM411 607h1v1h-1zM408 606h1v1h-1zM406 606h1v1h-1zM404 605h1v1h-1zM401 605h1v1h-1zM399 604h1v1h-1zM396 604h1v1h-1zM394 603h1v1h-1zM391 602h1v1h-1zM389 601h1v1h-1zM387 601h1v1h-1zM384 600h1v1h-1zM382 599h1v1h-1zM380 598h1v1h-1zM377 597h1v1h-1zM375 596h1v1h-1zM373 595h1v1h-1zM371 594h1v1h-1zM368 592h1v1h-1zM366 591h1v1h-1zM364 590h1v1h-1zM362 589h1v1h-1zM360 587h1v1h-1zM357 586h1v1h-1zM355 585h1v1h-1zM353 583h1v1h-1zM351 582h1v1h-1zM349 580h1v1h-1zM347 579h1v1h-1zM345 577h1v1h-1zM343 576h1v1h-1zM341 574h1v1h-1zM339 572h1v1h-1zM338 571h1v1h-1zM336 569h1v1h-1zM334 567h1v1h-1zM332 566h1v1h-1zM330 564h1v1h-1zM329 562h1v1h-1zM327 560h1v1h-1zM325 558h1v1h-1zM324 556h1v1h-1zM322 554h1v1h-1zM321 552h1v1h-1zM319 550h1v1h-1zM318 548h1v1h-1zM316 546h1v1h-1zM315 544h1v1h-1zM313 542h1v1h-1zM312 540h1v1h-1zM311 538h1v1h-1zM310 535h1v1h-1zM308 533h1v1h-1zM307 531h1v1h-1zM306 529h1v1h-1zM305 527h1v1h-1zM304 524h1v1h-1zM303 522h1v1h-1zM302 520h1v1h-1zM301 517h1v1h-1zM300 515h1v1h-1zM299 513h1v1h-1zM298 510h1v1h-1zM298 508h1v1h-1zM297 505h1v1h-1zM296 503h1v1h-1zM296 501h1v1h-1zM295 498h1v1h-1zM294 496h1v1h-1zM294 493h1v1h-1zM293 491h1v1h-1zM293 488h1v1h-1zM293 486h1v1h-1zM292 483h1v1h-1zM292 481h1v1h-1zM292 478h1v1h-1zM292 476h1v1h-1zM291 473h1v1h-1zM291 471h1v1h-1zM291 468h1v1h-1zM291 466h1v1h-1zM291 463h1v1h-1zM291 461h1v1h-1zM291 458h1v1h-1zM291 456h1v1h-1zM292 453h1v1h-1zM292 451h1v1h-1zM292 448h1v1h-1zM292 446h1v1h-1zM293 443h1v1h-1zM293 441h1v1h-1zM294 438h1v1h-1zM294 436h1v1h-1zM295 433h1v1h-1zM295 431h1v1h-1zM296 428h1v1h-1zM296 426h1v1h-1zM297 424h1v1h-1zM298 421h1v1h-1zM299 419h1v1h-1zM299 416h1v1h-1zM300 414h1v1h-1zM301 412h1v1h-1zM302 409h1v1h-1zM303 407h1v1h-1zM304 405h1v1h-1zM305 403h1v1h-1zM306 400h1v1h-1zM308 398h1v1h-1zM309 396h1v1h-1zM310 394h1v1h-1zM311 391h1v1h-1zM313 389h1v1h-1zM314 387h1v1h-1zM315 385h1v1h-1zM317 383h1v1h-1zM318 381h1v1h-1zM320 379h1v1h-1zM321 377h1v1h-1zM323 375h1v1h-1zM324 373h1v1h-1zM326 371h1v1h-1zM328 369h1v1h-1zM329 367h1v1h-1zM331 366h1v1h-1zM333 364h1v1h-1zM334 362h1v1h-1zM336 360h1v1h-1zM338 358h1v1h-1zM340 357h1v1h-1zM342 355h1v1h-1zM344 354h1v1h-1zM346 352h1v1h-1zM348 350h1v1h-1zM350 349h1v1h-1zM352 347h1v1h-1zM354 346h1v1h-1zM356 345h1v1h-1zM358 343h1v1h-1zM360 342h1v1h-1zM362 341h1v1h-1zM365 339h1v1h-1zM367 338h1v1h-1zM369 337h1v1h-1zM371 336h1v1h-1zM373 335h1v1h-1zM376 334h1v1h-1zM378 333h1v1h-1zM380 332h1v1h-1zM383 331h1v1h-1zM385 330h1v1h-1zM387 329h1v1h-1zM390 328h1v1h-1zM392 327h1v1h-1zM395 327h1v1h-1zM397 326h1v1h-1zM399 325h1v1h-1zM402 325h1v1h-1zM404 324h1v1h-1zM407 324h1v1h-1zM409 323h1v1h-1zM412 323h1v1h-1zM414 322h1v1h-1zM417 322h1v1h-1zM419 322h1v1h-1zM422 322h1v1h-1zM424 321h1v1h-1zM427 321h1v1h-1zM429 321h1v1h-1zM432 321h1v1h-1zM434 321h1v1h-1zM437 321h1v1h-1zM439 321h1v1h-1zM442 321h1v1h-1zM444 321h1v1h-1zM447 321h1v1h-1zM449 322h1v1h-1zM452 322h1v1h-1zM454 322h1v1h-1zM457 323h1v1h-1zM459 323h1v1h-1zM462 323h1v1h-1zM464 324h1v1h-1zM467 324h1v1h-1zM469 325h1v1h-1zM472 326h1v1h-1zM474 326h1v1h-1zM476 327h1v1h-1zM479 328h1v1h-1zM481 328h1v1h-1zM484 329h1v1h-1zM486 330h1v1h-1zM488 331h1v1h-1zM491 332h1v1h-1zM493 333h1v1h-1zM495 334h1v1h-1zM497 335h1v1h-1zM500 336h1v1h-1zM502 337h1v1h-1zM504 339h1v1h-1zM506 340h1v1h-1zM509 341h1v1h-1zM511 342h1v1h-1zM513 344h1v1h-1zM515 345h1v1h-1zM517 346h1v1h-1zM519 348h1v1h-1zM521 349h1v1h-1zM523 351h1v1h-1zM525 352h1v1h-1zM527 354h1v1h-1zM529 356h1v1h-1zM531 357h1v1h-1zM533 359h1v1h-1zM534 361h1v1h-1zM536 362h1v1h-1zM538 364h1v1h-1zM540 366h1v1h-1zM542 368h1v1h-1zM543 370h1v1h-1zM545 372h1v1h-1zM546 374h1v1h-1zM548 376h1v1h-1zM550 378h1v1h-1zM551 380h1v1h-1zM553 382h1v1h-1zM554 384h1v1h-1zM555 386h1v1h-1zM557 388h1v1h-1zM558 390h1v1h-1zM559 392h1v1h-1zM561 394h1v1h-1zM562 397h1v1h-1zM563 399h1v1h-1zM564 401h1v1h-1zM565 403h1v1h-1zM566 406h1v1h-1zM567 408h1v1h-1zM568 410h1v1h-1zM569 412h1v1h-1zM570 415h1v1h-1zM571 417h1v1h-1zM572 420h1v1h-1zM573 422h1v1h-1zM573 424h1v1h-1zM574 427h1v1h-1zM575 429h1v1h-1zM575 432h1v1h-1zM576 434h1v1h-1zM576 437h1v1h-1zM577 439h1v1h-1zM577 442h1v1h-1zM578 444h1v1h-1zM578 446h1v1h-1zM578 449h1v1h-1zM578 451h1v1h-1zM579 454h1v1h-1zM579 456h1v1h-1zM579 459h1v1h-1zM579 462h1v1h-1zM508 464h1v1h-1zM508 466h1v1h-1zM508 467h1v1h-1zM508 468h1v1h-1zM508 470h1v1h-1zM508 471h1v1h-1zM508 472h1v1h-1zM508 473h1v1h-1zM508 475h1v1h-1zM507 476h1v1h-1zM507 477h1v1h-1zM507 478h1v1h-1zM507 480h1v1h-1zM506 481h1v1h-1zM506 482h1v1h-1zM506 483h1v1h-1zM505 485h1v1h-1zM505 486h1v1h-1zM505 487h1v1h-1zM504 488h1v1h-1zM504 489h1v1h-1zM504 491h1v1h-1zM503 492h1v1h-1zM503 493h1v1h-1zM502 494h1v1h-1zM502 495h1v1h-1zM501 497h1v1h-1zM500 498h1v1h-1zM500 499h1v1h-1zM499 500h1v1h-1zM499 501h1v1h-1zM498 502h1v1h-1zM497 503h1v1h-1zM497 504h1v1h-1zM496 505h1v1h-1zM495 506h1v1h-1zM495 508h1v1h-1zM494 509h1v1h-1zM493 510h1v1h-1zM492 511h1v1h-1zM491 512h1v1h-1zM491 513h1v1h-1zM490 513h1v1h-1zM489 514h1v1h-1zM488 515h1v1h-1zM487 516h1v1h-1zM486 517h1v1h-1zM485 518h1v1h-1zM484 519h1v1h-1zM483 520h1v1h-1zM482 521h1v1h-1zM481 521h1v1h-1zM480 522h1v1h-1zM479 523h1v1h-1zM478 524h1v1h-1zM477 525h1v1h-1zM476 525h1v1h-1zM475 526h1v1h-1zM474 527h1v1h-1zM473 527h1v1h-1zM472 528h1v1h-1zM471 529h1v1h-1zM470 529h1v1h-1zM469 530h1v1h-1zM468 530h1v1h-1zM466 531h1v1h-1zM465 532h1v1h-1zM464 532h1v1h-1zM463 533h1v1h-1zM462 533h1v1h-1zM461 533h1v1h-1zM459 534h1v1h-1zM458 534h1v1h-1zM457 535h1v1h-1zM456 535h1v1h-1zM454 535h1v1h-1zM453 536h1v1h-1zM452 536h1v1h-1zM451 536h1v1h-1zM449 537h1v1h-1zM448 537h1v1h-1zM447 537h1v1h-1zM446 537h1v1h-1zM444 537h1v1h-1zM443 538h1v1h-1zM442 538h1v1h-1zM441 538h1v1h-1zM439 538h1v1h-1zM438 538h1v1h-1zM437 538h1v1h-1zM436 538h1v1h-1zM434 538h1v1h-1zM433 538h1v1h-1zM432 538h1v1h-1zM430 538h1v1h-1zM429 538h1v1h-1zM428 538h1v1h-1zM427 538h1v1h-1zM425 537h1v1h-1zM424 537h1v1h-1zM423 537h1v1h-1zM422 537h1v1h-1zM420 536h1v1h-1zM419 536h1v1h-1zM418 536h1v1h-1zM417 536h1v1h-1zM415 535h1v1h-1zM414 535h1v1h-1zM413 535h1v1h-1zM412 534h1v1h-1zM411 534h1v1h-1zM409 533h1v1h-1zM408 533h1v1h-1zM407 532h1v1h-1zM406 532h1v1h-1zM405 531h1v1h-1zM403 531h1v1h-1zM402 530h1v1h-1zM401 530h1v1h-1zM400 529h1v1h-1zM399 528h1v1h-1zM398 528h1v1h-1zM397 527h1v1h-1zM396 526h1v1h-1zM395 526h1v1h-1zM394 525h1v1h-1zM392 524h1v1h-1zM391 524h1v1h-1zM390 523h1v1h-1zM389 522h1v1h-1zM388 521h1v1h-1zM387 520h1v1h-1zM386 519h1v1h-1zM385 518h1v1h-1zM384 517h1v1h-1zM383 516h1v1h-1zM382 515h1v1h-1zM381 514h1v1h-1zM380 513h1v1h-1zM379 512h1v1h-1zM379 511h1v1h-1zM378 510h1v1h-1zM377 509h1v1h-1zM376 508h1v1h-1zM375 507h1v1h-1zM375 506h1v1h-1zM374 505h1v1h-1zM373 504h1v1h-1zM373 503h1v1h-1zM372 502h1v1h-1zM371 501h1v1h-1zM371 500h1v1h-1zM370 498h1v1h-1zM370 497h1v1h-1zM369 496h1v1h-1zM368 495h1v1h-1zM368 494h1v1h-1zM367 493h1v1h-1zM367 492h1v1h-1zM367 490h1v1h-1zM366 489h1v1h-1zM366 488h1v1h-1zM365 487h1v1h-1zM365 485h1v1h-1zM365 484h1v1h-1zM364 483h1v1h-1zM364 482h1v1h-1zM364 481h1v1h-1zM363 479h1v1h-1zM363 478h1v1h-1zM363 477h1v1h-1zM363 476h1v1h-1zM363 474h1v1h-1zM362 473h1v1h-1zM362 472h1v1h-1zM362 470h1v1h-1zM362 469h1v1h-1zM362 468h1v1h-1zM362 467h1v1h-1zM362 465h1v1h-1zM362 464h1v1h-1zM362 463h1v1h-1zM362 462h1v1h-1zM362 460h1v1h-1zM362 459h1v1h-1zM362 458h1v1h-1zM362 456h1v1h-1zM363 455h1v1h-1zM363 454h1v1h-1zM363 453h1v1h-1zM363 451h1v1h-1zM364 450h1v1h-1zM364 449h1v1h-1zM364 448h1v1h-1zM364 446h1v1h-1zM365 445h1v1h-1zM365 444h1v1h-1zM365 443h1v1h-1zM366 442h1v1h-1zM366 440h1v1h-1zM367 439h1v1h-1zM367 438h1v1h-1zM368 437h1v1h-1zM368 436h1v1h-1zM369 434h1v1h-1zM369 433h1v1h-1zM370 432h1v1h-1zM370 431h1v1h-1zM371 430h1v1h-1zM372 429h1v1h-1zM372 428h1v1h-1zM373 427h1v1h-1zM374 425h1v1h-1zM374 424h1v1h-1zM375 423h1v1h-1zM376 422h1v1h-1zM376 421h1v1h-1zM377 420h1v1h-1zM378 419h1v1h-1zM379 418h1v1h-1zM380 417h1v1h-1zM380 416h1v1h-1zM381 415h1v1h-1zM382 414h1v1h-1zM383 414h1v1h-1zM384 413h1v1h-1zM385 412h1v1h-1zM386 411h1v1h-1zM387 410h1v1h-1zM388 409h1v1h-1zM389 408h1v1h-1zM390 408h1v1h-1zM391 407h1v1h-1zM392 406h1v1h-1zM393 405h1v1h-1zM394 405h1v1h-1zM395 404h1v1h-1zM396 403h1v1h-1zM397 402h1v1h-1zM398 402h1v1h-1zM399 401h1v1h-1zM400 401h1v1h-1zM402 400h1v1h-1zM403 399h1v1h-1zM404 399h1v1h-1zM405 398h1v1h-1zM406 398h1v1h-1zM407 397h1v1h-1zM408 397h1v1h-1zM410 396h1v1h-1zM411 396h1v1h-1zM412 396h1v1h-1zM413 395h1v1h-1zM415 395h1v1h-1zM416 394h1v1h-1zM417 394h1v1h-1zM418 394h1v1h-1zM419 393h1v1h-1zM421 393h1v1h-1zM422 393h1v1h-1zM423 393h1v1h-1zM424 393h1v1h-1zM426 392h1v1h-1zM427 392h1v1h-1zM428 392h1v1h-1zM430 392h1v1h-1zM431 392h1v1h-1zM432 392h1v1h-1zM433 392h1v1h-1zM435 392h1v1h-1zM436 392h1v1h-1zM437 392h1v1h-1zM438 392h1v1h-1zM440 392h1v1h-1zM441 392h1v1h-1zM442 392h1v1h-1zM444 392h1v1h-1zM445 392h1v1h-1zM446 393h1v1h-1zM447 393h1v1h-1zM449 393h1v1h-1zM450 393h1v1h-1zM451 394h1v1h-1zM452 394h1v1h-1zM454 394h1v1h-1zM455 395h1v1h-1zM456 395h1v1h-1zM457 395h1v1h-1zM458 396h1v1h-1zM460 396h1v1h-1zM461 396h1v1h-1zM462 397h1v1h-1zM463 397h1v1h-1zM464 398h1v1h-1zM466 398h1v1h-1zM467 399h1v1h-1zM468 400h1v1h-1zM469 400h1v1h-1zM470 401h1v1h-1zM471 401h1v1h-1zM472 402h1v1h-1zM473 403h1v1h-1zM475 403h1v1h-1zM476 404h1v1h-1zM477 405h1v1h-1zM478 405h1v1h-1zM479 406h1v1h-1zM480 407h1v1h-1zM481 408h1v1h-1zM482 409h1v1h-1zM483 409h1v1h-1zM484 410h1v1h-1zM485 411h1v1h-1zM486 412h1v1h-1zM486 413h1v1h-1zM487 414h1v1h-1zM488 415h1v1h-1zM489 416h1v1h-1zM490 417h1v1h-1zM491 418h1v1h-1zM492 419h1v1h-1zM492 420h1v1h-1zM493 421h1v1h-1zM494 422h1v1h-1zM495 423h1v1h-1zM495 424h1v1h-1zM496 425h1v1h-1zM497 426h1v1h-1zM498 427h1v1h-1zM498 428h1v1h-1zM499 429h1v1h-1zM499 430h1v1h-1zM500 431h1v1h-1zM501 432h1v1h-1zM501 434h1v1h-1zM502 435h1v1h-1zM502 436h1v1h-1zM503 437h1v1h-1zM503 438h1v1h-1zM504 439h1v1h-1zM504 441h1v1h-1zM504 442h1v1h-1zM505 443h1v1h-1zM505 444h1v1h-1zM506 446h1v1h-1zM506 447h1v1h-1zM506 448h1v1h-1zM507 449h1v1h-1zM507 451h1v1h-1zM507 452h1v1h-1zM507 453h1v1h-1zM507 454h1v1h-1zM508 456h1v1h-1zM508 457h1v1h-1zM508 458h1v1h-1zM508 459h1v1h-1zM508 461h1v1h-1zM508 462h1v1h-1zM508 463h1v1h-1zM442 465h1v1h-1zM450 465h1v1h-1zM457 465h1v1h-1zM464 465h1v1h-1zM472 465h1v1h-1zM479 465h1v1h-1zM486 465h1v1h-1zM494 465h1v1h-1zM501 464h1v1h-1zM515 464h1v1h-1zM523 464h1v1h-1zM530 464h1v1h-1zM537 464h1v1h-1zM544 464h1v1h-1zM551 464h1v1h-1zM558 464h1v1h-1zM565 464h1v1h-1zM572 464h1v1h-1zM586 464h1v1h-1zM593 464h1v1h-1zM600 464h1v1h-1zM606 464h1v1h-1zM613 464h1v1h-1zM620 464h1v1h-1zM626 464h1v1h-1zM633 464h1v1h-1zM639 464h1v1h-1zM652 464h1v1h-1zM658 464h1v1h-1zM664 463h1v1h-1zM671 463h1v1h-1zM677 463h1v1h-1zM683 463h1v1h-1zM688 463h1v1h-1zM694 463h1v1h-1zM700 463h1v1h-1zM711 463h1v1h-1zM717 463h1v1h-1zM722 463h1v1h-1zM728 463h1v1h-1zM733 463h1v1h-1zM738 463h1v1h-1zM743 463h1v1h-1zM748 463h1v1h-1zM753 463h1v1h-1zM762 463h1v1h-1zM767 463h1v1h-1zM771 463h1v1h-1zM776 463h1v1h-1zM780 463h1v1h-1zM784 463h1v1h-1zM788 463h1v1h-1zM792 463h1v1h-1zM796 463h1v1h-1zM803 463h1v1h-1zM807 463h1v1h-1zM810 463h1v1h-1zM813 463h1v1h-1zM817 463h1v1h-1zM820 463h1v1h-1zM823 463h1v1h-1zM825 463h1v1h-1zM828 462h1v1h-1zM833 462h1v1h-1zM835 462h1v1h-1zM838 462h1v1h-1zM840 462h1v1h-1zM842 462h1v1h-1zM844 462h1v1h-1zM845 462h1v1h-1zM847 462h1v1h-1zM848 462h1v1h-1zM851 462h1v1h-1zM852 462h1v1h-1zM853 462h1v1h-1zM854 462h1v1h-1zM855 462h1v1h-1zM856 462h1v1h-1zM441 469h1v1h-1zM448 472h1v1h-1zM454 476h1v1h-1zM461 479h1v1h-1zM467 483h1v1h-1zM473 487h1v1h-1zM480 490h1v1h-1zM486 494h1v1h-1zM492 497h1v1h-1zM505 505h1v1h-1zM511 508h1v1h-1zM517 512h1v1h-1zM524 515h1v1h-1zM530 519h1v1h-1zM536 522h1v1h-1zM542 526h1v1h-1zM548 529h1v1h-1zM554 533h1v1h-1zM566 540h1v1h-1zM572 543h1v1h-1zM578 546h1v1h-1zM584 550h1v1h-1zM590 553h1v1h-1zM595 556h1v1h-1zM601 559h1v1h-1zM607 563h1v1h-1zM612 566h1v1h-1zM624 572h1v1h-1zM629 575h1v1h-1zM634 578h1v1h-1zM640 581h1v1h-1zM645 584h1v1h-1zM650 587h1v1h-1zM655 590h1v1h-1zM660 593h1v1h-1zM665 596h1v1h-1zM675 602h1v1h-1zM680 604h1v1h-1zM685 607h1v1h-1zM689 610h1v1h-1zM694 612h1v1h-1zM698 615h1v1h-1zM703 617h1v1h-1zM707 620h1v1h-1zM711 622h1v1h-1zM719 627h1v1h-1zM723 629h1v1h-1zM727 631h1v1h-1zM731 633h1v1h-1zM735 636h1v1h-1zM738 638h1v1h-1zM742 640h1v1h-1zM745 642h1v1h-1zM749 643h1v1h-1zM755 647h1v1h-1zM758 649h1v1h-1zM761 650h1v1h-1zM764 652h1v1h-1zM767 654h1v1h-1zM769 655h1v1h-1zM772 657h1v1h-1zM774 658h1v1h-1zM777 659h1v1h-1zM781 662h1v1h-1zM783 663h1v1h-1zM785 664h1v1h-1zM787 665h1v1h-1zM789 666h1v1h-1zM790 667h1v1h-1zM792 668h1v1h-1zM793 669h1v1h-1zM794 669h1v1h-1zM796 671h1v1h-1zM797 671h1v1h-1zM798 672h1v1h-1zM799 672h1v1h-1zM800 672h1v1h-1zM800 673h1v1h-1zM801 673h1v1h-1zM439 471h1v1h-1zM443 478h1v1h-1zM446 484h1v1h-1zM450 490h1v1h-1zM454 497h1v1h-1zM457 503h1v1h-1zM461 509h1v1h-1zM465 515h1v1h-1zM468 522h1v1h-1zM476 534h1v1h-1zM479 540h1v1h-1zM483 547h1v1h-1zM487 553h1v1h-1zM490 559h1v1h-1zM494 565h1v1h-1zM497 571h1v1h-1zM501 577h1v1h-1zM504 583h1v1h-1zM511 595h1v1h-1zM515 601h1v1h-1zM518 607h1v1h-1zM522 613h1v1h-1zM525 618h1v1h-1zM528 624h1v1h-1zM532 630h1v1h-1zM535 635h1v1h-1zM538 641h1v1h-1zM545 652h1v1h-1zM548 657h1v1h-1zM551 663h1v1h-1zM554 668h1v1h-1zM557 673h1v1h-1zM560 678h1v1h-1zM563 684h1v1h-1zM566 689h1v1h-1zM569 694h1v1h-1zM575 703h1v1h-1zM577 708h1v1h-1zM580 713h1v1h-1zM583 717h1v1h-1zM586 722h1v1h-1zM588 726h1v1h-1zM591 731h1v1h-1zM593 735h1v1h-1zM596 739h1v1h-1zM600 747h1v1h-1zM603 751h1v1h-1zM605 755h1v1h-1zM607 759h1v1h-1zM609 763h1v1h-1zM611 766h1v1h-1zM614 770h1v1h-1zM615 773h1v1h-1zM617 776h1v1h-1zM621 783h1v1h-1zM623 786h1v1h-1zM625 789h1v1h-1zM626 791h1v1h-1zM628 794h1v1h-1zM629 797h1v1h-1zM631 799h1v1h-1zM632 802h1v1h-1zM634 804h1v1h-1zM636 808h1v1h-1zM637 810h1v1h-1zM639 812h1v1h-1zM640 814h1v1h-1zM641 816h1v1h-1zM642 817h1v1h-1zM642 819h1v1h-1zM643 820h1v1h-1zM644 822h1v1h-1zM645 824h1v1h-1zM646 825h1v1h-1zM647 826h1v1h-1zM647 827h1v1h-1zM648 828h1v1h-1zM435 472h1v1h-1zM435 480h1v1h-1zM435 487h1v1h-1zM435 494h1v1h-1zM435 502h1v1h-1zM435 509h1v1h-1zM435 516h1v1h-1zM435 523h1v1h-1zM436 531h1v1h-1zM436 545h1v1h-1zM436 552h1v1h-1zM436 560h1v1h-1zM436 567h1v1h-1zM436 574h1v1h-1zM436 581h1v1h-1zM436 588h1v1h-1zM436 595h1v1h-1zM436 602h1v1h-1zM436 616h1v1h-1zM436 623h1v1h-1zM436 629h1v1h-1zM436 636h1v1h-1zM436 643h1v1h-1zM436 649h1v1h-1zM436 656h1v1h-1zM436 663h1v1h-1zM436 669h1v1h-1zM436 682h1v1h-1zM436 688h1v1h-1zM437 694h1v1h-1zM437 700h1v1h-1zM437 706h1v1h-1zM437 712h1v1h-1zM437 718h1v1h-1zM437 724h1v1h-1zM437 730h1v1h-1zM437 741h1v1h-1zM437 747h1v1h-1zM437 752h1v1h-1zM437 757h1v1h-1zM437 763h1v1h-1zM437 768h1v1h-1zM437 773h1v1h-1zM437 778h1v1h-1zM437 783h1v1h-1zM437 792h1v1h-1zM437 797h1v1h-1zM437 801h1v1h-1zM437 805h1v1h-1zM437 810h1v1h-1zM437 814h1v1h-1zM437 818h1v1h-1zM437 822h1v1h-1zM437 826h1v1h-1zM437 833h1v1h-1zM437 837h1v1h-1zM437 840h1v1h-1zM437 843h1v1h-1zM437 846h1v1h-1zM437 849h1v1h-1zM437 852h1v1h-1zM437 855h1v1h-1zM438 858h1v1h-1zM438 863h1v1h-1zM438 865h1v1h-1zM438 867h1v1h-1zM438 870h1v1h-1zM438 872h1v1h-1zM438 873h1v1h-1zM438 875h1v1h-1zM438 877h1v1h-1zM438 878h1v1h-1zM438 881h1v1h-1zM438 882h1v1h-1zM438 883h1v1h-1zM438 884h1v1h-1zM438 885h1v1h-1zM431 471h1v1h-1zM428 478h1v1h-1zM424 484h1v1h-1zM421 490h1v1h-1zM417 497h1v1h-1zM413 503h1v1h-1zM410 509h1v1h-1zM406 516h1v1h-1zM403 522h1v1h-1zM395 535h1v1h-1zM392 541h1v1h-1zM388 547h1v1h-1zM385 553h1v1h-1zM381 560h1v1h-1zM378 566h1v1h-1zM374 572h1v1h-1zM371 578h1v1h-1zM367 584h1v1h-1zM360 596h1v1h-1zM357 602h1v1h-1zM354 608h1v1h-1zM350 614h1v1h-1zM347 620h1v1h-1zM344 625h1v1h-1zM341 631h1v1h-1zM337 637h1v1h-1zM334 642h1v1h-1zM328 653h1v1h-1zM325 659h1v1h-1zM322 664h1v1h-1zM319 669h1v1h-1zM316 675h1v1h-1zM313 680h1v1h-1zM310 685h1v1h-1zM307 690h1v1h-1zM304 695h1v1h-1zM298 705h1v1h-1zM296 710h1v1h-1zM293 714h1v1h-1zM290 719h1v1h-1zM288 724h1v1h-1zM285 728h1v1h-1zM283 732h1v1h-1zM280 737h1v1h-1zM278 741h1v1h-1zM273 749h1v1h-1zM271 753h1v1h-1zM269 757h1v1h-1zM267 761h1v1h-1zM264 765h1v1h-1zM262 768h1v1h-1zM260 772h1v1h-1zM258 775h1v1h-1zM257 779h1v1h-1zM253 785h1v1h-1zM251 788h1v1h-1zM250 791h1v1h-1zM248 794h1v1h-1zM246 796h1v1h-1zM245 799h1v1h-1zM243 802h1v1h-1zM242 804h1v1h-1zM241 806h1v1h-1zM238 811h1v1h-1zM237 813h1v1h-1zM236 815h1v1h-1zM235 817h1v1h-1zM234 818h1v1h-1zM233 820h1v1h-1zM232 821h1v1h-1zM231 823h1v1h-1zM231 824h1v1h-1zM229 826h1v1h-1zM229 827h1v1h-1zM228 828h1v1h-1zM228 829h1v1h-1zM227 830h1v1h-1zM429 469h1v1h-1zM422 472h1v1h-1zM416 476h1v1h-1zM410 480h1v1h-1zM403 483h1v1h-1zM397 487h1v1h-1zM391 491h1v1h-1zM385 495h1v1h-1zM378 498h1v1h-1zM366 505h1v1h-1zM360 509h1v1h-1zM353 513h1v1h-1zM347 516h1v1h-1zM341 520h1v1h-1zM335 524h1v1h-1zM329 527h1v1h-1zM323 531h1v1h-1zM317 534h1v1h-1zM305 541h1v1h-1zM299 545h1v1h-1zM293 548h1v1h-1zM287 551h1v1h-1zM282 555h1v1h-1zM276 558h1v1h-1zM270 561h1v1h-1zM265 565h1v1h-1zM259 568h1v1h-1zM248 574h1v1h-1zM243 578h1v1h-1zM237 581h1v1h-1zM232 584h1v1h-1zM227 587h1v1h-1zM222 590h1v1h-1zM216 593h1v1h-1zM211 596h1v1h-1zM206 599h1v1h-1zM197 604h1v1h-1zM192 607h1v1h-1zM187 610h1v1h-1zM183 613h1v1h-1zM178 615h1v1h-1zM174 618h1v1h-1zM169 620h1v1h-1zM165 623h1v1h-1zM161 625h1v1h-1zM153 630h1v1h-1zM149 633h1v1h-1zM145 635h1v1h-1zM141 637h1v1h-1zM137 639h1v1h-1zM134 641h1v1h-1zM130 643h1v1h-1zM127 645h1v1h-1zM124 647h1v1h-1zM117 651h1v1h-1zM114 653h1v1h-1zM111 654h1v1h-1zM109 656h1v1h-1zM106 658h1v1h-1zM103 659h1v1h-1zM101 661h1v1h-1zM98 662h1v1h-1zM96 663h1v1h-1zM92 666h1v1h-1zM90 667h1v1h-1zM88 668h1v1h-1zM86 669h1v1h-1zM84 670h1v1h-1zM83 671h1v1h-1zM81 672h1v1h-1zM80 673h1v1h-1zM78 674h1v1h-1zM76 675h1v1h-1zM75 676h1v1h-1zM74 676h1v1h-1zM73 677h1v1h-1zM72 677h1v1h-1zM428 465h1v1h-1zM420 465h1v1h-1zM413 465h1v1h-1zM406 465h1v1h-1zM398 465h1v1h-1zM391 465h1v1h-1zM384 465h1v1h-1zM377 465h1v1h-1zM369 465h1v1h-1zM355 465h1v1h-1zM348 465h1v1h-1zM340 465h1v1h-1zM333 466h1v1h-1zM326 466h1v1h-1zM319 466h1v1h-1zM312 466h1v1h-1zM305 466h1v1h-1zM298 466h1v1h-1zM284 466h1v1h-1zM277 466h1v1h-1zM271 466h1v1h-1zM264 466h1v1h-1zM257 466h1v1h-1zM251 466h1v1h-1zM244 466h1v1h-1zM237 466h1v1h-1zM231 466h1v1h-1zM218 466h1v1h-1zM212 466h1v1h-1zM206 466h1v1h-1zM200 466h1v1h-1zM194 466h1v1h-1zM188 466h1v1h-1zM182 466h1v1h-1zM176 466h1v1h-1zM170 467h1v1h-1zM159 467h1v1h-1zM153 467h1v1h-1zM148 467h1v1h-1zM143 467h1v1h-1zM137 467h1v1h-1zM132 467h1v1h-1zM127 467h1v1h-1zM122 467h1v1h-1zM117 467h1v1h-1zM108 467h1v1h-1zM103 467h1v1h-1zM99 467h1v1h-1zM95 467h1v1h-1zM90 467h1v1h-1zM86 467h1v1h-1zM82 467h1v1h-1zM78 467h1v1h-1zM74 467h1v1h-1zM67 467h1v1h-1zM63 467h1v1h-1zM60 467h1v1h-1zM57 467h1v1h-1zM54 467h1v1h-1zM51 467h1v1h-1zM48 467h1v1h-1zM45 467h1v1h-1zM42 467h1v1h-1zM37 467h1v1h-1zM35 467h1v1h-1zM33 467h1v1h-1zM30 467h1v1h-1zM28 467h1v1h-1zM27 467h1v1h-1zM25 467h1v1h-1zM23 467h1v1h-1zM22 467h1v1h-1zM19 467h1v1h-1zM18 467h1v1h-1zM17 467h1v1h-1zM16 467h1v1h-1zM15 467h1v1h-1zM429 461h1v1h-1zM422 458h1v1h-1zM416 454h1v1h-1zM410 450h1v1h-1zM403 447h1v1h-1zM397 443h1v1h-1zM391 440h1v1h-1zM384 436h1v1h-1zM378 432h1v1h-1zM365 425h1v1h-1zM359 422h1v1h-1zM353 418h1v1h-1zM347 415h1v1h-1zM340 411h1v1h-1zM334 407h1v1h-1zM328 404h1v1h-1zM322 401h1v1h-1zM316 397h1v1h-1zM304 390h1v1h-1zM298 387h1v1h-1zM292 384h1v1h-1zM286 380h1v1h-1zM280 377h1v1h-1zM275 374h1v1h-1zM269 370h1v1h-1zM263 367h1v1h-1zM258 364h1v1h-1zM247 358h1v1h-1zM241 355h1v1h-1zM236 351h1v1h-1zM231 348h1v1h-1zM225 345h1v1h-1zM220 342h1v1h-1zM215 340h1v1h-1zM210 337h1v1h-1zM205 334h1v1h-1zM195 328h1v1h-1zM190 326h1v1h-1zM186 323h1v1h-1zM181 320h1v1h-1zM176 318h1v1h-1zM172 315h1v1h-1zM168 313h1v1h-1zM163 310h1v1h-1zM159 308h1v1h-1zM151 303h1v1h-1zM147 301h1v1h-1zM143 299h1v1h-1zM139 296h1v1h-1zM135 294h1v1h-1zM132 292h1v1h-1zM128 290h1v1h-1zM125 288h1v1h-1zM121 286h1v1h-1zM115 283h1v1h-1zM112 281h1v1h-1zM109 279h1v1h-1zM106 278h1v1h-1zM104 276h1v1h-1zM101 275h1v1h-1zM98 273h1v1h-1zM96 272h1v1h-1zM94 270h1v1h-1zM89 268h1v1h-1zM87 267h1v1h-1zM85 266h1v1h-1zM83 265h1v1h-1zM82 264h1v1h-1zM80 263h1v1h-1zM79 262h1v1h-1zM77 261h1v1h-1zM76 260h1v1h-1zM74 259h1v1h-1zM73 259h1v1h-1zM72 258h1v1h-1zM71 258h1v1h-1zM71 257h1v1h-1zM70 257h1v1h-1zM431 459h1v1h-1zM428 452h1v1h-1zM424 446h1v1h-1zM420 440h1v1h-1zM417 433h1v1h-1zM413 427h1v1h-1zM409 421h1v1h-1zM405 414h1v1h-1zM402 408h1v1h-1zM395 396h1v1h-1zM391 389h1v1h-1zM387 383h1v1h-1zM384 377h1v1h-1zM380 371h1v1h-1zM376 365h1v1h-1zM373 359h1v1h-1zM369 353h1v1h-1zM366 347h1v1h-1zM359 335h1v1h-1zM355 329h1v1h-1zM352 323h1v1h-1zM349 317h1v1h-1zM345 311h1v1h-1zM342 306h1v1h-1zM339 300h1v1h-1zM335 294h1v1h-1zM332 289h1v1h-1zM326 278h1v1h-1zM322 272h1v1h-1zM319 267h1v1h-1zM316 262h1v1h-1zM313 257h1v1h-1zM310 251h1v1h-1zM307 246h1v1h-1zM304 241h1v1h-1zM301 236h1v1h-1zM296 227h1v1h-1zM293 222h1v1h-1zM290 217h1v1h-1zM287 213h1v1h-1zM285 208h1v1h-1zM282 204h1v1h-1zM280 199h1v1h-1zM277 195h1v1h-1zM275 191h1v1h-1zM270 183h1v1h-1zM267 179h1v1h-1zM265 175h1v1h-1zM263 171h1v1h-1zM261 167h1v1h-1zM259 164h1v1h-1zM257 160h1v1h-1zM255 157h1v1h-1zM253 153h1v1h-1zM249 147h1v1h-1zM247 144h1v1h-1zM246 141h1v1h-1zM244 138h1v1h-1zM242 136h1v1h-1zM241 133h1v1h-1zM239 130h1v1h-1zM238 128h1v1h-1zM237 126h1v1h-1zM234 121h1v1h-1zM233 119h1v1h-1zM232 117h1v1h-1zM231 116h1v1h-1zM230 114h1v1h-1zM229 112h1v1h-1zM228 111h1v1h-1zM227 110h1v1h-1zM226 108h1v1h-1zM225 106h1v1h-1zM224 105h1v1h-1zM224 104h1v1h-1zM223 103h1v1h-1zM223 102h1v1h-1zM435 458h1v1h-1zM435 450h1v1h-1zM435 443h1v1h-1zM435 436h1v1h-1zM435 428h1v1h-1zM435 421h1v1h-1zM435 414h1v1h-1zM435 406h1v1h-1zM435 399h1v1h-1zM435 385h1v1h-1zM435 377h1v1h-1zM435 370h1v1h-1zM434 363h1v1h-1zM434 356h1v1h-1zM434 349h1v1h-1zM434 342h1v1h-1zM434 335h1v1h-1zM434 328h1v1h-1zM434 314h1v1h-1zM434 307h1v1h-1zM434 300h1v1h-1zM434 294h1v1h-1zM434 287h1v1h-1zM434 280h1v1h-1zM434 274h1v1h-1zM434 267h1v1h-1zM434 261h1v1h-1zM434 248h1v1h-1zM434 242h1v1h-1zM434 236h1v1h-1zM434 229h1v1h-1zM434 223h1v1h-1zM434 217h1v1h-1zM434 212h1v1h-1zM434 206h1v1h-1zM433 200h1v1h-1zM433 189h1v1h-1zM433 183h1v1h-1zM433 178h1v1h-1zM433 172h1v1h-1zM433 167h1v1h-1zM433 162h1v1h-1zM433 157h1v1h-1zM433 152h1v1h-1zM433 147h1v1h-1zM433 138h1v1h-1zM433 133h1v1h-1zM433 129h1v1h-1zM433 124h1v1h-1zM433 120h1v1h-1zM433 116h1v1h-1zM433 112h1v1h-1zM433 108h1v1h-1zM433 104h1v1h-1zM433 97h1v1h-1zM433 93h1v1h-1zM433 90h1v1h-1zM433 87h1v1h-1zM433 83h1v1h-1zM433 80h1v1h-1zM433 77h1v1h-1zM433 75h1v1h-1zM433 72h1v1h-1zM433 67h1v1h-1zM433 65h1v1h-1zM433 62h1v1h-1zM433 60h1v1h-1zM433 58h1v1h-1zM433 56h1v1h-1zM433 55h1v1h-1zM433 53h1v1h-1zM433 52h1v1h-1zM433 49h1v1h-1zM433 48h1v1h-1zM433 47h1v1h-1zM433 46h1v1h-1zM433 45h1v1h-1zM433 44h1v1h-1zM439 459h1v1h-1zM442 452h1v1h-1zM446 446h1v1h-1zM450 439h1v1h-1zM453 433h1v1h-1zM457 427h1v1h-1zM460 420h1v1h-1zM464 414h1v1h-1zM468 408h1v1h-1zM475 395h1v1h-1zM478 389h1v1h-1zM482 383h1v1h-1zM485 376h1v1h-1zM489 370h1v1h-1zM493 364h1v1h-1zM496 358h1v1h-1zM499 352h1v1h-1zM503 346h1v1h-1zM510 334h1v1h-1zM513 328h1v1h-1zM516 322h1v1h-1zM520 316h1v1h-1zM523 310h1v1h-1zM526 305h1v1h-1zM530 299h1v1h-1zM533 293h1v1h-1zM536 288h1v1h-1zM542 276h1v1h-1zM545 271h1v1h-1zM549 266h1v1h-1zM552 260h1v1h-1zM555 255h1v1h-1zM558 250h1v1h-1zM560 245h1v1h-1zM563 240h1v1h-1zM566 235h1v1h-1zM572 225h1v1h-1zM574 220h1v1h-1zM577 215h1v1h-1zM580 211h1v1h-1zM582 206h1v1h-1zM585 202h1v1h-1zM587 197h1v1h-1zM590 193h1v1h-1zM592 189h1v1h-1zM597 181h1v1h-1zM599 177h1v1h-1zM601 173h1v1h-1zM604 169h1v1h-1zM606 165h1v1h-1zM608 162h1v1h-1zM610 158h1v1h-1zM612 155h1v1h-1zM614 151h1v1h-1zM617 145h1v1h-1zM619 142h1v1h-1zM621 139h1v1h-1zM622 136h1v1h-1zM624 133h1v1h-1zM625 131h1v1h-1zM627 128h1v1h-1zM628 126h1v1h-1zM630 123h1v1h-1zM632 119h1v1h-1zM633 117h1v1h-1zM634 115h1v1h-1zM635 113h1v1h-1zM636 111h1v1h-1zM637 110h1v1h-1zM638 108h1v1h-1zM639 107h1v1h-1zM640 106h1v1h-1zM641 104h1v1h-1zM641 103h1v1h-1zM642 102h1v1h-1zM642 101h1v1h-1zM643 100h1v1h-1zM643 99h1v1h-1zM441 461h1v1h-1zM448 457h1v1h-1zM454 454h1v1h-1zM460 450h1v1h-1zM467 446h1v1h-1zM473 443h1v1h-1zM479 439h1v1h-1zM486 435h1v1h-1zM492 432h1v1h-1zM504 424h1v1h-1zM511 421h1v1h-1zM517 417h1v1h-1zM523 413h1v1h-1zM529 410h1v1h-1zM535 406h1v1h-1zM541 403h1v1h-1zM547 399h1v1h-1zM553 396h1v1h-1zM565 389h1v1h-1zM571 385h1v1h-1zM577 382h1v1h-1zM583 378h1v1h-1zM589 375h1v1h-1zM594 372h1v1h-1zM600 368h1v1h-1zM606 365h1v1h-1zM611 362h1v1h-1zM622 355h1v1h-1zM628 352h1v1h-1zM633 349h1v1h-1zM638 346h1v1h-1zM643 343h1v1h-1zM649 340h1v1h-1zM654 337h1v1h-1zM659 334h1v1h-1zM664 331h1v1h-1zM673 325h1v1h-1zM678 323h1v1h-1zM683 320h1v1h-1zM687 317h1v1h-1zM692 314h1v1h-1zM696 312h1v1h-1zM701 309h1v1h-1zM705 307h1v1h-1zM709 304h1v1h-1zM717 300h1v1h-1zM721 297h1v1h-1zM725 295h1v1h-1zM729 293h1v1h-1zM733 291h1v1h-1zM736 289h1v1h-1zM740 286h1v1h-1zM743 285h1v1h-1zM747 283h1v1h-1zM753 279h1v1h-1zM756 277h1v1h-1zM759 275h1v1h-1zM762 274h1v1h-1zM764 272h1v1h-1zM767 271h1v1h-1zM770 269h1v1h-1zM772 268h1v1h-1zM774 266h1v1h-1zM779 264h1v1h-1zM781 263h1v1h-1zM783 261h1v1h-1zM784 260h1v1h-1zM786 259h1v1h-1zM788 258h1v1h-1zM789 258h1v1h-1zM790 257h1v1h-1zM792 256h1v1h-1zM794 255h1v1h-1zM795 254h1v1h-1zM796 254h1v1h-1zM796 253h1v1h-1zM797 253h1v1h-1zM798 253h1v1h-1zM798 252h1v1h-1z" fill="#f00" shape-rendering="crispEdges"/>
<path d="M491.9 426.1 L490.5 424.9 L489.1 423.8 L487.6 422.6 L486.2 421.5 L484.7 420.4 L483.3 419.2 L481.8 418.1 L480.4 416.9 L479.0 415.8 L477.5 414.7 L476.1 413.5 L474.6 412.4 L473.2 411.3 L471.7 410.1 L470.3 409.0 L468.8 407.9 L467.4 406.8 L465.9 405.6 L464.5 404.5 L463.0 403.4 L461.6 402.3 L460.1 401.1 L458.7 400.0 L457.2 398.9 L455.8 397.8 L454.3 396.7 L452.9 395.6 L451.4 394.4 L449.9 393.3 L448.5 392.2 L447.0 391.1 L445.6 390.0 L444.1 388.9 L442.7 387.8 L441.2 386.7 L439.8 385.6 L438.3 384.5 L436.8 383.4 L435.4 382.3 L433.9 381.2 L432.5 380.1 L431.0 379.0 L429.6 377.9 L428.1 376.8 L426.6 375.7 L425.2 374.6 L423.7 373.6 L422.3 372.5 L420.8 371.4 L419.4 370.3 L417.9 369.2 L416.5 368.2 L415.0 367.1 L413.6 366.0 L412.1 365.0 L410.6 363.9 L409.2 362.8 L407.7 361.8 L406.3 360.7 L404.8 359.6 L403.4 358.6 L401.9 357.5 L400.5 356.5 L399.0 355.4 L397.6 354.4 L396.1 353.3 L394.7 352.3 L393.3 351.2 L391.8 350.2 L390.4 349.1 L388.9 348.1 L387.5 347.1 L386.0 346.0 L384.6 345.0 L383.2 344.0 L381.7 343.0 L380.3 341.9 L378.9 340.9 L377.4 339.9 L376.0 338.9 L374.6 337.9 L373.1 336.9 L371.7 335.8 L370.3 334.8 L368.8 333.8 L367.4 332.8 L366.0 331.8 L364.6 330.8 L363.1 329.8 L361.7 328.9 L360.3 327.9 L358.9 326.9 L357.5 325.9 L356.0 324.9 L354.6 323.9 L353.2 323.0 L351.8 322.0 L350.4 321.0 L349.0 320.1 L347.6 319.1 L346.2 318.1 L344.8 317.2 L343.4 316.2 L342.0 315.3 L340.6 314.3 L339.2 313.4 L337.8 312.4 L336.4 311.5 L335.0 310.5 L333.6 309.6 L332.2 308.7 L330.8 307.7 L329.5 306.8 L328.1 305.9 L326.7 305.0 L325.3 304.1 L324.0 303.1 L322.6 302.2 L321.2 301.3 L319.8 300.4 L318.5 299.5 L317.1 298.6 L315.8 297.7 L314.4 296.8 L313.0 295.9 L311.7 295.1 L310.3 294.2 L309.0 293.3 L307.6 292.4 L306.3 291.5 L305.0 290.7 L303.6 289.8 L302.3 288.9 L300.9 288.1 L299.6 287.2 L298.3 286.4 L297.0 285.5 L295.6 284.7 L294.3 283.8 L293.0 283.0 L291.7 282.2 L290.4 281.3 L289.1 280.5 L287.8 279.7 L286.4 278.9 L285.1 278.0 L283.8 277.2 L282.5 276.4 L281.3 275.6 L280.0 274.8 L278.7 274.0 L277.4 273.2 L276.1 272.4 L274.8 271.6 L273.6 270.8 L272.3 270.1 L271.0 269.3 L269.8 268.5 L268.5 267.7 L267.2 267.0 L266.0 266.2 L264.7 265.4 L263.5 264.7 L262.2 263.9 L261.0 263.2 L259.7 262.4 L258.5 261.7 L257.3 261.0 L256.0 260.2 L254.8 259.5 L253.6 258.8 L252.4 258.1 L251.2 257.4 L249.9 256.6 L248.7 255.9 L247.5 255.2 L246.3 254.5 L245.1 253.8 L243.9 253.1 L242.7 252.5 L241.6 251.8 L240.4 251.1 L239.2 250.4 L238.0 249.7 L236.8 249.1 L235.7 248.4 L234.5 247.7 L233.4 247.1 L232.2 246.4 L231.0 245.8 L229.9 245.1 L228.7 244.5 L227.6 243.9 L226.5 243.2 L225.3 242.6 L224.2 242.0 L223.1 241.4 L222.0 240.8 L220.8 240.2 L219.7 239.6 L218.6 239.0 L217.5 238.4 L216.4 237.8 L215.3 237.2 L214.2 236.6 L213.1 236.0 L212.1 235.4 L211.0 234.9 L209.9 234.3 L208.8 233.7 L207.8 233.2 L206.7 232.6 L205.6 232.1 L204.6 231.5 L203.5 231.0 L202.5 230.5 L201.5 229.9 L200.4 229.4 L199.4 228.9 L198.4 228.4 L197.3 227.9 L196.3 227.4 L195.3 226.9 L194.3 226.4 L193.3 225.9 L192.3 225.4 L191.3 224.9 L190.3 224.4 L189.3 223.9 L188.3 223.5 L187.4 223.0 L186.4 222.5 L185.4 222.1 L184.5 221.6 L183.5 221.2 L182.5 220.7 L181.6 220.3 L180.7 219.9 L179.7 219.4 L178.8 219.0 L177.9 218.6 L176.9 218.2 L176.0 217.8 L175.1 217.4 L174.2 217.0 L173.3 216.6 L172.4 216.2 L171.5 215.8 L170.6 215.4 L169.7 215.0 L168.8 214.6 L168.0 214.3 L167.1 213.9 L166.2 213.6 L165.4 213.2 L164.5 212.9 L163.7 212.5 L162.8 212.2 L162.0 211.8 L161.2 211.5 L160.3 211.2 L159.5 210.9 L158.7 210.5 L157.9 210.2 L157.1 209.9 L156.3 209.6 L155.5 209.3 L154.7 209.0 L153.9 208.8 L153.1 208.5 L152.4 208.2 L151.6 207.9 L150.8 207.7 L150.1 207.4 L149.3 207.2 L148.6 206.9 L147.8 206.7 L147.1 206.4 L146.4 206.2 L145.6 205.9 L144.9 205.7 L144.2 205.5 L143.5 205.3 L142.8 205.1 L142.1 204.9 L141.4 204.7 L140.7 204.5 L140.1 204.3 L139.4 204.1 L138.7 203.9 L138.0 203.7 L137.4 203.6 L136.7 203.4 L136.1 203.2 L135.4 203.1 L134.8 202.9 L134.2 202.8 L133.6 202.6 L132.9 202.5 L132.3 202.4 L131.7 202.2 L131.1 202.1 L130.5 202.0 L129.9 201.9 L129.4 201.8 L128.8 201.7 L128.2 201.6 L127.6 201.5 L127.1 201.4 L126.5 201.3 L126.0 201.2 L125.4 201.2 L124.9 201.1 L124.4 201.0 L123.9 201.0 L123.3 200.9 L122.8 200.9 L122.3 200.8 L121.8 200.8 L121.3 200.8 L120.8 200.7 L120.3 200.7 L119.9 200.7 L119.4 200.7 L118.9 200.7 L118.5 200.7 L118.0 200.7 L117.6 200.7 L117.1 200.7 L116.7 200.7 L116.3 200.8 L115.9 200.8 L115.4 200.8 L115.0 200.9 L114.6 200.9 L114.2 201.0 L113.8 201.0 L113.5 201.1 L113.1 201.1 L112.7 201.2 L112.3 201.3 L112.0 201.4 L111.6 201.4 L111.3 201.5 L110.9 201.6 L110.6 201.7 L110.3 201.8 L109.9 201.9 L109.6 202.1 L109.3 202.2 L109.0 202.3 L108.7 202.4 L108.4 202.6 L108.1 202.7 L107.8 202.8 L107.6 203.0 L107.3 203.1 L107.0 203.3 L106.8 203.5 L106.5 203.6" stroke="#000" stroke-width="1" fill="none" stroke-dasharray="2.5 3.5"/>
<g fill="none" stroke="#000" stroke-width="1.1" stroke-linejoin="round"><path d="M665.3 376.0 L660.0 366.7 L654.7 361.3 L648.0 356.0 L641.3 355.3 L633.3 352.0 L626.7 351.3 L620.0 356.0 L613.3 355.3 L608.0 358.7 L601.3 363.3 L596.0 364.0 L592.0 359.3 L588.0 356.0 L586.0 346.7 L582.7 346.0 L580.0 348.7 L576.0 347.3 L572.7 346.0 L570.7 338.7 L567.3 330.7 L562.7 326.7 L557.3 322.0 L556.0 318.7 L550.7 314.0 L545.3 312.7 L540.7 314.7 L540.0 318.7 L542.0 322.0 L537.3 330.0 L533.3 328.0 L529.3 324.0 L526.7 326.7 L525.3 320.0 L521.3 317.3 L516.0 315.3 L509.3 312.7 L504.0 311.3 L500.0 310.7 L496.0 312.7 L492.7 309.3 L491.3 307.3 L490.0 312.7 L489.3 314.7 L482.7 314.7 L476.0 316.7 L470.0 320.7 L468.7 324.0 L460.0 326.0 L458.0 330.7 L456.0 333.3 L456.7 337.3 L453.3 340.0 L452.7 343.3 L447.3 343.3 L444.7 346.0 L446.0 350.0 L442.7 354.0 L441.3 358.7 L437.3 362.7 L432.0 366.7 L430.0 368.0 L424.7 372.0 L419.3 374.0 L414.0 378.7 L410.0 382.7 L409.3 386.7 L406.0 387.3 L406.0 390.0 L410.0 391.3 L410.0 392.7 L403.3 392.7 L398.0 388.7 L394.0 386.0 L391.3 383.3 L388.7 379.3 L386.0 375.3 L383.3 372.7 L382.7 368.7 L379.3 366.0 L375.3 363.3 L371.3 363.3 L367.3 366.7 L363.3 368.7 L362.0 371.3 L360.7 375.3 L356.7 379.3 L351.3 382.0 L346.0 386.0 L344.0 389.3 L340.0 392.7 L338.0 395.3 L337.3 400.7 L335.3 407.3 L332.0 412.7 L330.0 416.7 L326.0 419.3 L324.0 423.3 L323.3 430.0 L322.0 436.7 L320.0 443.3 L319.3 448.7 L314.0 448.7 L311.3 451.3 L315.3 452.7 L319.3 451.3 L321.3 455.3 L322.7 460.7 L327.2 463.9 L328.8 466.2 L326.5 468.6 L326.5 478.7 L331.1 484.9 L337.4 491.1 L338.9 497.4 L337.4 500.5 L338.9 505.1 L336.6 510.6 L341.2 515.3 L346.7 516.0 L349.8 519.1 L353.7 531.6 L351.4 539.4 L355.3 539.4 L359.1 545.6 L358.4 552.6 L364.6 556.5 L371.6 551.8 L376.3 551.8 L380.9 557.3 L387.2 559.6 L387.9 567.4 L394.9 569.0 L401.2 571.3 L403.5 575.2 L405.8 569.0 L410.5 566.6 L415.0 567.3 L421.3 566.3 L423.1 562.5 L433.8 562.5 L435.0 566.3 L440.0 573.8 L440.6 580.0 L446.3 582.5 L457.5 586.3 L462.5 587.5 L466.3 590.0 L472.5 593.8 L477.5 600.0 L481.3 601.5 L487.5 600.0 L492.5 598.1 L492.5 592.5 L495.0 593.1 L498.8 588.8 L502.5 590.0 L507.5 586.3 L512.5 583.8 L516.3 580.0 L520.0 576.3 L519.4 571.3 L521.9 568.8 L527.5 571.3 L531.3 573.1 L534.4 576.3 L536.3 573.1 L536.9 570.0 L542.5 568.8 L544.4 565.0 L548.7 558.4 L554.4 554.1 L561.7 551.2 L568.9 549.0 L574.7 547.6 L578.3 545.4 L579.0 541.1 L583.3 536.8 L589.1 532.4 L592.0 526.6 L593.4 523.8 L597.8 520.9 L602.1 516.5 L605.0 509.3 L607.9 502.1 L610.8 497.8 L610.0 490.5 L608.6 487.7 L605.7 486.2 L606.4 481.9 L605.0 476.1 L605.0 470.3 L602.8 468.2 L597.8 461.7 L596.3 458.8 L597.8 455.9 L594.9 454.4 L591.3 455.2 L590.5 450.1 L589.0 449.0 L586.5 446.0 L584.0 441.0 L580.0 436.0 L577.0 433.0 L577.5 429.0 L578.5 425.0 L577.0 422.0 L576.0 419.0 L577.0 414.0 L580.0 412.0 L582.0 406.0 L584.0 402.0 L586.0 398.0 L587.0 392.0 L588.0 388.0 L590.0 384.0 L593.0 383.5 L596.0 384.0 L599.0 381.0 L602.0 384.0 L606.0 381.5 L610.0 380.0 L614.0 378.0 L618.0 375.0 L622.0 372.0 L626.0 371.5 L630.0 373.0 L636.0 368.0 L644.0 365.3 L649.3 365.3 L657.3 367.3 L662.7 370.7 L665.3 376.0"/><path d="M591.0 455.0 L594.9 453.5 L598.0 455.5 L597.0 459.0 L593.0 459.5 L590.5 457.5 L591.0 455.0"/><path d="M592.0 350.0 L596.0 343.0 L603.0 343.0 L606.0 346.0 L613.0 347.0 L615.0 352.0 L611.0 357.0 L603.0 358.0 L597.0 357.0 L592.0 350.0"/><path d="M597.0 346.0 L601.0 350.0 L606.0 352.0"/><path d="M600.0 344.0 L603.0 352.0"/><path d="M661.3 357.3 L669.3 366.0"/><path d="M646.7 353.0 L650.0 352.7 L652.0 356.0 L648.5 357.3 L646.7 353.0"/><path d="M406.0 388.0 L409.0 385.0 L412.0 386.0 L411.0 390.0 L408.0 390.0"/><path d="M757.4 194.4 L763.9 202.3 L771.1 213.9 L778.3 225.4 L784.1 235.6 L787.0 242.8 L786.3 245.7 L779.8 247.1 L774.0 248.6 L766.8 247.8 L764.0 248.6 L758.6 253.5 L755.5 253.9 L749.7 253.5 L740.8 252.1 L739.1 250.3 L737.3 252.1 L735.5 255.7 L730.2 256.6 L725.7 258.3 L719.5 259.2 L718.6 261.5 L715.9 263.2 L712.4 263.7 L707.9 265.9 L703.5 264.6 L702.6 265.9 L699.9 268.1 L696.4 270.4 L692.8 272.6 L691.0 275.2 L688.3 276.6 L685.7 279.7 L683.5 282.4 L682.6 285.9 L681.2 291.3 L681.2 298.4 L682.1 305.5 L683.5 310.8 L685.7 315.3 L690.1 320.6 L693.7 324.6 L694.6 314.4 L696.4 310.0 L699.9 306.4 L702.6 301.9 L706.1 300.2 L710.6 303.7 L714.1 303.3 L718.6 305.5 L723.0 308.2 L726.6 308.2 L725.7 302.0 L728.4 296.6 L732.8 299.3 L737.3 303.7 L742.6 302.4 L746.2 303.7 L748.8 301.0 L752.8 298.4 L754.2 299.3 L756.0 309.1 L760.4 312.2 L764.9 312.6 L767.6 313.4 L771.7 321.7 L777.2 331.3 L785.5 338.2 L787.5 334.1 L789.6 325.8 L791.7 327.2 L792.4 331.3 L793.7 343.7 L799.2 353.4 L807.5 361.6 L814.4 372.7 L818.5 376.8 L823.4 383.7 L829.6 383.7 L833.7 390.6 L836.4 400.2 L837.0 404.9 L839.5 412.2 L840.1 422.0 L841.9 433.0 L846.2 439.1 L847.4 446.4 L849.8 450.0 L854.1 453.1 L854.7 462.3 L855.3 465.9 L855.3 487.9 L854.1 487.9"/><path d="M716.4 336.0 L719.5 334.7 L722.5 338.0 L723.6 346.0 L722.0 350.7 L719.0 349.0 L717.0 343.0 L716.4 336.0"/><path d="M724.5 439.0 L726.0 443.5"/><path d="M685.8 404.0 L686.6 408.0"/><path d="M719.0 262.0 L722.0 259.5 L727.0 260.0 L729.0 262.5 L725.0 264.5 L719.5 265.0 L714.0 267.0"/><path d="M686.0 290.0 L689.0 295.0 L692.0 300.0 L695.0 304.0"/><path d="M684.0 296.0 L690.0 302.0 L688.0 306.0"/><path d="M744.0 300.0 L747.0 304.0"/><path d="M103.3 368.3 L96.7 370.0 L90.0 372.7 L83.3 380.0 L79.3 386.0 L75.3 392.7 L67.3 400.0 L63.3 410.7 L60.7 417.3 L55.3 420.0 L48.7 426.7 L46.0 436.0 L40.7 441.3 L36.7 449.3 L40.7 452.7 L48.7 452.7 L55.3 456.0 L56.0 462.7 L54.0 468.0 L53.3 478.7 L51.3 486.7 L44.7 491.0 L43.3 493.3 L43.3 508.9 L45.6 522.2 L50.0 531.1 L55.6 537.8 L57.8 548.9 L58.9 557.8 L65.6 568.9 L74.4 576.7 L78.9 582.2 L87.8 586.7 L93.3 595.6 L98.9 606.7 L103.3 615.6 L111.1 625.6 L116.7 628.9 L125.6 626.7 L131.1 624.4 L133.3 615.9 L137.8 613.3 L141.1 606.7 L145.6 602.2 L152.2 596.7 L160.0 593.3 L158.9 584.4 L154.4 575.6 L145.6 568.9 L141.1 557.8 L137.8 548.9 L132.2 542.2 L125.6 531.1 L118.9 517.8 L116.7 504.4 L117.8 488.9 L121.1 482.2 L127.8 475.6 L121.0 470.0 L116.7 465.3 L122.0 466.7 L128.0 468.0 L132.7 466.0 L130.0 461.3 L131.3 456.0 L135.3 451.3 L142.0 445.3 L144.0 440.0 L146.0 428.7 L142.0 421.6 L143.3 418.7 L149.3 411.3 L146.0 410.0 L143.3 401.3 L142.7 391.7 L135.3 390.7 L130.0 386.7 L123.3 382.7 L120.7 377.3 L115.3 371.7 L110.0 370.0 L103.3 368.3"/><path d="M158.7 402.0 L166.0 401.6 L171.3 403.3 L173.3 410.0 L171.3 415.3 L163.3 418.0 L156.7 420.3 L160.7 410.7 L158.7 402.0"/><path d="M172.3 262.2 L177.2 258.0 L182.1 255.5 L189.4 254.3 L191.9 251.3 L196.7 250.6 L201.6 247.6 L202.2 242.7 L204.7 240.3 L208.3 243.3 L207.7 251.3 L210.8 254.3 L213.2 260.4 L212.6 264.1 L210.2 265.3 L205.3 260.4 L202.8 262.9 L198.0 265.9 L196.7 262.9 L194.9 258.6 L190.6 257.4 L187.0 259.8 L180.9 260.4 L174.8 262.2 L172.3 262.2"/><path d="M205.3 269.0 L210.2 268.3 L212.6 272.6 L215.1 278.7 L215.7 288.5 L219.9 292.2 L222.4 297.0 L221.2 304.4 L218.7 308.0 L216.3 309.2 L212.6 312.9 L208.3 309.2 L207.7 300.7 L206.5 288.5 L202.8 281.2 L200.4 276.3 L201.0 272.6 L205.3 269.0"/><path d="M459.0 885.3 L470.0 885.1 L480.7 883.3 L492.7 881.3 L506.0 878.7 L519.3 875.3 L530.0 872.0 L536.0 868.7 L532.7 867.3 L534.0 864.7 L528.0 863.3 L530.0 857.3 L529.3 853.3 L535.3 849.3 L543.3 845.3 L551.3 842.7 L559.3 837.3 L566.0 833.3 L571.3 829.3 L568.7 826.7 L566.7 822.7 L566.7 818.0 L570.0 814.0 L575.3 811.3 L583.3 807.3 L585.3 805.3 L582.7 804.7 L582.7 800.0 L584.7 796.0 L590.0 790.0 L597.0 780.7 L604.0 772.5 L611.0 765.5 L615.7 760.3 L620.3 757.3 L626.2 753.3 L633.2 750.3 L639.0 746.8 L641.3 744.5 L647.2 741.0 L649.5 737.5 L651.8 736.3 L657.7 736.3 L658.8 734.6 L660.0 736.9 L663.5 738.4 L660.6 740.4 L663.5 742.8 L669.3 745.7 L673.4 748.0 L682.2 748.0 L686.8 752.7 L690.3 756.2 L692.1 760.8 L697.3 760.8 L709.0 761.4 L709.6 766.7 L706.7 773.7 L702.0 778.3 L699.7 782.9 L698.5 785.3 L702.0 786.5 L706.7 784.8 L713.7 780.7 L720.7 774.3"/><path d="M462.0 859.3 L463.3 865.3 L467.3 867.3 L473.3 864.0 L479.3 860.7 L487.3 857.3 L496.7 855.3 L504.0 854.0 L508.0 850.0 L506.7 845.3 L505.3 843.3 L511.3 838.7 L515.3 836.7 L515.3 832.7 L513.3 826.7 L506.0 824.7 L494.0 826.7 L488.7 830.7 L485.3 837.3 L478.0 845.3 L471.3 852.0 L467.3 857.3 L464.7 858.7 L462.0 859.3"/><path d="M391.0 694.5 L395.0 694.0 L400.0 694.5 L397.5 697.0 L397.5 700.5 L396.5 697.0 L394.0 695.5 L391.0 695.5"/><path d="M31.7 376.7 L29.5 385.0 L28.3 390.0 L26.0 400.0 L24.0 413.0 L22.7 425.0 L22.7 438.7 L21.5 450.0 L21.3 460.0 L21.5 470.0 L21.7 480.0 L21.7 496.7 L23.3 513.3 L25.8 526.7 L26.7 543.3"/><path d="M31.3 380.0 L32.0 397.3 L30.0 413.3 L26.0 424.0 L24.5 432.0"/><path d="M40.7 390.7 L38.7 398.7 L35.3 413.3 L31.3 424.0 L29.3 438.7 L33.3 448.0 L32.7 460.0 L31.3 473.3 L32.0 485.3 L30.5 492.0"/><path d="M26.7 485.0 L26.7 503.3 L28.3 523.3 L27.5 540.0 L29.2 548.0 L33.3 553.3 L36.7 566.7 L37.5 573.3"/><path d="M30.0 558.3 L32.0 566.0 L35.0 572.0 L38.3 573.3"/><path d="M31.7 580.0 L36.0 590.0 L40.0 596.7 L45.0 606.0 L50.0 616.7 L54.0 626.0"/><path d="M36.0 584.0 L40.0 592.0 L44.0 598.0 L48.0 606.0 L52.0 612.0"/><path d="M45.0 561.7 L48.0 568.0 L52.0 576.0 L55.0 583.3 L53.0 578.0 L49.0 570.0 L45.0 561.7"/><path d="M51.7 585.0 L55.0 594.0 L60.0 605.0 L65.0 616.0 L70.0 626.7"/><path d="M48.0 626.0 L54.0 640.0 L60.0 652.0 L68.0 666.0 L76.0 676.0 L82.0 684.0 L85.0 690.0 L84.0 680.0 L80.0 674.0 L72.0 660.0 L66.0 640.0 L60.0 638.0 L52.0 626.0 L48.0 626.0"/><path d="M58.0 600.0 L64.0 612.0 L70.0 624.0 L78.0 642.0 L86.0 660.0 L96.0 680.0 L106.0 694.0 L108.0 704.0"/><path d="M62.0 600.0 L68.0 612.0 L74.0 630.0 L82.0 650.0 L90.0 666.0 L100.0 686.0 L108.0 702.0"/><path d="M98.0 702.0 L102.0 710.0 L108.0 720.0 L116.0 732.0 L124.0 742.0 L132.0 752.0 L145.1 769.3"/><path d="M106.0 704.0 L114.0 720.0 L122.0 736.0 L130.0 748.0 L142.0 764.0"/><path d="M92.0 709.0 L98.0 716.0"/><path d="M100.0 716.0 L110.0 728.0 L120.0 740.0 L134.0 756.0 L146.0 770.0"/><path d="M43.3 345.8 L39.5 355.0 L35.8 365.0"/><path d="M62.5 310.8 L58.0 316.0 L54.2 321.7 L50.0 329.0 L46.7 336.7"/><path d="M60.0 314.0 L56.0 322.0 L52.0 328.0"/><path d="M91.7 274.2 L84.2 281.3"/><path d="M86.0 279.0 L90.0 277.0"/><path d="M107.3 281.3 L102.0 287.0 L97.0 293.0 L93.3 298.3 L95.0 297.0 L100.0 292.0 L105.0 286.0 L107.3 281.3"/><path d="M130.0 216.0 L132.0 209.0 L135.0 203.0 L136.0 205.0 L133.0 212.0 L130.0 216.0"/><path d="M162.5 164.0 L172.5 156.0"/><path d="M221.6 828.0 L235.8 836.0"/><path d="M247.0 235.0 L248.5 232.0 L250.0 235.0"/></g>
<g fill="none" stroke="#00ff00" stroke-width="2"><path d="M256.7 460.0 C257.2 453.9 258.3 440.6 260.0 431.7 C261.7 422.8 264.2 413.6 266.7 406.7 C269.2 399.8 272.2 395.0 275.0 390.0 C277.8 385.0 280.2 381.1 283.3 376.7 C286.4 372.2 289.4 368.0 293.3 363.3 C297.2 358.6 302.0 352.7 306.7 348.3 C311.4 343.9 316.7 340.0 321.7 336.7 C326.7 333.4 332.0 330.7 336.7 328.3 C341.4 325.9 345.0 324.0 350.0 322.5 C355.0 321.0 361.1 319.9 366.7 319.2 C372.2 318.4 377.8 318.1 383.3 318.0 C388.9 317.9 394.4 318.0 400.0 318.3 C405.6 318.6 411.1 319.0 416.7 319.7 C422.2 320.4 426.4 320.9 433.3 322.5 C440.2 324.1 450.8 327.2 457.8 329.6 C464.9 332.0 469.7 333.8 475.6 336.7 C481.5 339.6 488.0 343.8 493.3 347.3 C498.6 350.9 503.2 354.1 507.6 358.0 C512.1 361.9 516.5 365.9 520.0 370.4 C523.5 374.8 526.2 379.9 528.9 384.7 C531.6 389.4 533.9 393.6 536.0 398.9 C538.1 404.2 539.8 410.8 541.3 416.7 C542.8 422.6 544.0 428.5 544.9 434.4 C545.8 440.3 546.3 446.6 546.7 452.2 C547.1 457.8 547.6 461.1 547.5 468.0 C547.4 474.9 546.6 486.3 545.8 493.3 C545.0 500.3 544.0 504.4 542.5 510.0 C541.0 515.6 539.1 521.7 536.7 526.7 C534.3 531.7 531.4 535.8 528.3 540.0 C525.2 544.2 521.9 547.8 518.3 551.7 C514.7 555.6 510.9 559.7 506.7 563.3 C502.5 566.9 497.8 570.1 493.3 573.3 C488.9 576.5 484.7 579.9 480.0 582.5 C475.3 585.1 470.0 587.2 465.0 589.2 C460.0 591.2 455.6 592.8 450.0 594.5 C444.4 596.2 437.6 598.3 431.3 599.6 C425.0 600.9 418.7 601.9 412.4 602.4 C406.1 602.9 399.8 603.1 393.5 602.8 C387.2 602.5 380.9 601.8 374.6 600.5 C368.3 599.2 362.1 597.4 355.8 594.9 C349.5 592.4 342.9 588.9 336.9 585.4 C330.9 581.9 325.2 578.2 319.9 574.1 C314.5 570.0 309.7 565.6 304.8 560.9 C299.9 556.2 295.0 551.1 290.6 545.8 C286.2 540.4 282.1 534.5 278.3 528.8 C274.5 523.1 271.0 518.4 267.9 511.8 C264.8 505.2 261.2 496.4 259.4 489.1 C257.6 481.9 257.6 473.2 257.2 468.3 C256.8 463.4 256.2 466.1 256.7 460.0Z"/><path d="M290.8 460.0 C291.4 455.4 292.9 443.9 295.0 436.7 C297.1 429.5 299.7 422.8 303.3 416.7 C306.9 410.6 312.2 405.0 316.7 400.0 C321.1 395.0 325.6 390.6 330.0 386.7 C334.4 382.8 338.9 380.0 343.3 376.7 C347.8 373.4 351.7 369.8 356.7 366.7 C361.7 363.6 367.8 360.7 373.3 358.3 C378.9 355.9 384.4 354.0 390.0 352.5 C395.6 351.0 401.1 349.9 406.7 349.2 C412.2 348.5 417.8 348.4 423.3 348.3 C428.9 348.2 434.2 348.1 440.0 348.5 C445.8 348.9 451.9 349.5 457.8 350.9 C463.7 352.3 470.3 354.7 475.6 357.1 C480.9 359.5 485.4 362.0 489.8 365.1 C494.2 368.2 498.4 372.2 502.2 375.8 C506.0 379.4 509.9 382.5 512.9 386.4 C515.9 390.2 517.6 393.8 520.0 398.9 C522.4 403.9 525.2 410.8 527.1 416.7 C529.0 422.6 530.4 428.5 531.6 434.4 C532.8 440.3 533.6 446.6 534.2 452.2 C534.8 457.8 535.1 461.1 535.0 468.0 C534.9 474.9 534.4 486.3 533.3 493.3 C532.2 500.3 530.2 505.0 528.3 510.0 C526.4 515.0 524.5 518.8 521.7 523.3 C518.9 527.8 515.3 532.8 511.7 536.7 C508.1 540.6 504.2 543.5 500.0 546.7 C495.8 549.9 491.4 553.0 486.7 555.8 C482.0 558.6 476.7 560.9 471.7 563.3 C466.7 565.7 462.0 568.0 456.7 570.0 C451.4 572.0 444.2 573.9 440.0 575.0 C435.8 576.1 435.9 576.2 431.3 576.9 C426.7 577.6 418.7 579.1 412.4 579.4 C406.1 579.6 399.8 579.4 393.5 578.4 C387.2 577.4 380.9 575.7 374.6 573.1 C368.3 570.5 361.8 566.7 355.8 562.8 C349.8 558.9 344.2 554.2 338.8 549.5 C333.4 544.8 328.4 539.4 323.7 534.4 C319.0 529.4 314.3 524.6 310.4 519.3 C306.4 513.9 302.8 508.3 300.0 502.3 C297.2 496.3 294.9 489.7 293.4 483.4 C291.9 477.1 291.6 468.5 291.2 464.6 C290.8 460.7 290.2 464.6 290.8 460.0Z"/></g>
<path d="M394.5 395.0 C413.8 406.3 472.2 439.8 510.2 462.8 C548.1 485.8 596.7 516.5 622.2 532.8 C647.7 549.1 652.1 553.4 663.1 560.8 C674.1 568.2 679.3 571.1 688.0 577.1 C696.7 583.1 706.4 590.0 715.2 596.5 C724.0 603.0 730.7 607.8 740.9 616.0 C751.1 624.2 767.8 637.7 776.6 645.5 C785.4 653.3 790.1 658.2 793.7 662.6 C797.3 667.0 797.6 670.4 798.4 672.0" fill="none" stroke="#ff5a3c" stroke-width="1.8"/>
<path d="M86.5 256.2 C87.5 256.1 88.8 255.2 92.7 255.7 C96.6 256.2 104.0 257.5 110.0 259.3 C116.0 261.1 123.4 264.5 128.7 266.7 C134.0 268.9 136.2 270.0 142.0 272.7 C147.8 275.4 156.4 279.5 163.3 282.7 C170.2 285.9 176.6 288.9 183.3 292.0 C190.0 295.1 196.4 297.9 203.3 301.3 C210.2 304.7 219.9 309.8 225.0 312.5 C230.1 315.2 216.6 308.2 234.0 317.5 C251.4 326.8 313.4 359.6 329.2 368.0" fill="none" stroke="#ff5a3c" stroke-width="1.8"/>
<path d="M234 317.5L329.25 368" fill="none" stroke="#ff5a3c" stroke-width="4"/>
<path d="M79.5 260.5 C79.8 259.9 80.6 257.9 81.5 257.0 C82.4 256.1 83.3 255.7 84.7 255.3 C86.1 254.9 86.9 254.3 90.0 254.4 C93.1 254.5 100.0 255.4 103.3 256.0 C106.6 256.6 106.7 256.9 110.0 258.0 C113.3 259.1 117.8 260.8 123.3 262.7 C128.8 264.6 136.9 266.9 143.3 269.3 C149.8 271.7 155.3 274.3 162.0 277.3 C168.7 280.3 176.4 284.1 183.3 287.3 C190.2 290.5 196.4 293.6 203.3 296.7 C210.2 299.8 216.9 302.0 225.0 305.8 C233.1 309.5 238.5 312.4 252.0 319.2 C265.5 326.1 287.5 337.1 306.0 347.0 C324.5 356.9 349.0 370.7 363.0 378.5 C377.0 386.3 383.0 390.1 390.0 394.0 C397.0 397.9 390.2 393.0 405.0 401.8 C419.8 410.5 457.1 433.4 478.7 446.5 C500.3 459.6 516.0 468.5 534.7 480.3 C553.4 492.1 569.8 503.4 590.7 517.5 C611.6 531.6 643.5 553.3 660.0 564.7 C676.5 576.1 679.1 578.2 689.5 585.7 C699.9 593.2 710.5 600.6 722.2 609.8 C733.9 619.0 750.2 632.9 759.5 640.9 C768.8 648.9 772.8 652.3 778.2 658.0 C783.7 663.7 789.5 671.0 792.2 675.1 C794.9 679.2 794.1 681.6 794.5 682.9" fill="none" stroke="#0000ff" stroke-width="2"/>
<path d="M97.3 256.0h12.0M103.3 250.0v12.0M156.0 277.3h12.0M162.0 271.3v12.0M246.0 319.2h12.0M252.0 313.2v12.0M357.0 378.5h12.0M363.0 372.5v12.0M472.7 446.5h12.0M478.7 440.5v12.0M584.7 517.7h12.0M590.7 511.7v12.0M683.5 585.7h12.0M689.5 579.7v12.0M753.5 640.9h12.0M759.5 634.9v12.0M786.2 675.1h12.0M792.2 669.1v12.0" fill="none" stroke="#0000ff" stroke-width="1.2"/>
<path d="M86.7 255.7h12.0M92.7 249.7v12.0M136.0 272.7h12.0M142.0 266.7v12.0M219.3 312.3h12.0M225.3 306.3v12.0M504.2 462.8h12.0M510.2 456.8v12.0M616.2 532.8h12.0M622.2 526.8v12.0M709.2 596.5h12.0M715.2 590.5v12.0M770.6 645.5h12.0M776.6 639.5v12.0M792.4 672.0h12.0M798.4 666.0v12.0" fill="none" stroke="#ff5a3c" stroke-width="1.2"/>
<path d="M321.3 368.6h16.0M329.3 360.6v16.0M323.5 362.8l11.5 11.5M323.5 374.4l11.5 -11.5" fill="none" stroke="#ff5a3c" stroke-width="1.2"/>
<path d="M394.5 388.0l7.0 7.0l-7.0 7.0l-7.0 -7.0ZM389.5 390l10 10M389.5 400l10 -10" fill="none" stroke="#ff5a3c" stroke-width="1.3"/>
<path d="M591 509.3L598.7 525.3H583.4Z" fill="none" stroke="#0000ff" stroke-width="1.2"/>
</g>
<path d="M6.5 35.5H864.5V895.5H6.5Z" fill="none" stroke="#000" stroke-width="1"/>
<path d="M864.5 37.5H1200M864.5 323.5H1200M864.5 609.5H1200M864.5 895.5H1200" stroke="#000" stroke-width="1" fill="none"/>
<g font-family="Liberation Sans, Arial, sans-serif"><text transform="scale(0.9625,1)" x="10.08" y="50.0" fill="#0000ff" font-size="10.8" textLength="48.00" lengthAdjust="spacing">ELFIN (A)</text>
<text transform="scale(1.0238,1)" x="9.47" y="62.4" fill="#000" font-size="10.8" textLength="116.72" lengthAdjust="spacing">Tspin=2.81s[21.31RPM]</text>
<text transform="scale(1.0347,1)" x="9.37" y="74.8" fill="#000" font-size="10.8" textLength="73.35" lengthAdjust="spacing">Torb=91.80min</text>
<text transform="scale(1.0525,1)" x="9.22" y="87.3" fill="#000" font-size="10.8" textLength="110.50" lengthAdjust="spacing">B/SP: (NA/ND/SD/SA)</text>
<text transform="scale(1.1985,1)" x="8.09" y="99.7" fill="#000" font-size="10.8" textLength="100.87" lengthAdjust="spacing">OBO: -53/-5/-48/-3</text>
<text transform="scale(1.1519,1)" x="8.42" y="112.1" fill="#000" font-size="10.8" textLength="97.58" lengthAdjust="spacing">IBO: -21/23/-30/18</text>
<text transform="scale(1.0538,1)" x="9.20" y="124.5" fill="#000" font-size="10.8" textLength="136.17" lengthAdjust="spacing">S: [-0.476,0.595,0.646] GEI</text>
<text transform="scale(1.0530,1)" x="9.21" y="136.9" fill="#000" font-size="10.8" textLength="140.45" lengthAdjust="spacing">S: [0.850,-0.386,0.356] GSE</text>
<text transform="scale(1.0540,1)" x="9.20" y="149.4" fill="#000" font-size="10.8" textLength="100.67" lengthAdjust="spacing">S w/Sun, deg: 31.53</text>
<text transform="scale(1.0478,1)" x="9.26" y="161.8" fill="#000" font-size="10.8" textLength="126.27" lengthAdjust="spacing">S w/OrbNorm, deg: 55.86</text>
<text transform="scale(1.0721,1)" x="9.05" y="174.2" fill="#000" font-size="10.8" textLength="118.37" lengthAdjust="spacing">Att.Sol@2020-08-17/06</text>
<text transform="scale(1.0264,1)" x="9.45" y="186.6" fill="#000" font-size="10.8" textLength="84.86" lengthAdjust="spacing">Altitude: 452.7km</text>
<text transform="scale(0.9812,1)" x="9.89" y="749.7" fill="#ff5a3c" font-size="10.8" textLength="48.00" lengthAdjust="spacing">ELFIN (B)</text>
<text transform="scale(1.0218,1)" x="9.49" y="762.1" fill="#000" font-size="10.8" textLength="116.56" lengthAdjust="spacing">Tspin=2.85s[21.01RPM]</text>
<text transform="scale(1.0347,1)" x="9.37" y="774.5" fill="#000" font-size="10.8" textLength="73.35" lengthAdjust="spacing">Torb=91.93min</text>
<text transform="scale(1.0525,1)" x="9.22" y="786.9" fill="#000" font-size="10.8" textLength="110.50" lengthAdjust="spacing">B/SP: (NA/ND/SD/SA)</text>
<text transform="scale(1.1542,1)" x="8.40" y="799.3" fill="#000" font-size="10.8" textLength="90.45" lengthAdjust="spacing">OBO: -19/9/-22/5</text>
<text transform="scale(1.1519,1)" x="8.42" y="811.7" fill="#000" font-size="10.8" textLength="97.58" lengthAdjust="spacing">IBO: -21/23/-29/13</text>
<text transform="scale(1.0767,1)" x="9.01" y="824.1" fill="#000" font-size="10.8" textLength="140.98" lengthAdjust="spacing">S: [-0.404,-0.907,0.115] GEI</text>
<text transform="scale(1.0568,1)" x="9.18" y="836.5" fill="#000" font-size="10.8" textLength="139.96" lengthAdjust="spacing">S: [-0.117,0.876,0.356] GSE</text>
<text transform="scale(1.0540,1)" x="9.20" y="848.9" fill="#000" font-size="10.8" textLength="100.67" lengthAdjust="spacing">S w/Sun, deg: 97.00</text>
<text transform="scale(1.0459,1)" x="9.27" y="861.3" fill="#000" font-size="10.8" textLength="126.12" lengthAdjust="spacing">S w/OrbNorm, deg: 156.2</text>
<text transform="scale(1.0791,1)" x="8.99" y="873.7" fill="#000" font-size="10.8" textLength="125.20" lengthAdjust="spacing">Att.Sol@: 2020-08-19/06</text>
<text transform="scale(1.0264,1)" x="9.45" y="886.1" fill="#000" font-size="10.8" textLength="84.86" lengthAdjust="spacing">Altitude: 452.0km</text>
<text transform="scale(1.0302,1)" x="645.86" y="50.0" fill="#000" font-size="10.8" textLength="188.30" lengthAdjust="spacing">Earth/Oval View Center Time (triangle)</text>
<text transform="scale(1.0419,1)" x="652.58" y="62.3" fill="#000" font-size="10.8" textLength="171.42" lengthAdjust="spacing">Thick - Science (FGM and/or EPD)</text>
<text transform="scale(1.0665,1)" x="645.40" y="74.5" fill="#000" font-size="10.8" textLength="160.44" lengthAdjust="spacing">Geo Lat/Lon - Black dotted lines</text>
<text transform="scale(1.0654,1)" x="652.44" y="86.8" fill="#ff0000" font-size="10.8" textLength="148.96" lengthAdjust="spacing">SM Lat/Lon - Red dotted lines</text>
<text transform="scale(1.0370,1)" x="698.64" y="99.4" fill="#00ff00" font-size="10.8" textLength="126.32" lengthAdjust="spacing">Auroral Oval-Green, kp=2</text>
<text x="735.4" y="111.6" fill="#e070e0" font-size="10.8" textLength="114.4" lengthAdjust="spacing">EISCAT-Purple Triangle</text>
<text transform="scale(1.0298,1)" x="723.04" y="124.4" fill="#000" font-size="10.8" textLength="109.73" lengthAdjust="spacing">Tick Marks every 5min</text>
<text transform="scale(1.0377,1)" x="728.08" y="136.6" fill="#000" font-size="10.8" textLength="98.40" lengthAdjust="spacing">Start Time-Diamond</text>
<text transform="scale(1.0332,1)" x="740.52" y="149.4" fill="#000" font-size="10.8" textLength="89.53" lengthAdjust="spacing">End Time-Asterisk</text>
<text x="770.0" y="161.7" fill="#4cb04c" font-size="10.8" textLength="92.0" lengthAdjust="spacing">VLF-Green Square</text>
<text transform="scale(1.0321,1)" x="658.98" y="874.5" fill="#000" font-size="10.8" textLength="87.01" lengthAdjust="spacing">Tsyganenko-1996</text>
<text transform="scale(1.0425,1)" x="652.38" y="886.7" fill="#000" font-size="10.8" textLength="174.68" lengthAdjust="spacing">Created: Tue Jan 24 10:14:13 2023</text>
<text transform="scale(1.1483,1)" x="147.53" y="29.3" fill="#000" font-size="14.0" textLength="462.52" lengthAdjust="spacing">Southern Solar Magnetic Footprints 2020-08-17 14:00 to 15:30 UTC</text>
<text transform="scale(1.0833,1)" x="929.95" y="28.8" fill="#000" font-size="16.0" textLength="62.86" lengthAdjust="spacing">SM orbit</text>
<text transform="scale(1.1070,1)" x="363.60" y="57.7" fill="#000" font-size="14.5" textLength="38.84" lengthAdjust="spacing">06:00</text>
<text transform="scale(1.0805,1)" x="737.90" y="482.6" fill="#000" font-size="14.5" textLength="38.22" lengthAdjust="spacing">12:00</text>
<text transform="scale(1.0915,1)" x="369.69" y="883.0" fill="#000" font-size="14.5" textLength="38.48" lengthAdjust="spacing">18:00</text>
<text transform="scale(1.1039,1)" x="11.32" y="482.8" fill="#000" font-size="14.5" textLength="38.77" lengthAdjust="spacing">00:00</text>
<text x="1045.3" y="57.1" font-size="13" textLength="6.9" lengthAdjust="spacingAndGlyphs">Z</text>
<text x="1045.6" y="308.2" font-size="13" textLength="12.3" lengthAdjust="spacingAndGlyphs">-</text>
<text x="1055.5" y="309.2" font-size="13" textLength="7.5" lengthAdjust="spacingAndGlyphs">Z</text>
<text x="903.3" y="172.8" font-size="13" textLength="12.3" lengthAdjust="spacingAndGlyphs">-</text>
<text x="914.9" y="173.8" font-size="13" textLength="7.5" lengthAdjust="spacingAndGlyphs">X</text>
<text x="1164.5" y="173.8" font-size="13" textLength="7.5" lengthAdjust="spacingAndGlyphs">X</text>
<text x="1044.4" y="344.7" font-size="13" textLength="7.6" lengthAdjust="spacingAndGlyphs">Y</text>
<text x="1045.6" y="595.0" font-size="13" textLength="12.3" lengthAdjust="spacingAndGlyphs">-</text>
<text x="1055.5" y="596.0" font-size="13" textLength="7.5" lengthAdjust="spacingAndGlyphs">Y</text>
<text x="903.3" y="460.4" font-size="13" textLength="12.3" lengthAdjust="spacingAndGlyphs">-</text>
<text x="914.9" y="461.4" font-size="13" textLength="7.5" lengthAdjust="spacingAndGlyphs">X</text>
<text x="1164.5" y="461.4" font-size="13" textLength="7.5" lengthAdjust="spacingAndGlyphs">X</text>
<text x="1045.3" y="632.9" font-size="13" textLength="6.9" lengthAdjust="spacingAndGlyphs">Z</text>
<text x="1045.6" y="884.2" font-size="13" textLength="12.3" lengthAdjust="spacingAndGlyphs">-</text>
<text x="1055.5" y="885.2" font-size="13" textLength="7.5" lengthAdjust="spacingAndGlyphs">Z</text>
<text x="903.3" y="749.5" font-size="13" textLength="12.3" lengthAdjust="spacingAndGlyphs">-</text>
<text x="915.5" y="750.5" font-size="13" textLength="7.5" lengthAdjust="spacingAndGlyphs">Y</text>
<text x="1164.5" y="750.5" font-size="13" textLength="7.5" lengthAdjust="spacingAndGlyphs">Y</text></g>
<path d="M901 177h1v1h-1zM905 177h1v1h-1zM909 177h1v1h-1zM913 177h1v1h-1zM917 177h1v1h-1zM921 177h1v1h-1zM925 177h1v1h-1zM929 177h1v1h-1zM933 177h1v1h-1zM937 177h1v1h-1zM941 177h1v1h-1zM945 177h1v1h-1zM949 177h1v1h-1zM953 177h1v1h-1zM957 177h1v1h-1zM961 177h1v1h-1zM965 177h1v1h-1zM969 177h1v1h-1zM973 177h1v1h-1zM977 177h1v1h-1zM981 177h1v1h-1zM985 177h1v1h-1zM989 177h1v1h-1zM993 177h1v1h-1zM997 177h1v1h-1zM1001 177h1v1h-1zM1005 177h1v1h-1zM1009 177h1v1h-1zM1013 177h1v1h-1zM1017 177h1v1h-1zM1021 177h1v1h-1zM1025 177h1v1h-1zM1029 177h1v1h-1zM1033 177h1v1h-1zM1037 177h1v1h-1zM1041 177h1v1h-1zM1045 177h1v1h-1zM1049 177h1v1h-1zM1053 177h1v1h-1zM1057 177h1v1h-1zM1061 177h1v1h-1zM1065 177h1v1h-1zM1069 177h1v1h-1zM1073 177h1v1h-1zM1077 177h1v1h-1zM1081 177h1v1h-1zM1085 177h1v1h-1zM1089 177h1v1h-1zM1093 177h1v1h-1zM1097 177h1v1h-1zM1101 177h1v1h-1zM1105 177h1v1h-1zM1109 177h1v1h-1zM1113 177h1v1h-1zM1117 177h1v1h-1zM1121 177h1v1h-1zM1125 177h1v1h-1zM1129 177h1v1h-1zM1133 177h1v1h-1zM1137 177h1v1h-1zM1141 177h1v1h-1zM1145 177h1v1h-1zM1149 177h1v1h-1zM1153 177h1v1h-1zM1157 177h1v1h-1zM1161 177h1v1h-1zM1165 177h1v1h-1zM1169 177h1v1h-1zM1173 177h1v1h-1zM1177 177h1v1h-1zM1181 177h1v1h-1zM1041 39h1v1h-1zM1041 43h1v1h-1zM1041 47h1v1h-1zM1041 51h1v1h-1zM1041 55h1v1h-1zM1041 59h1v1h-1zM1041 63h1v1h-1zM1041 67h1v1h-1zM1041 71h1v1h-1zM1041 75h1v1h-1zM1041 79h1v1h-1zM1041 83h1v1h-1zM1041 87h1v1h-1zM1041 91h1v1h-1zM1041 95h1v1h-1zM1041 99h1v1h-1zM1041 103h1v1h-1zM1041 107h1v1h-1zM1041 111h1v1h-1zM1041 115h1v1h-1zM1041 119h1v1h-1zM1041 123h1v1h-1zM1041 127h1v1h-1zM1041 131h1v1h-1zM1041 135h1v1h-1zM1041 139h1v1h-1zM1041 143h1v1h-1zM1041 147h1v1h-1zM1041 151h1v1h-1zM1041 155h1v1h-1zM1041 159h1v1h-1zM1041 163h1v1h-1zM1041 167h1v1h-1zM1041 171h1v1h-1zM1041 175h1v1h-1zM1041 179h1v1h-1zM1041 183h1v1h-1zM1041 187h1v1h-1zM1041 191h1v1h-1zM1041 195h1v1h-1zM1041 199h1v1h-1zM1041 203h1v1h-1zM1041 207h1v1h-1zM1041 211h1v1h-1zM1041 215h1v1h-1zM1041 219h1v1h-1zM1041 223h1v1h-1zM1041 227h1v1h-1zM1041 231h1v1h-1zM1041 235h1v1h-1zM1041 239h1v1h-1zM1041 243h1v1h-1zM1041 247h1v1h-1zM1041 251h1v1h-1zM1041 255h1v1h-1zM1041 259h1v1h-1zM1041 263h1v1h-1zM1041 267h1v1h-1zM1041 271h1v1h-1zM1041 275h1v1h-1zM1041 279h1v1h-1zM1041 283h1v1h-1zM1041 287h1v1h-1zM1041 291h1v1h-1zM1041 295h1v1h-1zM1041 299h1v1h-1zM1041 303h1v1h-1zM1041 307h1v1h-1zM1041 311h1v1h-1zM1041 315h1v1h-1zM1041 319h1v1h-1z" fill="#000" shape-rendering="crispEdges"/>
<circle cx="1041.5" cy="177.3" r="70.6" fill="none" stroke="#000" stroke-width="1.1"/>
<path d="M1006 177.5H1078M1041.5 140.0V214.0" stroke="#000" stroke-width="1" fill="none" shape-rendering="crispEdges"/>
<ellipse cx="1041.2" cy="177.2" rx="65.5" ry="75" fill="none" stroke="#aaaaaa" stroke-width="1.6"/>
<path d="M1028.7 103.6 L1025.3 104.5 L1021.9 105.5 L1018.5 106.8 L1015.3 108.3 L1012.1 110.0 L1008.9 111.9 L1005.9 114.0 L1003.0 116.3 L1000.2 118.7 L997.5 121.3 L994.9 124.1 L992.5 127.0 L990.2 130.1 L988.1 133.3 L986.1 136.7 L984.3 140.1 L982.6 143.7 L981.1 147.3 L979.8 151.1 L978.7 154.9 L977.7 158.8 L976.9 162.7 L976.3 166.7 L975.9 170.7 L975.7 174.7 L975.7 178.8 L975.9 182.8 L976.2 186.8 L976.8 190.8 L977.5 194.8 L978.4 198.7 L979.5 202.5 L980.8 206.3 L982.3 209.9 L983.9 213.5 L985.7 217.0 L987.6 220.4 L989.7 223.6 L992.0 226.7 L994.4 229.7 L996.9 232.5 L999.6 235.1 L1002.4 237.6 L1005.3 239.9 L1008.3 242.0 L1011.4 244.0 L1014.5 245.7 L1017.8 247.3 L1021.1 248.6 L1024.5 249.7 L1027.9 250.6 L1031.4 251.4 L1034.9 251.9 L1038.4 252.1 L1042.0 252.2 L1045.5 252.0 L1049.0 251.7 L1052.5 251.1 L1055.9 250.3" fill="none" stroke="#0000ff" stroke-width="1.8"/>
<path d="M1014.1 105.6h7.0M1017.6 102.1v7.0M1015.1 103.1l5.0 5.0M1015.1 108.1l5.0 -5.0M1006.0 107.8l2.6 2.6l-2.6 2.6l-2.6 -2.6ZM1071.4 241.0l4.0 6.9h-8.0Z" fill="none" stroke="#0000ff" stroke-width="1"/><path d="M1018.9 248.4h7.0M1022.4 244.9v7.0M1019.9 245.9l5.0 5.0M1019.9 250.9l5.0 -5.0M1034.6 249.0l2.6 2.6l-2.6 2.6l-2.6 -2.6ZM1054.4 99.5l4.0 6.9h-8.0Z" fill="none" stroke="#ff5a3c" stroke-width="1"/>
<path d="M901 465h1v1h-1zM905 465h1v1h-1zM909 465h1v1h-1zM913 465h1v1h-1zM917 465h1v1h-1zM921 465h1v1h-1zM925 465h1v1h-1zM929 465h1v1h-1zM933 465h1v1h-1zM937 465h1v1h-1zM941 465h1v1h-1zM945 465h1v1h-1zM949 465h1v1h-1zM953 465h1v1h-1zM957 465h1v1h-1zM961 465h1v1h-1zM965 465h1v1h-1zM969 465h1v1h-1zM973 465h1v1h-1zM977 465h1v1h-1zM981 465h1v1h-1zM985 465h1v1h-1zM989 465h1v1h-1zM993 465h1v1h-1zM997 465h1v1h-1zM1001 465h1v1h-1zM1005 465h1v1h-1zM1009 465h1v1h-1zM1013 465h1v1h-1zM1017 465h1v1h-1zM1021 465h1v1h-1zM1025 465h1v1h-1zM1029 465h1v1h-1zM1033 465h1v1h-1zM1037 465h1v1h-1zM1041 465h1v1h-1zM1045 465h1v1h-1zM1049 465h1v1h-1zM1053 465h1v1h-1zM1057 465h1v1h-1zM1061 465h1v1h-1zM1065 465h1v1h-1zM1069 465h1v1h-1zM1073 465h1v1h-1zM1077 465h1v1h-1zM1081 465h1v1h-1zM1085 465h1v1h-1zM1089 465h1v1h-1zM1093 465h1v1h-1zM1097 465h1v1h-1zM1101 465h1v1h-1zM1105 465h1v1h-1zM1109 465h1v1h-1zM1113 465h1v1h-1zM1117 465h1v1h-1zM1121 465h1v1h-1zM1125 465h1v1h-1zM1129 465h1v1h-1zM1133 465h1v1h-1zM1137 465h1v1h-1zM1141 465h1v1h-1zM1145 465h1v1h-1zM1149 465h1v1h-1zM1153 465h1v1h-1zM1157 465h1v1h-1zM1161 465h1v1h-1zM1165 465h1v1h-1zM1169 465h1v1h-1zM1173 465h1v1h-1zM1177 465h1v1h-1zM1181 465h1v1h-1zM1041 325h1v1h-1zM1041 329h1v1h-1zM1041 333h1v1h-1zM1041 337h1v1h-1zM1041 341h1v1h-1zM1041 345h1v1h-1zM1041 349h1v1h-1zM1041 353h1v1h-1zM1041 357h1v1h-1zM1041 361h1v1h-1zM1041 365h1v1h-1zM1041 369h1v1h-1zM1041 373h1v1h-1zM1041 377h1v1h-1zM1041 381h1v1h-1zM1041 385h1v1h-1zM1041 389h1v1h-1zM1041 393h1v1h-1zM1041 397h1v1h-1zM1041 401h1v1h-1zM1041 405h1v1h-1zM1041 409h1v1h-1zM1041 413h1v1h-1zM1041 417h1v1h-1zM1041 421h1v1h-1zM1041 425h1v1h-1zM1041 429h1v1h-1zM1041 433h1v1h-1zM1041 437h1v1h-1zM1041 441h1v1h-1zM1041 445h1v1h-1zM1041 449h1v1h-1zM1041 453h1v1h-1zM1041 457h1v1h-1zM1041 461h1v1h-1zM1041 465h1v1h-1zM1041 469h1v1h-1zM1041 473h1v1h-1zM1041 477h1v1h-1zM1041 481h1v1h-1zM1041 485h1v1h-1zM1041 489h1v1h-1zM1041 493h1v1h-1zM1041 497h1v1h-1zM1041 501h1v1h-1zM1041 505h1v1h-1zM1041 509h1v1h-1zM1041 513h1v1h-1zM1041 517h1v1h-1zM1041 521h1v1h-1zM1041 525h1v1h-1zM1041 529h1v1h-1zM1041 533h1v1h-1zM1041 537h1v1h-1zM1041 541h1v1h-1zM1041 545h1v1h-1zM1041 549h1v1h-1zM1041 553h1v1h-1zM1041 557h1v1h-1zM1041 561h1v1h-1zM1041 565h1v1h-1zM1041 569h1v1h-1zM1041 573h1v1h-1zM1041 577h1v1h-1zM1041 581h1v1h-1zM1041 585h1v1h-1zM1041 589h1v1h-1zM1041 593h1v1h-1zM1041 597h1v1h-1zM1041 601h1v1h-1zM1041 605h1v1h-1z" fill="#000" shape-rendering="crispEdges"/>
<circle cx="1041.5" cy="465.1" r="70.6" fill="none" stroke="#000" stroke-width="1.1"/>
<path d="M1006 465.5H1078M1041.5 428.0V502.0" stroke="#000" stroke-width="1" fill="none" shape-rendering="crispEdges"/>
<path d="M1106.5 426.6 L1106.6 426.9 L1106.5 427.4 L1106.2 428.0 L1105.8 428.6 L1105.1 429.4 L1104.3 430.3 L1103.3 431.3 L1102.2 432.3 L1100.9 433.5 L1099.4 434.8 L1097.7 436.1 L1095.9 437.5 L1093.9 439.0 L1091.8 440.6 L1089.6 442.3 L1087.2 444.0 L1084.7 445.7 L1082.1 447.6 L1079.3 449.5 L1076.5 451.4 L1073.6 453.3 L1070.5 455.3 L1067.4 457.4 L1064.2 459.4 L1061.0 461.5 L1057.7 463.6 L1054.3 465.6 L1050.9 467.7 L1047.5 469.8 L1044.1 471.9 L1040.7 473.9 L1037.2 475.9 L1033.8 477.9 L1030.4 479.9 L1027.0 481.8 L1023.7 483.7 L1020.4 485.5 L1017.2 487.3 L1014.1 489.0 L1011.0 490.6 L1008.0 492.2 L1005.1 493.7 L1002.3 495.1 L999.6 496.5 L997.0 497.7 L994.6 498.9 L992.3 500.0 L990.1 500.9 L988.1 501.8 L986.2 502.6 L984.5 503.3 L982.9 503.8 L981.5 504.3 L980.2 504.6 L979.2 504.9 L978.3 505.0 L977.5 505.1 L977.0 505.0 L976.6 504.8 L976.5 504.5 L976.5 504.1 L976.6 503.5 L977.0 502.9 L977.5 502.2 L978.3 501.4 L979.2 500.4 L980.2 499.4 L981.5 498.3 L982.9 497.1 L984.4 495.8 L986.2 494.4 L988.1 492.9 L990.1 491.4 L992.3 489.8 L994.6 488.1 L997.0 486.3 L999.6 484.5 L1002.3 482.7 L1005.1 480.8 L1008.0 478.8 L1011.0 476.9 L1014.0 474.9 L1017.2 472.8 L1020.4 470.8 L1023.7 468.7 L1027.0 466.6 L1030.4 464.5 L1033.8 462.4 L1037.2 460.4 L1040.6 458.3 L1044.1 456.3 L1047.5 454.3 L1050.9 452.3 L1054.3 450.3 L1057.6 448.4 L1060.9 446.6 L1064.2 444.8 L1067.4 443.1 L1070.5 441.4 L1073.5 439.8 L1076.5 438.2 L1079.3 436.8 L1082.1 435.4 L1084.7 434.1 L1087.2 432.9 L1089.6 431.8 L1091.8 430.7 L1093.9 429.8 L1095.9 429.0 L1097.7 428.3 L1099.3 427.6 L1100.8 427.1 L1102.2 426.7 L1103.3 426.4 L1104.3 426.2 L1105.1 426.1 L1105.7 426.2 L1106.2 426.3 L1106.5 426.6" fill="none" stroke="#aaaaaa" stroke-width="1.7"/>
<path d="M981.2 498.6 L982.2 497.6 L983.4 496.6 L984.6 495.6 L986.0 494.5 L987.4 493.4 L989.0 492.2 L990.6 491.0 L992.4 489.7 L994.2 488.4 L996.0 487.0 L998.0 485.6 L1000.1 484.2 L1002.2 482.8 L1004.3 481.3 L1006.6 479.8 L1008.9 478.2 L1011.3 476.7 L1013.7 475.1 L1016.1 473.5 L1018.6 471.9 L1021.2 470.3 L1023.7 468.6 L1026.4 467.0 L1029.0 465.4 L1031.6 463.7 L1034.3 462.1 L1037.0 460.5 L1039.7 458.9 L1042.4 457.3 L1045.1 455.7 L1047.8 454.1 L1050.4 452.6 L1053.1 451.0 L1055.7 449.5 L1058.4 448.0 L1060.9 446.6 L1063.5 445.2 L1066.0 443.8 L1068.5 442.5 L1070.9 441.2 L1073.3 439.9 L1075.6 438.7 L1077.9 437.5 L1080.1 436.4 L1082.2 435.3 L1084.3 434.3 L1086.3 433.3 L1088.2 432.4 L1090.0 431.6 L1091.8 430.8 L1093.4 430.0 L1095.0 429.3 L1096.5 428.7 L1097.9 428.2 L1099.2 427.7 L1100.4 427.3 L1101.5 426.9 L1102.5 426.6 L1103.4 426.4" fill="none" stroke="#ff5a3c" stroke-width="1.3" transform="translate(-0.6,-1)"/><path d="M976.5 504.6 L976.4 504.3 L976.5 503.8 L976.8 503.2 L977.3 502.5 L977.9 501.8 L978.7 500.9 L979.7 499.9 L980.9 498.8 L982.3 497.6 L983.8 496.3 L985.4 495.0 L987.3 493.5 L989.3 492.0 L991.4 490.4 L993.7 488.7 L996.1 487.0 L998.7 485.2 L1001.3 483.3 L1004.1 481.4 L1007.0 479.5 L1010.0 477.5 L1013.1 475.5 L1016.2 473.4 L1019.4 471.4 L1022.7 469.3 L1026.1 467.2 L1029.5 465.1 L1032.9 463.0 L1036.3 460.9 L1039.8 458.8 L1043.2 456.8 L1046.7 454.7 L1050.1 452.7 L1053.6 450.8 L1057.0 448.8 L1060.3 447.0 L1063.6 445.1 L1066.8 443.4 L1070.0 441.7 L1073.0 440.0 L1076.0 438.5 L1078.9 437.0 L1081.7 435.6 L1084.4 434.2 L1086.9 433.0 L1089.3 431.9 L1091.6 430.8 L1093.7 429.9 L1095.7 429.0 L1097.6 428.3 L1099.2 427.7 L1100.8 427.1 L1102.1 426.7 L1103.3 426.4 L1104.3 426.2 L1105.1 426.1 L1105.7 426.2 L1106.2 426.3 L1106.5 426.6" fill="none" stroke="#0000ff" stroke-width="1.8"/>
<path d="M1014.4 472.8h7.0M1017.9 469.3v7.0M1015.4 470.3l5.0 5.0M1015.4 475.3l5.0 -5.0M1006.2 474.6l2.8 2.8l-2.8 2.8l-2.8 -2.8ZM1071.2 448.5l4.0 6.9h-8.0Z" fill="none" stroke="#0000ff" stroke-width="1"/><path d="M1019.1 482.9h7.0M1022.6 479.4v7.0M1020.1 480.4l5.0 5.0M1020.1 485.4l5.0 -5.0M1035.0 475.8l2.8 2.8l-2.8 2.8l-2.8 -2.8ZM1054.8 443.2l4.0 6.9h-8.0Z" fill="none" stroke="#ff5a3c" stroke-width="1"/>
<path d="M901 753h1v1h-1zM905 753h1v1h-1zM909 753h1v1h-1zM913 753h1v1h-1zM917 753h1v1h-1zM921 753h1v1h-1zM925 753h1v1h-1zM929 753h1v1h-1zM933 753h1v1h-1zM937 753h1v1h-1zM941 753h1v1h-1zM945 753h1v1h-1zM949 753h1v1h-1zM953 753h1v1h-1zM957 753h1v1h-1zM961 753h1v1h-1zM965 753h1v1h-1zM969 753h1v1h-1zM973 753h1v1h-1zM977 753h1v1h-1zM981 753h1v1h-1zM985 753h1v1h-1zM989 753h1v1h-1zM993 753h1v1h-1zM997 753h1v1h-1zM1001 753h1v1h-1zM1005 753h1v1h-1zM1009 753h1v1h-1zM1013 753h1v1h-1zM1017 753h1v1h-1zM1021 753h1v1h-1zM1025 753h1v1h-1zM1029 753h1v1h-1zM1033 753h1v1h-1zM1037 753h1v1h-1zM1041 753h1v1h-1zM1045 753h1v1h-1zM1049 753h1v1h-1zM1053 753h1v1h-1zM1057 753h1v1h-1zM1061 753h1v1h-1zM1065 753h1v1h-1zM1069 753h1v1h-1zM1073 753h1v1h-1zM1077 753h1v1h-1zM1081 753h1v1h-1zM1085 753h1v1h-1zM1089 753h1v1h-1zM1093 753h1v1h-1zM1097 753h1v1h-1zM1101 753h1v1h-1zM1105 753h1v1h-1zM1109 753h1v1h-1zM1113 753h1v1h-1zM1117 753h1v1h-1zM1121 753h1v1h-1zM1125 753h1v1h-1zM1129 753h1v1h-1zM1133 753h1v1h-1zM1137 753h1v1h-1zM1141 753h1v1h-1zM1145 753h1v1h-1zM1149 753h1v1h-1zM1153 753h1v1h-1zM1157 753h1v1h-1zM1161 753h1v1h-1zM1165 753h1v1h-1zM1169 753h1v1h-1zM1173 753h1v1h-1zM1177 753h1v1h-1zM1181 753h1v1h-1zM1041 611h1v1h-1zM1041 615h1v1h-1zM1041 619h1v1h-1zM1041 623h1v1h-1zM1041 627h1v1h-1zM1041 631h1v1h-1zM1041 635h1v1h-1zM1041 639h1v1h-1zM1041 643h1v1h-1zM1041 647h1v1h-1zM1041 651h1v1h-1zM1041 655h1v1h-1zM1041 659h1v1h-1zM1041 663h1v1h-1zM1041 667h1v1h-1zM1041 671h1v1h-1zM1041 675h1v1h-1zM1041 679h1v1h-1zM1041 683h1v1h-1zM1041 687h1v1h-1zM1041 691h1v1h-1zM1041 695h1v1h-1zM1041 699h1v1h-1zM1041 703h1v1h-1zM1041 707h1v1h-1zM1041 711h1v1h-1zM1041 715h1v1h-1zM1041 719h1v1h-1zM1041 723h1v1h-1zM1041 727h1v1h-1zM1041 731h1v1h-1zM1041 735h1v1h-1zM1041 739h1v1h-1zM1041 743h1v1h-1zM1041 747h1v1h-1zM1041 751h1v1h-1zM1041 755h1v1h-1zM1041 759h1v1h-1zM1041 763h1v1h-1zM1041 767h1v1h-1zM1041 771h1v1h-1zM1041 775h1v1h-1zM1041 779h1v1h-1zM1041 783h1v1h-1zM1041 787h1v1h-1zM1041 791h1v1h-1zM1041 795h1v1h-1zM1041 799h1v1h-1zM1041 803h1v1h-1zM1041 807h1v1h-1zM1041 811h1v1h-1zM1041 815h1v1h-1zM1041 819h1v1h-1zM1041 823h1v1h-1zM1041 827h1v1h-1zM1041 831h1v1h-1zM1041 835h1v1h-1zM1041 839h1v1h-1zM1041 843h1v1h-1zM1041 847h1v1h-1zM1041 851h1v1h-1zM1041 855h1v1h-1zM1041 859h1v1h-1zM1041 863h1v1h-1zM1041 867h1v1h-1zM1041 871h1v1h-1zM1041 875h1v1h-1zM1041 879h1v1h-1zM1041 883h1v1h-1zM1041 887h1v1h-1zM1041 891h1v1h-1z" fill="#000" shape-rendering="crispEdges"/>
<circle cx="1041.5" cy="753.6" r="70.6" fill="none" stroke="#000" stroke-width="1.1"/>
<path d="M1006 753.5H1078M1041.5 716.0V790.0" stroke="#000" stroke-width="1" fill="none" shape-rendering="crispEdges"/>
<path d="M1079.0 756.4 L1078.6 760.4 L1078.2 764.4 L1077.6 768.3 L1077.0 772.2 L1076.2 776.1 L1075.4 779.8 L1074.4 783.5 L1073.3 787.2 L1072.2 790.7 L1071.0 794.1 L1069.6 797.4 L1068.2 800.6 L1066.8 803.7 L1065.2 806.6 L1063.6 809.4 L1061.9 812.0 L1060.2 814.5 L1058.4 816.8 L1056.5 818.9 L1054.6 820.8 L1052.7 822.5 L1050.7 824.1 L1048.7 825.4 L1046.7 826.6 L1044.7 827.5 L1042.6 828.3 L1040.6 828.8 L1038.5 829.1 L1036.5 829.2 L1034.4 829.2 L1032.4 828.8 L1030.4 828.3 L1028.5 827.6 L1026.5 826.7 L1024.6 825.5 L1022.8 824.2 L1021.0 822.7 L1019.2 820.9 L1017.5 819.0 L1015.9 816.9 L1014.4 814.7 L1012.9 812.2 L1011.5 809.6 L1010.1 806.9 L1008.9 803.9 L1007.7 800.9 L1006.7 797.7 L1005.7 794.4 L1004.8 791.0 L1004.1 787.5 L1003.4 783.9 L1002.8 780.2 L1002.4 776.4 L1002.0 772.5 L1001.8 768.6 L1001.6 764.7 L1001.6 760.7 L1001.7 756.8 L1001.9 752.8 L1002.2 748.8 L1002.6 744.8 L1003.1 740.8 L1003.7 736.9 L1004.4 733.1 L1005.2 729.2 L1006.1 725.5 L1007.1 721.8 L1008.2 718.3 L1009.4 714.8 L1010.7 711.4 L1012.1 708.1 L1013.5 705.0 L1015.0 702.0 L1016.6 699.2 L1018.2 696.5 L1020.0 693.9 L1021.7 691.6 L1023.6 689.4 L1025.4 687.4 L1027.3 685.5 L1029.3 683.9 L1031.3 682.4 L1033.3 681.2 L1035.3 680.1 L1037.3 679.3 L1039.4 678.6 L1041.4 678.2 L1043.5 678.0 L1045.5 678.0 L1047.6 678.2 L1049.6 678.6 L1051.6 679.2 L1053.5 680.0 L1055.4 681.1 L1057.3 682.3 L1059.1 683.7 L1060.9 685.4 L1062.6 687.2 L1064.3 689.2 L1065.9 691.4 L1067.4 693.7 L1068.8 696.3 L1070.2 698.9 L1071.5 701.8 L1072.7 704.8 L1073.8 707.9 L1074.8 711.1 L1075.7 714.5 L1076.6 718.0 L1077.3 721.5 L1077.9 725.2 L1078.4 728.9 L1078.8 732.7 L1079.1 736.6 L1079.3 740.5 L1079.4 744.5 L1079.4 748.4 L1079.2 752.4 L1079.0 756.4" fill="none" stroke="#aaaaaa" stroke-width="1.7"/>
<path d="M1055.8 681.3 L1057.4 682.4 L1059.0 683.7 L1060.6 685.1 L1062.1 686.6 L1063.5 688.3 L1065.0 690.1 L1066.3 692.0 L1067.6 694.1 L1068.9 696.3 L1070.1 698.6 L1071.2 701.1 L1072.3 703.6 L1073.3 706.3 L1074.2 709.1 L1075.0 711.9 L1075.8 714.8 L1076.5 717.9 L1077.2 720.9 L1077.7 724.1 L1078.2 727.3 L1078.6 730.6 L1078.9 733.9 L1079.2 737.3 L1079.3 740.7 L1079.4 744.1 L1079.4 747.6 L1079.3 751.1 L1079.1 754.5 L1078.9 758.0 L1078.5 761.4 L1078.1 764.9 L1077.6 768.3 L1077.1 771.7 L1076.4 775.0 L1075.7 778.3 L1074.9 781.6 L1074.0 784.8 L1073.1 787.9 L1072.1 791.0 L1071.0 793.9 L1069.9 796.8 L1068.7 799.6 L1067.4 802.3 L1066.1 804.9 L1064.8 807.4 L1063.3 809.8 L1061.9 812.1 L1060.4 814.2 L1058.8 816.2 L1057.2 818.1 L1055.6 819.8 L1053.9 821.4 L1052.2 822.9 L1050.5 824.2 L1048.8 825.4 L1047.0 826.4 L1045.3 827.3 L1043.5 828.0 L1041.7 828.5" fill="none" stroke="#ff5a3c" stroke-width="1.3" transform="translate(-1.2,0)"/><path d="M1039.3 678.7 L1041.5 678.2 L1043.8 678.0 L1046.0 678.0 L1048.2 678.3 L1050.4 678.8 L1052.5 679.6 L1054.7 680.6 L1056.7 681.9 L1058.7 683.4 L1060.7 685.1 L1062.6 687.1 L1064.4 689.3 L1066.1 691.7 L1067.8 694.3 L1069.3 697.1 L1070.8 700.1 L1072.1 703.3 L1073.4 706.6 L1074.5 710.1 L1075.5 713.8 L1076.5 717.6 L1077.3 721.5 L1077.9 725.5 L1078.5 729.6 L1078.9 733.7 L1079.2 738.0 L1079.4 742.3 L1079.4 746.6 L1079.3 750.9 L1079.1 755.3 L1078.7 759.7 L1078.2 764.0 L1077.6 768.3 L1076.9 772.6 L1076.1 776.8 L1075.1 780.9 L1074.0 784.9 L1072.8 788.8 L1071.5 792.6 L1070.1 796.3 L1068.6 799.8 L1067.0 803.2 L1065.3 806.4 L1063.6 809.4 L1061.7 812.3 L1059.8 814.9 L1057.8 817.4 L1055.8 819.6 L1053.7 821.6 L1051.6 823.4 L1049.4 825.0 L1047.2 826.3 L1045.0 827.4 L1042.8 828.2 L1040.5 828.8 L1038.3 829.2 L1036.0 829.2 L1033.8 829.1 L1031.6 828.7" fill="none" stroke="#0000ff" stroke-width="1.8"/>
<path d="M1030.0 681.1h7.0M1033.5 677.6v7.0M1031.0 678.6l5.0 5.0M1031.0 683.6l5.0 -5.0M1028.8 684.7l2.6 2.6l-2.6 2.6l-2.6 -2.6ZM1052.2 818.0l4.0 6.9h-8.0Z" fill="none" stroke="#0000ff" stroke-width="1"/><path d="M1019.1 824.6h7.0M1022.6 821.1v7.0M1020.1 822.1l5.0 5.0M1020.1 827.1l5.0 -5.0M1028.2 825.1l2.6 2.6l-2.6 2.6l-2.6 -2.6ZM1056.8 675.5l4.0 6.9h-8.0Z" fill="none" stroke="#ff5a3c" stroke-width="1"/>
</svg></body></html>
